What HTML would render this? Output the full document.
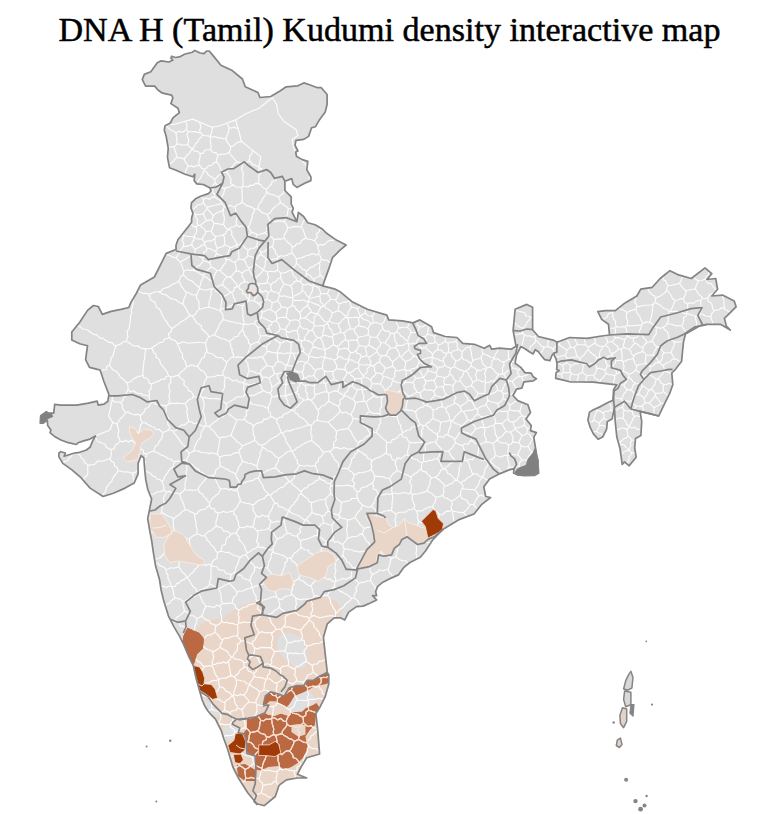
<!DOCTYPE html>
<html><head><meta charset="utf-8"><style>
html,body{margin:0;padding:0;background:#fff;width:770px;height:814px;overflow:hidden}
#t{position:absolute;left:4.5px;top:13.3px;width:770px;text-align:center;font-family:"Liberation Serif",serif;font-size:34.1px;line-height:1;color:#000;white-space:nowrap;-webkit-text-stroke:0.5px #000;transform:scaleY(1.0);transform-origin:50% 27px}
svg{position:absolute;left:0;top:0}
</style></head><body>
<svg width="770" height="814" viewBox="0 0 770 814">
<defs><clipPath id="c"><path d="M194.9 50.4L200.1 53L204 53.6L206.6 51L209.2 51L213.1 55.6L220.9 65.3L231.7 70.2L242.4 79L245.3 86.8L258 92.6L259.9 97.5L270.7 96.5L280.4 90.7L286.2 86.8L297.9 85.8L303.8 82.9L309.6 84.8L317.4 87.7L321.3 87.7L327.1 94.5L327.1 104.3L325.2 112.1L319.4 119.9L315.5 126.7L311.6 127.7L308.6 136.4L303.8 139.4L296 140.3L295 145.2L297.9 151L295.8 152.1L296.4 156.2L301.6 159.4L307.8 161.4L306.8 169.7L310.9 177L310.9 180.6L304.7 183.2L300 185.8L296.9 187.4L293.2 184.3L291.7 178.6L284.9 181.2L284.9 186.4L284.9 190.5L291.2 196.8L291.2 204L293.2 208.2L292.2 212.3L295.3 218.6L296.9 221.7L298.4 212.3L303.6 216.5L307.8 222.7L315.1 224.8L322.3 229L326.6 233.3L336.4 240.1L346.1 245L340.3 249.9L332.5 257.7L328.6 269.4L324.7 280.1L322.7 285.9L334.4 288.8L340 291.7L351.7 301.4L367.3 309.2L386.8 315.1L388.7 319.9L402.3 320.9L413.1 322.9L419.9 319.9L431.6 326.8L433.5 332.6L445.2 336.5L456.9 337.5L462.7 343.3L474.4 344.3L484.2 348.2L489.7 345.3L491.7 349.2L499.5 348.2L511.2 349.2L516 346.2L513.1 330.7L515.1 309.2L526.8 304.4L532.6 307.3L532.6 324.8L532.6 329.7L538.4 336.5L554 340.4L557 342.3L569.6 337.5L587.1 338.4L601.7 336L609.5 335L608.5 324.3L601.7 319.4L597.8 311.6L605.6 310.7L615.3 310.7L625.1 302.9L636.8 296L640.7 289.2L652.3 287.3L660.1 278.5L669.9 270.7L677.7 274.6L691.3 278.5L705 267.8L711.8 273.6L706.9 279.5L715.7 278.5L717.6 289.2L711.8 296L722.5 295.1L734.2 300.9L736.1 306.8L724.4 318.4L726.4 326.2L730.3 330.1L720.5 324.3L706.9 324.3L699.1 326.2L685.5 334L683.5 341.8L682.5 351.6L681.6 361.3L675.7 369.1L671.8 373L672.8 384.7L669.7 393.4L663.5 405.8L658.8 416L649.5 413.6L640.1 411.3L641.7 421.4L640.9 435.5L635.5 438.6L634.7 447.9L636.2 457.3L632.3 461.9L629.2 465.8L624.5 461.9L622.2 464.3L619.9 447.9L616.8 437L615.2 421.4L614.4 407.4L612.1 419.1L607.4 421.4L606.6 429.2L602.7 437L598.1 439.3L593.4 433.9L590.3 427.7L587.9 419.9L589.5 412.1L593.4 409.7L600.4 406.6L607.4 402.7L612.9 400.4L613.6 389.5L616.8 384.8L593.4 382.2L580 382L570.6 382L562.3 379.9L555.6 378.3L556.1 372.6L559.2 370.5L556.6 369.5L557.1 364.3L556.1 359.1L553.5 353.4L551.9 355.5L549.9 360.6L544.7 359.6L541.6 356L538.4 351.8L535.3 349.7L533.2 353.9L530.1 352.3L524.9 348.7L520.8 346.6L516.6 354.9L515.1 363.2L520.8 367.4L524.9 372.6L531.2 373.1L533.2 376.8L536.4 378.8L533.2 380.9L523.9 381.9L521.8 388.2L516.6 389.2L513 395.5L517.7 400.6L527.9 404.7L530.5 412.5L526 419L531.2 425.5L530.5 430.6L536.4 432.6L533.8 437.1L535 444.9L536.8 455.8L538.1 460.7L538.1 465.6L538.7 473L534.4 475.4L524.6 475.7L517.2 474.8L513.5 473L514.1 468.7L509.2 469.9L500 473.6L489.6 479L483.8 486.8L485.7 496.5L490.6 497.5L481.8 504.3L474 514L458.4 519.9L443.5 529L433.1 539.4L425.5 551L420.3 557.3L409.9 562.5L403.6 567.7L398.4 574.9L391.2 578.1L382.9 582.2L377.7 586.4L375.6 591.6L376.6 595.7L372.5 595.7L376.6 599.9L370.4 603L363.1 606.1L356.5 606.6L348.7 612.1L344.8 619.9L340.9 617.9L334.1 617.9L327.3 623.8L323.4 637.4L325.3 654.9L327.3 672.5L328.8 674.8L328.8 684L325.1 696.9L319.6 707.9L315.9 713.5L317.7 730.1L319.6 754L306.7 757.7L301.1 767L297.4 774.3L306.7 778L297.4 778L286.4 779.9L279 785.4L275.3 796.5L264.3 805.7L256.9 803.8L247.7 792.8L238.4 778L232.9 767L227.4 748.5L223.6 738.3L221.4 730.9L218.4 725L215.5 719.2L211 714.7L207.4 710.3L204.4 705.2L202.2 700L199.8 691.4L196.1 678.5L193.3 665.6L188.7 656.4L183.2 643.5L179.5 636.1L174 626.9L168.4 615.8L163.8 601.1L161.1 590L159.5 579.6L155.6 565.9L153.6 554.1L151.6 540.3L149.7 530.5L147.7 518.7L149.7 508.8L151.6 499L147.7 489.2L145.7 479.3L144.7 469.5L143.8 457.7L141 455.7L138.1 463.4L138.1 473.8L134.2 482.9L125.1 488.1L113.4 493.2L103.1 496.5L90.1 488.1L81 477.7L71.9 469.9L62.8 463.4L58.9 456.9L58.9 453L60.8 451.7L65.4 453L64.1 456.2L74.5 453L78.2 452.7L86.4 450L90 447.3L92.7 440.9L95.5 435.9L90 439.1L83.6 440.9L78.2 442.7L76.4 444.5L68.2 442.7L60.9 440L54.5 436.4L50 432.7L50.9 430L47.7 425.5L47.3 420L43.3 423.1L40.2 423.1L40.7 415.8L46.4 411.6L48 413.2L53.7 413.2L54.7 404.4L61.2 405.1L76.8 405.1L88.4 403.1L97.2 401.2L98.2 405.1L104 404.1L107.9 401.2L108.9 394.4L104 381.7L100.1 370L97.4 369.4L89.5 367.4L85.6 359.6L87.5 345.8L79.7 343.8L71.8 339.9L71.8 332L79.7 322.2L87.5 310.4L93.4 305.5L98.3 306.5L102.3 314.4L111.1 311.4L120.9 309.4L128.8 307.5L130.8 302.6L136.7 292.7L140.6 284.9L154.4 277L162.2 261.3L166.2 253.4L176 249.5L176 245.6L177.9 239.7L185.8 229.8L187.7 227.4L191.6 222.2L191.6 218.3L192.9 213.1L190.9 207.9L191.6 202.7L195.5 198.8L200.6 196.2L208.4 193.6L211 191L209.7 187.8L203.2 184.5L196.8 183.9L194.2 180.6L194.8 174.2L192.9 176.8L185.1 174.2L176 170.3L169.5 167.7L167.5 157.3L168.2 148.2L166.2 136.5L164.3 130L165.1 125.7L170.3 123.1L172.9 117.9L179.4 112.7L178 108.2L170.9 103.6L172.9 97.8L171.6 95.2L162.5 93.2L157.9 90L154.7 86.1L145.6 86.1L142.3 79.6L144.3 74.4L150.8 71.8L157.3 62.7L161.2 60.8L169 62L172.9 60.1L170.9 58.2L171.6 56.2L175.5 57.5L179.4 56.9L184.5 54.3L192.3 52.3Z"/></clipPath><clipPath id="cc"><path d="M187.2 627.8L199 632.7L203.9 638.6L202.9 648.4L197 654.3L194 664.1L190.1 662.2L185.2 648.4L182.2 642.5L183.2 636.6ZM262.3 707.4L263.3 705.3L265.4 696L270.6 691.8L277.9 693.9L284.1 696L289.3 687.7L296.6 685.6L303.8 685.6L307 680.4L313.2 680.4L319.4 676.2L323.6 674.2L327.7 672.1L329.8 680.6L327.7 683.5L319.4 685.6L315.3 685.6L309 689.7L301.8 692.9L294.5 696L289.3 704.3L286.2 707.4L275.8 701.2L269.5 701.2L265.4 705.3ZM247 718.1L257.5 716.3L265.1 713.4L273.9 716.3L280.9 713.4L289.1 716.3L290.3 712.2L301.9 711.8L306 708L313 705L316.5 703L319.5 707.5L316 715.7L314.8 725.1L310.1 729.7L305.5 736.8L309 741.4L306.6 750.8L303.1 757.8L298.4 762.5L291.4 767.1L284.4 769.5L278.6 766L268.1 767.1L261 770.6L255.2 769.5L255.2 760.1L252.9 755.5L247 751.9L243.5 746.1L241.2 741.4L242.3 734.4L247 728.6ZM236.6 764.9L245 764L255.5 770L255.5 781.1L245 781L238 776Z"/></clipPath></defs>
<path d="M194.9 50.4L200.1 53L204 53.6L206.6 51L209.2 51L213.1 55.6L220.9 65.3L231.7 70.2L242.4 79L245.3 86.8L258 92.6L259.9 97.5L270.7 96.5L280.4 90.7L286.2 86.8L297.9 85.8L303.8 82.9L309.6 84.8L317.4 87.7L321.3 87.7L327.1 94.5L327.1 104.3L325.2 112.1L319.4 119.9L315.5 126.7L311.6 127.7L308.6 136.4L303.8 139.4L296 140.3L295 145.2L297.9 151L295.8 152.1L296.4 156.2L301.6 159.4L307.8 161.4L306.8 169.7L310.9 177L310.9 180.6L304.7 183.2L300 185.8L296.9 187.4L293.2 184.3L291.7 178.6L284.9 181.2L284.9 186.4L284.9 190.5L291.2 196.8L291.2 204L293.2 208.2L292.2 212.3L295.3 218.6L296.9 221.7L298.4 212.3L303.6 216.5L307.8 222.7L315.1 224.8L322.3 229L326.6 233.3L336.4 240.1L346.1 245L340.3 249.9L332.5 257.7L328.6 269.4L324.7 280.1L322.7 285.9L334.4 288.8L340 291.7L351.7 301.4L367.3 309.2L386.8 315.1L388.7 319.9L402.3 320.9L413.1 322.9L419.9 319.9L431.6 326.8L433.5 332.6L445.2 336.5L456.9 337.5L462.7 343.3L474.4 344.3L484.2 348.2L489.7 345.3L491.7 349.2L499.5 348.2L511.2 349.2L516 346.2L513.1 330.7L515.1 309.2L526.8 304.4L532.6 307.3L532.6 324.8L532.6 329.7L538.4 336.5L554 340.4L557 342.3L569.6 337.5L587.1 338.4L601.7 336L609.5 335L608.5 324.3L601.7 319.4L597.8 311.6L605.6 310.7L615.3 310.7L625.1 302.9L636.8 296L640.7 289.2L652.3 287.3L660.1 278.5L669.9 270.7L677.7 274.6L691.3 278.5L705 267.8L711.8 273.6L706.9 279.5L715.7 278.5L717.6 289.2L711.8 296L722.5 295.1L734.2 300.9L736.1 306.8L724.4 318.4L726.4 326.2L730.3 330.1L720.5 324.3L706.9 324.3L699.1 326.2L685.5 334L683.5 341.8L682.5 351.6L681.6 361.3L675.7 369.1L671.8 373L672.8 384.7L669.7 393.4L663.5 405.8L658.8 416L649.5 413.6L640.1 411.3L641.7 421.4L640.9 435.5L635.5 438.6L634.7 447.9L636.2 457.3L632.3 461.9L629.2 465.8L624.5 461.9L622.2 464.3L619.9 447.9L616.8 437L615.2 421.4L614.4 407.4L612.1 419.1L607.4 421.4L606.6 429.2L602.7 437L598.1 439.3L593.4 433.9L590.3 427.7L587.9 419.9L589.5 412.1L593.4 409.7L600.4 406.6L607.4 402.7L612.9 400.4L613.6 389.5L616.8 384.8L593.4 382.2L580 382L570.6 382L562.3 379.9L555.6 378.3L556.1 372.6L559.2 370.5L556.6 369.5L557.1 364.3L556.1 359.1L553.5 353.4L551.9 355.5L549.9 360.6L544.7 359.6L541.6 356L538.4 351.8L535.3 349.7L533.2 353.9L530.1 352.3L524.9 348.7L520.8 346.6L516.6 354.9L515.1 363.2L520.8 367.4L524.9 372.6L531.2 373.1L533.2 376.8L536.4 378.8L533.2 380.9L523.9 381.9L521.8 388.2L516.6 389.2L513 395.5L517.7 400.6L527.9 404.7L530.5 412.5L526 419L531.2 425.5L530.5 430.6L536.4 432.6L533.8 437.1L535 444.9L536.8 455.8L538.1 460.7L538.1 465.6L538.7 473L534.4 475.4L524.6 475.7L517.2 474.8L513.5 473L514.1 468.7L509.2 469.9L500 473.6L489.6 479L483.8 486.8L485.7 496.5L490.6 497.5L481.8 504.3L474 514L458.4 519.9L443.5 529L433.1 539.4L425.5 551L420.3 557.3L409.9 562.5L403.6 567.7L398.4 574.9L391.2 578.1L382.9 582.2L377.7 586.4L375.6 591.6L376.6 595.7L372.5 595.7L376.6 599.9L370.4 603L363.1 606.1L356.5 606.6L348.7 612.1L344.8 619.9L340.9 617.9L334.1 617.9L327.3 623.8L323.4 637.4L325.3 654.9L327.3 672.5L328.8 674.8L328.8 684L325.1 696.9L319.6 707.9L315.9 713.5L317.7 730.1L319.6 754L306.7 757.7L301.1 767L297.4 774.3L306.7 778L297.4 778L286.4 779.9L279 785.4L275.3 796.5L264.3 805.7L256.9 803.8L247.7 792.8L238.4 778L232.9 767L227.4 748.5L223.6 738.3L221.4 730.9L218.4 725L215.5 719.2L211 714.7L207.4 710.3L204.4 705.2L202.2 700L199.8 691.4L196.1 678.5L193.3 665.6L188.7 656.4L183.2 643.5L179.5 636.1L174 626.9L168.4 615.8L163.8 601.1L161.1 590L159.5 579.6L155.6 565.9L153.6 554.1L151.6 540.3L149.7 530.5L147.7 518.7L149.7 508.8L151.6 499L147.7 489.2L145.7 479.3L144.7 469.5L143.8 457.7L141 455.7L138.1 463.4L138.1 473.8L134.2 482.9L125.1 488.1L113.4 493.2L103.1 496.5L90.1 488.1L81 477.7L71.9 469.9L62.8 463.4L58.9 456.9L58.9 453L60.8 451.7L65.4 453L64.1 456.2L74.5 453L78.2 452.7L86.4 450L90 447.3L92.7 440.9L95.5 435.9L90 439.1L83.6 440.9L78.2 442.7L76.4 444.5L68.2 442.7L60.9 440L54.5 436.4L50 432.7L50.9 430L47.7 425.5L47.3 420L43.3 423.1L40.2 423.1L40.7 415.8L46.4 411.6L48 413.2L53.7 413.2L54.7 404.4L61.2 405.1L76.8 405.1L88.4 403.1L97.2 401.2L98.2 405.1L104 404.1L107.9 401.2L108.9 394.4L104 381.7L100.1 370L97.4 369.4L89.5 367.4L85.6 359.6L87.5 345.8L79.7 343.8L71.8 339.9L71.8 332L79.7 322.2L87.5 310.4L93.4 305.5L98.3 306.5L102.3 314.4L111.1 311.4L120.9 309.4L128.8 307.5L130.8 302.6L136.7 292.7L140.6 284.9L154.4 277L162.2 261.3L166.2 253.4L176 249.5L176 245.6L177.9 239.7L185.8 229.8L187.7 227.4L191.6 222.2L191.6 218.3L192.9 213.1L190.9 207.9L191.6 202.7L195.5 198.8L200.6 196.2L208.4 193.6L211 191L209.7 187.8L203.2 184.5L196.8 183.9L194.2 180.6L194.8 174.2L192.9 176.8L185.1 174.2L176 170.3L169.5 167.7L167.5 157.3L168.2 148.2L166.2 136.5L164.3 130L165.1 125.7L170.3 123.1L172.9 117.9L179.4 112.7L178 108.2L170.9 103.6L172.9 97.8L171.6 95.2L162.5 93.2L157.9 90L154.7 86.1L145.6 86.1L142.3 79.6L144.3 74.4L150.8 71.8L157.3 62.7L161.2 60.8L169 62L172.9 60.1L170.9 58.2L171.6 56.2L175.5 57.5L179.4 56.9L184.5 54.3L192.3 52.3Z" fill="#dfdfdf"/>
<g clip-path="url(#c)">
<path d="M129.4 426.5L135.6 428.6L138 434L139.7 432.7L143.9 428.6L152.2 430.6L154.3 434.8L148 439L141.8 443.1L139.7 451.4L137.7 459.7L127.3 461.8L123.1 457.7L131.4 451.4L135.6 443.1L131.4 436.9L129.4 430.6ZM150 513.8L161.8 513.8L165.7 519.7L171.6 529.5L172.4 533.8L167.7 535.4L163.9 537.5L155.9 537.4L152.9 531.5L150 530.5ZM172.6 530.5L179.5 532.4L184.4 535.4L187.4 541.3L192.3 549.2L197.2 556L204.1 560L205.1 563.9L199.2 564.9L189.3 562.9L177.5 561L169.7 562.9L164.7 555.1L163.8 544.2L166.7 539.3L168.7 535.4ZM384.3 391L389.5 390.4L394.7 391.7L399.2 393L403.1 393.6L405.1 396.9L403.1 399.5L402.5 406L400.5 411.2L396 415.1L390.1 415.1L386.9 411.2L385.6 407.9L387.5 401.4L386.9 395.6ZM366.9 513.4L376 516L385.7 517.9L389 525.1L392.9 527.7L399.4 525.1L404.5 518.6L408.4 522.5L416.2 525.1L422.7 527.7L426.6 529L427.9 536.8L424 543.2L417.5 544.5L411 539.4L407.1 536.8L401.9 539.4L399.4 544.5L394.2 548.4L391.6 554.9L383.8 554.9L381.2 551L377.3 554.9L376 562.7L369.5 566.6L357.8 567.9L360.4 558.8L366.9 549.7L374.7 541.9L373.4 532.9L370.8 525.1L365.6 517.3ZM297 566.2L310.7 556.5L316.5 552.6L326.2 550.7L334 554.5L336 562.3L328.2 566.2L325.7 576L318.4 581.4L310.7 578L299 575ZM261.9 577.9L271.7 574L281.4 576L289.2 572.1L293.5 581.8L291.2 589.6L281.4 588.7L273.6 591.6L267.8 589.6L263.9 583.8ZM185.6 627L194.9 630.1L204.3 622.3L213.6 619.2L223 617.7L232.3 611.4L238.6 606.8L247.9 603.6L254.9 602.1L261.9 606.8L262.7 614.9L276.8 617.3L280 613.6L286.2 611.6L294.5 611.6L296.6 608.4L302.9 605.3L304.9 600.1L311.2 598.1L319.5 597L323.6 597L331.9 599.1L338.2 603.2L341.3 609.5L342.3 616.8L341.3 620.9L334.1 617.9L327.3 623.8L323.4 637.4L325.3 654.9L327.3 672.5L328.8 674.8L328.8 684L325.1 696.9L319.6 707.9L315.9 713.5L317.7 730.1L319.6 754L306.7 757.7L301.1 767L297.4 774.3L306.7 778L297.4 778L286.4 779.9L279 785.4L275.3 796.5L264.3 805.7L256.9 803.8L247.7 792.8L238.4 778L232.9 767L227.4 748.5L221.8 731.9L216.4 719.1L210.9 709.9L205.3 700.6L199.8 691.4L196.1 678.5L193.3 665.6L188.7 656.4L183.2 643.5ZM622 706L626 705L627 712L626 720L624 727L621 726L620.5 716ZM617 739L621 738.5L622.5 743L621 747L616 747.5L615.8 743Z" fill="#ead6c9"/>
<path d="M278 637L284 633L291 633L298 636L305 646L307.9 658L305 667.9L296 668L290 663L283 657L277 648ZM293.5 636.5L302.9 636.5L303 650L294 650ZM290.3 693L299 690L309 691L315.3 698L313 705L306 708L301.9 711.8L291.4 712.2L289.1 705.2ZM200.8 692.5L206.6 701.5L210.3 700L213.3 704.4L217.7 708.8L222.1 713.3L221.4 717.7L215 715L208 710ZM222.8 728L232.4 724.3L235.4 725.8L239.8 728L238.3 733L236 738L228 741.3L224 738ZM177 622L185.6 621L183 630L182.5 642.6L179.5 636.1L174 626.9Z" fill="#dfdfdf"/>
<path d="M187.2 627.8L199 632.7L203.9 638.6L202.9 648.4L197 654.3L194 664.1L190.1 662.2L185.2 648.4L182.2 642.5L183.2 636.6ZM262.3 707.4L263.3 705.3L265.4 696L270.6 691.8L277.9 693.9L284.1 696L289.3 687.7L296.6 685.6L303.8 685.6L307 680.4L313.2 680.4L319.4 676.2L323.6 674.2L327.7 672.1L329.8 680.6L327.7 683.5L319.4 685.6L315.3 685.6L309 689.7L301.8 692.9L294.5 696L289.3 704.3L286.2 707.4L275.8 701.2L269.5 701.2L265.4 705.3ZM247 718.1L257.5 716.3L265.1 713.4L273.9 716.3L280.9 713.4L289.1 716.3L290.3 712.2L301.9 711.8L306 708L313 705L316.5 703L319.5 707.5L316 715.7L314.8 725.1L310.1 729.7L305.5 736.8L309 741.4L306.6 750.8L303.1 757.8L298.4 762.5L291.4 767.1L284.4 769.5L278.6 766L268.1 767.1L261 770.6L255.2 769.5L255.2 760.1L252.9 755.5L247 751.9L243.5 746.1L241.2 741.4L242.3 734.4L247 728.6ZM236.6 764.9L245 764L255.5 770L255.5 781.1L245 781L238 776Z" fill="#ba6942"/>
<path d="M291.4 725.1L298.4 723.9L305.5 725.1L305.5 734.4L298.4 736.8L291.4 732.1ZM310.1 729.7L316 727.4L317.1 739.1L317.1 750.8L310.1 750.8L306.6 743.8L305.5 736.8ZM266.9 714.5L268 708L272 703.5L278 703.5L286.2 709L289.1 715.7L280.9 713.4L273.9 715.7ZM243.5 753.1L255.2 755.5L255.2 764L247 764L240 762Z" fill="#ead6c9"/>
<g stroke="#fdfcfb"><path id="dp" d="M63.3 462.7L65 461.2L67.9 460.7L69 458.2L70.9 456.6L72.5 454.5L72.6 454.4M77.5 453.6L77.7 454.1L80.2 455.3L81.2 457.9L83.4 459.5L84.3 462.1L86.4 463.7L88.2 465.5M77.9 325.7L78.3 326.2L80.7 327L82.5 329L85.2 329.3L87.7 329.8L89.5 331.8L91.8 332.9L93.6 334.7L96.6 334.5L98.3 336.6L100.3 338.1L103 338.4L105 339.9L107.2 341.1L109.4 342.4L112.1 342.6L113.8 344.8L115.9 346.1M84.1 480L84.1 477.6L86.9 475.7L87.8 473.3L87.8 470.7L87.6 468L88.2 465.5M110 458.6L107.5 459.3L105.2 460.3L102.8 461.3L100.1 461L97.4 461.1L95.6 463.7L93.3 464.7L90.7 464.9L88.2 465.5M111 449.5L108.5 448.5L106.2 447.3L105.1 444.3L102.5 443.5L100.3 442.2L97.7 441.3L96.2 439L95.1 438.2M109.5 365.3L106.9 366.4L106.2 369.6L102.8 369.7L101.3 371M118 470.6L116.8 472.8L115.2 474.8L113.7 476.9L112.3 479L111.8 481.7L109.4 483.2L108.3 485.4L106.4 487.3L105.9 490L104.9 492.4L103.2 494.3L102.6 495.2M109.5 365.3L111.2 367.5L112.8 369.8L115.5 370.9L117.6 372.8L119.3 374.9L120.6 377.5L123.1 378.9L125 381L127 382.8M115.9 346.1L114.8 348.4L114.4 350.9L113.4 353.3L113.1 355.8L111.1 357.9L111.1 360.5L109.7 362.7L109.5 365.3M118 470.6L117.2 467.6L114.5 466L114.1 462.8L111.3 461.2L110 458.6M110 458.6L111.3 455.7L111.1 452.6L111 449.5M120.2 441.1L118.2 443.5L115.3 444.9L114.4 448.6L111 449.5M112 400.7L113.1 400.6L115.4 402.2L118.2 401.7L120.7 402.7M117 423.6L114.5 423.3L112.6 422.1M115.9 346.1L118.3 344.7L121 343.9L123.2 341.8L126.1 341.5M117 423.6L117.6 426L118.2 428.5L118.9 431L118 433.7L117.9 436.3L119.5 438.6L120.2 441.1M125.3 412.5L124 415L122.2 417.1L120.1 419L118.8 421.5L117 423.6M132.6 473.4L129.8 472.2L126.8 471.9L123.8 472L120.9 471.3L118 470.6M133.9 441.7L131.2 440.2L128.4 442.1L125.8 440.2L122.9 441.9L120.2 441.1M125.3 412.5L123.9 410.2L122.4 407.9L122.4 404.9L120.7 402.7M128.1 389.9L126.4 392.3L126.6 395.8L123.4 397.5L122.8 400.5L120.7 402.7M125.3 412.5L128 411.9L130.3 413.4L132.7 414.2L135.1 414.9L137.9 414.1L140.2 415.7M126.1 341.5L128.5 342.4L130.6 343.7L132.6 345.4L135 346.2L137.9 345.8L139.9 347.5L142.1 348.6L144.8 348.6M133.2 300.1L133.4 302.8L132.4 305.3L132.2 307.9L131.3 310.5L131.8 313.2L130.5 315.6L130.4 318.3L130.2 320.9L129.9 323.5L129.4 326.1L129.2 328.7L127.2 331L127.3 333.7L127.9 336.5L127 339L126.1 341.5M127 382.8L128 386.3L128.1 389.9M127 382.8L129.5 382.2L131.7 381L133.4 378.7L135.9 377.9L137.9 376.2L140.8 376.3L142.9 374.9M148.8 396.2L146.3 395.2L143.4 395.2L141.1 393.5L138.3 393.5L135.8 392.5L133.5 390.8L130.3 391.8L128.1 389.9M132.6 473.4L133.2 476L133.7 478.5L133.8 481.1L134 481.4M132.6 473.4L135.2 472.4L137.2 470.3L137.3 470.3M133.9 441.7L135.3 443.9L137.3 445.5L139.3 447L140.9 449L143.3 450.2L143.7 453.4L146.7 454M133.9 441.7L134.6 439.1L135.9 436.8L136 434L138.5 432.3L139.6 429.9L140.1 427.2L140.6 424.6L142.6 422.6M138.7 290.5L140.1 292.3L142.6 293.3L145.5 293.3L148.2 293.9M142.6 422.6L140.5 419.4L140.2 415.7M151.4 402.8L149.7 405.1L148.1 407.5L145.2 408.8L144.3 411.7L142.3 413.8L140.2 415.7M163.1 432.5L160.9 431.2L159.1 429.2L156 429.8L154.4 427.3L151.9 426.7L149.6 425.6L147.5 424.2L145.4 422.7L142.6 422.6M142.9 374.9L143.8 377.6L146.7 378.3L148.5 380.1L149.1 383.1L151.8 384M142.9 374.9L142.8 372.3L143.2 369.6L143.3 367L143.7 364.4L143.8 361.8L144.5 359.2L144.8 356.5L144.8 353.9L145.6 351.3L144.8 348.6M144.6 458.1L146.1 456.8L146.7 454M144.8 348.6L148.2 349L151.5 348.3M145 462.9L145.6 462.6L144.9 461.3M161.7 481.5L159.9 479.4L156.9 479L155.2 476.7L152.5 475.9L150.8 473.7L148.5 472.2L145.8 471.3L145.7 471.1M153.7 451.1L151.3 451.8L148.9 452.7L146.7 454M171.8 328.4L169.9 326.5L168.2 324.6L167 322.2L165.5 320.1L163.8 318.1L162.6 315.7L161.5 313.3L160.6 310.8L159 308.7L156.3 307.3L155.8 304.5L154.7 302.1L152 300.8L150.1 298.9L149.9 295.9L148.2 293.9M158.5 291.7L155.8 291.7L153.3 292.7L150.8 293.6L148.2 293.9M148.6 518.3L149.9 517.9L152.5 517.4L154.7 516.2L156.8 514.8L159.4 514.4L161.3 512.6M148.8 396.2L149.6 399.7L151.4 402.8M151.8 384L151 386.4L151 389L148.8 391.1L149.9 393.9L148.8 396.2M150.7 494.6L151.4 494.3L154.1 494.1L156.2 492.1L158.9 492L161.5 491.3L163.8 489.9M150.8 532.2L153 531.6L155.4 532.9L158 533.4L160.7 533.4L163.6 532.2L165.7 534.9L168.2 535.9L171 535.3L173.4 536.6M151.4 402.8L154 402.6L156.1 404.5L158.7 404.8L161.2 405L163.7 405.4L166.1 405.9M168.9 376L167.6 373.8L166.9 371.3L165.1 369.4L163.7 367.4L162.1 365.4L160.3 363.6L160 360.8L158.5 358.7L156 357.3L156.2 354.2L153.8 352.8L153 350.3L151.5 348.3M169.6 337.5L167.2 338.5L164.4 339.1L163.1 342L160.3 342.4L158 343.6L155.9 345.3L153.6 346.6L151.5 348.3M151.8 384L154.2 382.8L156.5 381.4L159.3 381.1L161.3 379L164.6 379.5L166.1 376.5L168.9 376M175.2 461.8L172.6 461L170.6 459L167.9 458.6L165.8 456.7L163.3 455.7L160.7 454.9L158.5 453.3L156 452.3L153.7 451.1M163.1 432.5L162.2 435L162 437.8L160.4 439.9L158.9 442.1L158 444.6L155.5 446.2L154.4 448.5L153.7 451.1M167.8 551.7L166.4 554.2L163.3 554.1L161.7 556.3L159.7 557.8L157.2 558.8L155.3 559.2M156 563.2L158 563.3L159.5 565.6L162 566.5L164.3 567.6L166 569.7M158.5 291.7L160.9 293.1L163.3 294.4L166.2 294.8L168.3 296.7L170.5 298.4L173.2 299.2L176 299.6L178 301.8L180.5 303L183 304.1M158.5 291.7L161.2 290.9L163.2 288.7L165.9 287.8L168.6 287.1L170.8 285.2L173.3 284L175.9 283L178.2 281.4M161.3 512.6L163.9 513.6L166.3 515.1L168.7 516.5L171.5 517L173.5 519.2M166.3 492L165.3 494.5L163.8 496.8L163.4 499.5L164.4 502.4L163 504.8L162.2 507.3L162 510L161.3 512.6M161.4 587L163.5 586.1L166.2 587.8L168.6 586.2L171.2 586.3M163.8 489.9L163.8 486.9L163.1 484.1L161.7 481.5M175.2 461.8L173.7 464L173.3 466.9L170.7 468.3L168.8 470.3L167.6 472.7L166 474.8L164.4 476.9L163.8 479.7L161.7 481.5M163.1 432.5L166.1 431.3L168.9 429.7M166.3 492L163.8 489.9M165.9 126.2L168 127.5L169.8 129.3L172.1 130.4L174.4 131.5L176.2 133.3M165.9 605.3L166.7 604.3L169.3 603.3L170.8 601L173 599.5L175 597.8M171.2 586.3L170.6 583.4L169.2 580.8L167.9 578.2L168 575.1L166.4 572.6L166 569.7M166 569.7L168.4 568.8L170.9 567.7L173.7 568.2L176.2 567.5L178.7 566.8M168.9 429.7L169.9 426.9L167.8 424.4L167.8 421.7L168.5 419L167.5 416.4L165.6 414L166.2 411.2L166.3 408.5L166.1 405.9M168.8 404.1L166.1 405.9M166.3 492L169.1 491.2L171.6 492.9L174.3 493.2L177 493.2L179.7 493.7M166.4 254.7L168.8 255.3L171.3 256.2L173.6 257.4L176.2 257.7M167.8 551.7L170.7 552.6L173.2 554.3L174.9 557L178 557.9L180.1 560.1M167.8 551.7L168.8 549.2L169.6 546.6L170.4 544.1L171.4 541.6L172.4 539.1L173.4 536.6M168.8 146.8L169 146.8L171.5 146.8L174 146.9M171 376.8L170.7 379.5L170.9 382.3L168.8 384.9L168.9 387.6L170 390.4L169.7 393.2L168.8 395.8L169.6 398.6L169.2 401.4L168.8 404.1M185.3 403.4L182.6 403.5L179.8 403.5L177 403.1L174.3 403.5L171.5 403.1L168.8 404.1M173.4 431L168.9 429.7M171 376.8L168.9 376M177.3 157.4L175.1 158.8L173.6 160.9L171.7 162.5L169.6 163.9M177.1 343.1L175.2 340.4L171.8 339.8L169.6 337.5M171.8 328.4L171.3 331.5L168.4 334L169.6 337.5M171 376.8L173.6 376.6L176.1 375.6L178.7 375.4M172 586.7L171.2 586.3M191.1 316L188.4 316.5L186.5 318.3L184.5 319.9L182.3 321.1L180.1 322.4L178.3 324.3L176 325.5L174.2 327.3L171.8 328.4M172 586.7L172.9 589.5L173.5 592.3L173.8 595.2L175 597.8M172 586.7L175.2 586.4L176.7 583.6L179.4 582.6L181.4 580.4L184.2 579.6L186.3 577.6M172.4 621.9L173.8 621.4M173.4 536.6L174.5 536M189.2 453.5L187.6 451.3L185.3 449.5L185.1 446.3L182.8 444.6L181.1 442.4L179.6 440.1L178 437.8L176.4 435.6L174.4 433.7L173.4 431M188.7 421.7L186.6 423.1L184.8 425L181.7 424.9L179.7 426.6L177.8 428.4L176.1 430.5L173.4 431M173.5 519.2L173.2 522L173.4 524.8L173.4 527.6L174.6 530.4L174.8 533.2L174.5 536M185.4 509.7L183.3 511.1L181.1 512.4L179.6 514.6L177.3 515.7L175.3 517.3L173.5 519.2M190.3 631.3L187.7 630.3L185.8 628.1L183.6 626.4L180.5 626.2L179.1 623.3L176.6 622.1L173.8 621.4M173.8 621.4L175.6 619.7L176.7 617.3L179.1 616.1L181.1 614.6L182.9 612.8L184.5 610.8M177.3 157.4L176.3 154.9L175.7 152.1L174.7 149.6L174 146.9M176.7 144.3L174 146.9M174.5 536L177.1 536.3L179.9 535.4L182.3 536.7L184.5 539L187.2 538.7L189.8 538.6M175 597.8L177.8 598.5L180.5 599.4L182.8 601.3M186.4 459.5L183.7 460.3L180.9 461.2L178 460.9L175.2 461.8M176.2 257.7L178 260.2L180.4 262.1M176.2 257.7L177.6 255.4L179.4 253.4L179.9 250.5L181.9 248.6L183.3 246.4M176.2 133.3L176.3 136.1L176.8 138.8L176.9 141.5L176.7 144.3M176.2 133.3L178.3 131.3L181.5 132.1L184.1 131.4L186.2 129.3M176.7 144.3L179.5 144L182.3 145.2L185.1 144.9L187.9 144.6M177.1 343.1L179.7 343.5L182.3 341.9L184.9 342.3L187.5 343.1L190 343.2L192.6 342.5L195.2 342.7L197.8 342.2L200.4 342.5L203 342.7L205.6 342.9M186.9 366.5L185.8 364.2L185.4 361.6L183.8 359.5L182.4 357.4L182.5 354.6L181.5 352.3L179.7 350.3L179.4 347.6L178 345.5L177.1 343.1M184.4 159.1L181 157.9L177.3 157.4M178.2 281.4L180.2 283.2L181 286L183 287.9L184.3 290.3L186.2 292.3M178.2 281.4L179.8 279.3L180.7 276.7L182.9 275.1M178.7 566.8L180.4 568.8L181.5 571.2L183.4 573.1L185.8 574.7L186.3 577.6M180.1 560.1L179 563.3L178.7 566.8M178.7 375.4L180.2 377.6L182.2 379.3L184.3 380.9L183.8 384.5L185.6 386.3L187.8 387.9L188.5 390.6L191.2 391.8L192.7 394L193.6 396.5M178.7 375.4L180.3 372.7L182.7 370.9L185.1 368.9L186.9 366.5M185.4 509.7L184.3 507.1L183.8 504.3L182.6 501.7L181.2 499.2L180.5 496.4L179.7 493.7M179.7 493.7L182.4 491.9L184.6 489.7M180.1 560.1L183.3 559.6L185.1 556.8L187.3 554.5L190.4 553.9M184 271.1L182.8 268.1L181.6 265.1L180.4 262.1M180.4 262.1L182.8 260.6L185.2 259.2L187.6 257.7L190 256.2L192.2 254.4L194.7 253.2M182.1 639.6L183.4 638.8L184.5 636.3L186 634.2L189.3 633.8L190.3 631.3M183.3 246.4L183.7 243.3L182.2 240.5L183.7 237.3L182.6 235.1M182.8 601.3L182.9 604.6L183.7 607.7L184.5 610.8M198.7 593.5L196.7 595.1L194.7 596.8L191.3 595.6L189.7 598.1L187.4 599.3L185.4 601L182.8 601.3M182.9 275.1L185.2 276.3L186.8 278.4L188.8 279.9L191.5 280.7L193.5 282.3L195.3 284.2L197.1 286L199.2 287.5M184 271.1L182.9 275.1M182.9 234.7L185 235.7L187.9 236.5L191 236.5L194 236.9M183 304.1L184.7 306.4L186.3 308.8L187.3 311.6L189 314L191.1 316M183 304.1L183.5 301.1L184.3 298.1L185.9 295.4L186.2 292.3M183.3 246.4L186.2 246.4L189 245.5L191.8 244.9M184 271.1L186.9 269.8L189.9 270.4L192.9 270.1M184.4 159.1L185.2 161.8L187.1 163.9L188 166.5M184.4 159.1L185.9 156.8L187.5 154.7L189.7 153.1L190.9 150.7L192.5 148.6M197.5 618.7L195.4 617.4L193.4 615.7L190.4 615.7L188.6 613.9L186.6 612.2L184.5 610.8M184.6 489.7L187.4 490.3L190.1 489.9L192.8 490.5L195.6 490L198.3 490M187.4 461.7L186.6 464.2L186.8 466.8L187.1 469.4L186 471.9L186.4 474.5L186 477L186 479.6L185.4 482.1L184.9 484.6L185.1 487.2L184.6 489.7M184.9 173.3L185.7 171L186.8 168.8L188 166.5M188.7 421.7L188.2 419.1L187.4 416.5L187.4 413.8L186.6 411.3L187.4 408.4L186.2 406L185.3 403.4M193.6 396.5L191.8 398.5L189.1 399.5L187.3 401.5L185.3 403.4M185.4 509.7L188.2 510L190.1 511.9L192.7 512.4L194.7 514.3M186 121L185.6 121.7L186.7 124.3L187 126.8L186.2 129.3M186.2 292.3L188.9 292.7L191.2 294.4L193.8 295L196.6 295M186.2 129.3L188.5 131.6M186.3 577.6L186.8 577.6M186.4 459.5L187.4 461.7M189.2 453.5L188.3 456.7L186.4 459.5M186.8 577.6L188.7 579.6L190.4 581.9L191.6 584.4L193.1 586.7L195.6 588.3L196.7 591L198.9 592.8M186.8 577.6L189.1 576L190.8 573.8L193.1 572.3L194.5 569.7L196.6 567.9L198.3 565.7L200.9 564.4M186.9 366.5L189.5 365.9L192.1 364.7L194.8 366.2L197.4 365.9M187.4 461.7L189.5 463.5L192.2 464.4L193.9 466.5L196.1 468.1L198.6 469.2L200 471.8L202.5 472.9L204.8 474.4L206.9 476.1M187.9 144.6L189.6 147.3L192.5 148.6M187.9 144.6L188.3 142L188.9 139.4L187.3 136.7L187.1 134.1L188.5 131.6M188 166.5L190.9 165.9L194 166.9L196.8 165.4L199.8 165.7M188.5 131.6L191.5 131.7L194.5 131.6L197.5 132.4L200.5 132.6M204.7 426.4L202 425.8L199.3 424.9L197 423.1L193.9 423.7L191.6 421.8L188.7 421.7M189.2 453.5L192.7 451.5M189.5 656.3L191.8 655.7M189.8 538.6L189.4 541.1L189.9 543.7L190.2 546.2L190.7 548.8L189.8 551.4L190.4 553.9M189.8 538.6L191.9 536.8L194 535.2L196.5 534.2M190.3 631.3L193.4 630.7M196.5 226.3L193.8 226.9L191.7 224.6L190.4 225.2M190.4 553.9L192.4 556.1L194.4 558.3L197 559.8L199.4 561.6L200.9 564.4M192.6 315.9L191.1 316M195.3 249.5L193.3 247.3L191.8 244.9M191.8 244.9L192.1 242.1L193.9 239.8L194 236.9M204.9 666.5L202.3 665.3L200.7 662.8L198.1 661.4L196.2 659.3L194.3 657.2L191.8 655.7M201.6 644.8L199.5 646.9L197.4 649L195.1 650.8L193.3 653.1L191.8 655.7M203.4 202.5L201.1 204.3L197.8 204.7L195.8 207L193.5 208.9L192.4 209.6M192.6 148.6L194.4 151.1L197.7 151.4L199.9 153.4M192.6 148.6L194.4 146.3L195.4 143.6L197.9 141.9L199 139.1L201.1 137.1L202.7 134.8M192.6 315.9L193.7 318.4L195.3 320.5L196.6 322.8L199 324.2L201.4 325.7L201.5 329L203.7 330.5L205.5 332.5L207.7 334.1L208.7 336.7M199.6 309.1L196.9 311L195.6 314.3L192.6 315.9M192.7 451.5L194.4 449.5L194.6 446.8L195.9 444.6L196.7 442.2L198.1 440.1L200 438.2L200.9 435.8L201 433.1L201.8 430.6L203.7 428.7L204.7 426.4M192.7 451.5L195.5 451L198.3 450.8L200.9 452.5L203.6 452.7L206.3 452.8L209 453.6L211.8 452.9L214.5 453.5L217.2 454.1M203 275.2L200.3 274.3L198.2 272.3L195.5 271.2L192.9 270.1M192.9 270.1L195.1 268.4L197.2 266.5L199.8 265.2L201.7 263.1L203.4 260.7M201.1 638.6L199.5 636.3L197.6 634.3L195.4 632.5L193.4 630.7M193.4 630.7L194.9 628.5L194.7 625.8L196.2 623.6L196.5 621.1L197.5 618.7M193.5 212.5L195.6 214.2M200.3 396.2L197 397.2L193.6 396.5M202.5 239.5L199.7 238.8L196.6 238.9L194.1 236.9M196.5 226.3L196.3 229.1L196.8 232L195 234.3L194.1 236.9M194.7 514.3L194.7 517.2L195.5 520L196.1 522.8L195.9 525.6L197.1 528.4L197 531.3L196.5 534.2M194.7 514.3L197.4 513.2L199.2 510.6L202.1 509.8L205.1 509.3L207.1 507L209.5 505.4M202.3 258L199.7 256.6L197.5 254.4L194.7 253.2M194.7 253.2L195.3 249.5M195.3 249.5L197.5 248L199.8 247L201.8 245.2L204.5 244.6M195.6 214.2L198.1 214.8L200.6 214.4L203.1 213.9M195.6 214.2L195.8 217.1L197.6 219.6L197 222.6L198.1 225.3M204.9 666.5L203 668.3L201.9 670.7L200.4 672.8L197.9 674.1L196.4 676.1M198.1 225.3L196.5 226.3M196.5 182.3L198.4 180.7L200.1 178.5L201.6 176.1L202.7 173.4L204.2 171M196.5 534.2L199.3 534.2L201.7 536L204.5 535.6M199.6 309.1L198.9 306.3L199.2 303.3L198.4 300.5L196.4 298L196.6 295M196.6 295L198.1 291.8L199.6 288.5M197.4 365.9L199.1 368.2L200.9 370.4L203.9 371.5L205.5 373.9L206.8 376.5M206.8 351.5L205.1 353.8L204.6 356.9L201.8 358.5L200.5 361.1L199.1 363.5L197.4 365.9M201.4 616.1L197.5 618.7M200.3 225.4L198.1 225.3M198.3 490L199.7 492.5L202.4 493.9L203.7 496.6L206 498.4L207.4 500.8L209.5 502.8M198.3 490L198.9 487.2L200.6 485L202.2 482.8L204.4 480.9L205.8 478.6L206.9 476.1M198.7 593.5L200.3 596L201.2 598.9L202.3 601.6L204.5 603.8L205.8 606.5M198.7 593.5L198.9 592.8M198.9 592.8L200.1 589.8L203 589L205.7 587.9L208 586.3L209.8 584.1M199.6 288.5L199.2 287.5M203.6 276.5L202.5 279.3L200.9 281.9L200.5 284.9L199.2 287.5M199.3 686.8L200.8 684.7L203.5 684.3L205.9 683.4L208.6 683.1L210.8 681.4L213.1 680.2L216.2 680.8L218.4 679.1M199.6 309.1L202.5 308.7L205.3 307.5L208.3 307.3M199.6 288.5L202.1 289.6L204.6 289.8L207.1 290L209.7 289.1L212.2 289M199.7 122.1L199.6 122.6L200.5 125.1L201 127.6L199.5 130.1L200.5 132.6M199.8 165.7L201.6 168L204 169.6M199.9 153.4L200.3 156.4L199.4 159.5L198.7 162.6L199.8 165.7M199.9 153.4L202.9 153.4L204.8 150.3L207.7 149.8L210.6 149.7M200.3 225.4L202.1 227.6L204.5 229.3L205.9 231.8M200.3 225.4L202.2 223.7L204.2 222.2L206.3 220.7M202.7 398L200.3 396.2M206.8 376.5L206.3 379.1L204.6 381.3L204.1 383.8L203.1 386.2L203.8 389.2L201.7 391.2L200.9 393.7L200.3 396.2M200.5 132.6L202.7 134.8M200.9 564.4L203.4 564.8L206 565.4L208.7 564.2L211.2 565.3M201.1 638.6L203.9 638.7L205.8 636.6L207.9 635L210.6 634.9L212.8 633.6L215.1 632.4M201.6 644.8L201.1 641.7L201.1 638.6M216 625.8L213.5 624.3L210.5 623.6L209 620.5L205.9 619.9L203.8 617.8L201.4 616.1M205.8 606.5L204.5 608.8L203.6 611.3L202.9 613.9L201.4 616.1M203.4 199.5L201.7 197.3L201.5 196.7M201.6 644.8L203.6 646.5L205.6 648.2L207.7 649.8L210.6 650.2L212.7 651.8M201.7 695.3L203.8 695.9L206.3 696.8L208.8 697.7L211.3 698.3M203.4 260.7L202.3 258M202.3 258L204.6 256.1L203.5 252.6L206.5 250.9L206.7 248M204.5 242.8L202.5 239.5M202.5 239.5L203.1 236.7L205 234.4L205.9 231.8M210.2 136.3L207.7 135.9L205.1 135.8L202.7 134.8M205.8 425.9L206.2 423.3L205.1 420.8L205 418.3L204.7 415.7L203.7 413.3L202.6 410.8L203.8 408.1L204.2 405.5L203.9 403L203.2 400.5L202.7 398M202.7 398L205.5 397.4L208.1 398.5L210.8 398.6L213.5 398.8L216.3 398.5L218.9 398.9L221.6 399.4M203 275.2L203.6 276.5M203 275.2L205.2 273.3L206.9 270.8L209 268.7L211.5 267.1M203.1 213.9L204.9 217.2L206.3 220.7M203.1 213.9L205.1 211.3L207 208.7M203.4 202.5L204.9 205.2L207 207.4M203.4 199.5L203.4 202.5M203.4 260.7L206.4 261.5L209.3 262.6M203.4 199.5L206 198L209.3 199.4L211.7 197.6L214.5 196.9M203.6 276.5L206.8 277.4L209.1 279.8L212.1 281.3M204.2 171L204 169.6M216.3 161.5L213.8 163.1L211.7 165.2L208.6 165.8L206.5 168L204 169.6M204.2 171L206.9 172L208 174.8L210.4 176.2L212.6 177.8L214.7 179.6M204.5 244.6L206.7 248M204.5 244.6L204.5 242.8M204.5 242.8L206.8 241L209.9 241.1L212.6 240.1L215 238.5M204.5 535.6L206.3 537.6L207 540.3L209.5 541.8L210.6 544.3L212.5 546.2L214.5 547.9L215.4 550.6L217.5 552.4M204.5 535.6L206.1 533.5L208 531.9L210.4 530.9L212.6 529.5L214.3 527.6L216.4 526.3M204.7 426.4L205.8 425.9M204.9 666.5L208.4 665.9L211.9 665.7M206.8 351.5L206.6 348.6L205.9 345.8L205.6 342.9M208.7 336.7L207 339.7L205.6 342.9M205.8 606.5L208.6 606.4L211.3 606.7L214.1 607.7L216.8 605.2L219.6 606M209.2 426.3L205.8 425.9M205.9 231.8L208.5 231.3L211.2 231.1M206.3 220.7L209.2 219.9L212.1 220.7M206.7 248L209.9 248.7L212.8 250.3L215.9 251.4M223.2 374.7L220.5 375.7L217.7 375.1L215.1 376.4L212.3 377L209.6 376.9L206.8 376.5M206.8 351.5L209 353.2L211.9 353.6L214.1 355.4L216.3 357.2L219.3 357.6L222.3 357.7L224.1 360.3L226.6 361.7M212.6 475.5L209.8 475.9L206.9 476.1M213.2 215.5L211.2 213.2L209.3 210.8L207 208.7M207 207.4L207 208.7M207 207.4L209.4 206.6L211.9 206L214.2 205.2L216.7 204.7L219.2 204.3L221.5 203.5M208.3 307.3L211.3 307.8L214.2 308.5L216.9 309.8L219.8 310.4M212.2 289L211 291.5L211.4 294.3L210.5 296.8L210.2 299.5L208.9 302L209.1 304.7L208.3 307.3M214.3 334.6L211.6 336L208.7 336.7M209.1 711.1L209.6 710.3L212 709.3M209.2 426.3L210.5 428.7L212.8 430.2L214.7 432.1L216.1 434.3L217.6 436.7L220.1 437.9M209.2 426.3L211.4 424.5L213.4 422.6L216 421.3L218 419.4L220 417.3L223 416.6L224.5 414L227.1 412.8M211.5 267.1L209.3 262.6M209.3 262.6L210.7 260.1L213.4 258.5L215.2 256.2L216.5 253.6M218.4 512.9L215.4 511.9L214.3 508.7L210.7 508.4L209.5 505.4M209.5 502.8L209.5 505.4M220.9 489L219.4 491.1L218.5 493.7L216.1 495L214.3 496.8L212.2 498.4L211 500.7L209.5 502.8M218.7 588.7L215.6 587.4L212.9 585.5L209.8 584.1M209.8 584.1L209.5 581.5L210.9 579L211 576.3L211 573.7L211.2 571.1L210.7 568.4L211.5 565.9M210.1 187.1L212.1 186.6M210.2 136.3L210.4 139L210.5 141.7L210.7 144.4L211.1 147L210.6 149.7M210.2 136.2L212.8 137.2L215.5 136.5L218 137.9L220.7 137.7L223.2 138.7L225.9 138.5M213.3 127L212.4 128.3L211.9 131L211.2 133.7L210.2 136.2M210.6 149.7L212.7 152.2L216.2 152.9L218.2 155.6M211.2 231.1L213 234.4L215.9 236.7M214.1 223.2L213.3 225.9L212.2 228.5L211.2 231.1M211.5 565.9L211.2 565.3M211.2 565.3L212 562.5L213.7 560.1L217 558.5L217.1 555.4L217.5 552.4M212 709.3L211.9 706.6L211.5 703.8L211.7 701.1L211.3 698.3M211.3 698.3L213.8 697.3M217.2 270.5L214.4 268.7L211.5 267.1M211.5 565.9L214.1 566.5L216.9 566.8L218.6 569.6L221.3 570.1L224.1 570.3L225.7 573.3L228.4 573.7L231.1 574.4M211.9 665.7L213.4 668.3L214.2 671.2L215 674.2L217 676.5L218.4 679.1M211.9 665.7L212.6 664.5M220.9 713L218.2 711.1L214.8 710.8L212 709.3M212.1 220.7L214.1 223.2M213.2 215.5L212.4 218L212.1 220.7M212.1 281.3L213.5 284.3L213.9 287.7M212.1 281.3L213.2 278.5L214.3 275.7L215.4 272.9L217.2 270.5M214.5 196.9L214.5 194.2L212.4 191.9L213.4 189L212.1 186.6M212.1 186.6L215.1 183.2M212.2 289L213.9 287.7M212.7 651.8L213.1 654.3L213.7 656.9L213.2 659.4L211.9 662L212.6 664.5M212.6 664.5L215.3 664.4L217.8 663L220.7 663.4L223.1 661.9L226.2 663.1L228.5 661M212.6 475.5L213.8 477.9L215.8 479.7L216.6 482.4L218.2 484.5L219 487.1L220.9 489M212.6 475.5L215.2 473.6L215.7 470.1L218.3 468.2L220 465.7M212.7 651.8L215.4 650.6L217.9 649.1L220.3 647.4M223.5 208.6L221.6 211.3L218.4 212.1L215.7 213.6L213.2 215.5M224.9 702.6L221.9 701.7L219.5 699.5L216.4 698.9L213.8 697.3M219.8 686.7L218.4 689.3L216.7 691.9L215.7 694.8L213.8 697.3M214.8 287.8L213.9 287.7M214.1 223.2L217.3 223.6L220.4 224.3L223.6 224.3M214.3 334.6L216.6 336.3L219.3 337.4L221.8 338.7L224.8 339.1L227.3 340.5L229.8 342M214.3 334.6L215.9 332.2L217.1 329.6L218.6 327.1L219.6 324.4L221.3 322L222.9 319.6M214.5 196.9L217.6 198.8L220.7 200.9M214.7 179.6L215.1 183.2M214.7 179.6L216.5 177.6L218.4 175.6L220.7 174L222.4 171.9M214.8 287.8L215.5 291L218.5 292.5L220.8 294.5L222.2 297.3M214.8 287.8L217.5 286.7L220 285.4L222.8 284.6M217.4 248.4L216.3 246L215.3 243.7L215 241.1L215 238.5M215 238.5L215.9 236.7M215.1 632.4L217.1 634.1L219 636L220.2 638.5L222.6 639.7M215.1 632.4L215 629L216 625.8M215.1 183.2L217.6 184.9L220.6 185.2L222.5 188.3L225.8 187.9M216.5 253.6L215.9 251.4M215.9 251.4L217.4 248.4M223.4 234.7L220.9 235.6L218.4 236L215.9 236.7M221.7 621.3L219.3 624.1L216 625.8M216.3 161.5L218.3 163.8L219.7 166.5L220.8 169.3L222.4 171.9M218.2 155.6L216.9 158.4L216.3 161.5M216.4 526.3L219.1 527.1L221.8 527.8L223.3 530.9L226.2 531.2L228.7 532.3L230.8 534.3M216.4 526.3L215.8 523.5L216.2 520.8L217.2 518.2L217.7 515.5L218.4 512.9M225.7 258.7L223.7 257L221.2 255.9L218.9 254.6L216.5 253.6M217.2 454.1L219.8 457.3M217.2 454.1L217.9 451.5L218.4 448.7L219 446.1L219 443.3L219.7 440.6L220.1 437.9M217.2 270.5L220 270.3M224.3 245L222.3 246.7L219.7 247.3L217.4 248.4M217.5 552.4L220.8 551.2M229.1 152.2L226.6 153.7L223.9 154.5L220.7 154L218.2 155.6M218.4 679.1L218.8 679.4M233.7 511L231.2 511.4L228.6 512L226.1 512.5L223.4 511.3L220.9 512.5L218.4 512.9M218.7 588.7L219.6 591.1L220.7 593.4L221.2 595.9L221.2 598.5L221.2 601.2L223 603.3M218.7 588.7L221.4 587.4L224 585.7L226.8 584.5L229.6 583.3M219.8 686.7L218.6 683.1L218.8 679.4M218.8 679.4L221.1 678.2L223.9 678.3L226.4 677.9L228.7 676.4L231.3 675.9M219.2 724.7L219.2 721.7L220.9 719L220.7 716L220.9 713M219.2 724.7L221.8 723.9L224.5 724.9L227.2 724.5L229.9 724.4M219.6 606L221.3 608.4L220.5 611.1L220.6 613.7L221.6 616.1L221.5 618.7L221.7 621.3M223 603.3L219.6 606M220 465.7L220.2 462.9L219.6 460.1L219.8 457.3M238.9 452.6L236 452.6L233.4 453.5L230.9 455.2L227.9 455.1L225.1 455.5L222.4 456L219.8 457.3M219.8 686.7L222.6 687.2L224.6 689L226.1 691.4L228.9 692L230.7 693.9L232.7 695.7M222.9 319.6L223.1 316.1L221.8 313.2L219.8 310.4M219.8 310.4L220.6 309.6M220 270.3L222.1 272.7L224.8 274.7L227 277.1M220 270.3L221.9 267.9L223.4 265.2L225.5 262.9L226.3 259.9M235.5 473.9L233 472.4L230.1 471.5L227.9 469.5L225.1 468.6L222.6 467.1L220 465.7M220.1 437.9L222.8 436.9L225.7 437.3L228.3 435.8L231.1 435.7M220.3 647.4L222.8 648.9L225.4 650.3L227.9 652L229.3 654.8L231.3 656.9M222.6 639.7L221.8 642.3L220.2 644.6L220.3 647.4M222.2 297.3L221.6 300.3L221.5 303.5L220.8 306.5L220.6 309.6M235.8 303.4L233.2 304.3L230.8 305.6L228.6 307.5L225.7 307.6L223.1 308.6L220.6 309.6M221.5 203.5L220.7 200.9M220.7 200.9L221.5 198.2L222.4 195.6L223.8 193.1L224.4 190.3L225.8 187.9M220.8 551.2L223.4 551.7L225.9 552.5L228.7 552.2L231 553.7L233.3 555.3L235.8 555.8L238.3 556.6L240.9 557.1M230.8 534.3L229.3 536.7L226.6 538.3L225.9 541.2L225.5 544.3L222.2 545.5L221.5 548.4L220.8 551.2M220.9 713L224.5 710.4M236.8 489.9L234.1 490.9L231.6 489.1L228.8 489.9L226.2 488.6L223.6 488.7L220.9 489M221.5 203.5L224.4 206.7M221.6 399.4L223.1 401.8L225.6 403.1M225.2 377.7L224.8 380.4L224.2 383.1L224.7 386L224 388.7L222.3 391.2L222.6 394L221.5 396.6L221.6 399.4M221.7 621.3L224.1 622.7L227 622.2L229.5 623.4L232.3 623.3L234.9 624.2L237.5 624.6M222.2 297.3L225.1 295.8L228 294.4L230.5 292.2M222.4 171.9L226.6 172.4M222.6 639.7L225.2 637.9L228.5 638.3L231.1 636.8L234 636L237.1 635.7M222.8 284.6L224.4 286.8L226.7 288.4L228.4 290.4L230.5 292.2M222.8 284.6L223.1 281.6L224.9 279.2L227 277.1M222.9 319.6L225.5 320L228 321L230.6 321.6L233.2 322L235.7 323L238.5 323L241 323.8L243.5 324.8M223 603.3L226.1 603.6L229.2 603.1L232.2 603M223.2 374.7L225.2 377.7M223.2 374.7L222.5 371.7L224.4 369.4L225.2 366.9L226.3 364.4L226.6 361.7M223.4 234.7L224.3 237.2L224.6 239.8L224.7 242.3L224.3 245M229 229.4L226.7 230.7L225.6 233.4L223.4 234.7M223.5 208.6L223.4 211.2L222.7 213.8L224.2 216.4L224.4 219.1L224.1 221.7L223.6 224.3M223.5 208.6L224.4 206.7M223.6 224.3L225.5 227.7L229 229.4M223.8 736.3L225.8 735.6L228.6 735.6L231.3 735.4L233.8 734M230.3 247.6L227.5 245.8L224.3 245M224.4 206.7L227 207.1L229.8 205.3L232.4 206.6L235.1 206.9M230.2 712.4L227.3 711.6L224.5 710.4M224.9 702.6L225.1 705.2L224.8 707.8L224.5 710.4M232.7 695.8L230.5 697.3L228.9 699.3L226.3 700.3L224.9 702.6M225.2 377.7L228.2 377.5L230.5 379.4L232.9 381L236.1 380L238.4 381.9L241.1 382.3L243.7 383.2M227.1 412.8L225.5 409.7L227.1 406.2L225.6 403.1M244.8 394.1L243.1 396.7L240.2 396.7L237.3 396.9L235 398.2L232.9 400L230.5 401.1L228.3 402.7L225.6 403.1M226.3 259.9L225.7 258.7M225.7 258.7L226.7 255.9L227.9 253.1L228.9 250.3L230.3 247.6M225.8 187.9L228.5 187.4L230.9 185.9L233.6 185.3M225.9 138.5L227 141.6L228.8 144.3L230.6 146.9M229 127.6L228.7 130.5L228.2 133.3L226.7 135.8L225.9 138.5M226.3 259.9L229.5 259.4L232 261.5L234.8 262.4M233.1 356.8L230.6 358L228.8 360.1L226.6 361.7M233.6 185.3L230.7 183.5L231.1 180L229.9 177.3L228.8 174.6L226.6 172.4M226.6 172.4L228 170.4L230 168.8L232 167.2L233.4 165.1L235 163.2L237 161.6M226.8 123.2L227.8 125L229 127.6M227 277.1L230.1 276.9M236.7 419.7L234.1 418.3L231.9 416.2L229.5 414.6L227.1 412.8M227.6 746.6L229.9 746.6L232 744.8L234.1 743.1L236.8 742.8M231.3 675.9L230.6 673.5L230.1 671L229.7 668.5L229.2 666L228.8 663.5L228.5 661M228.5 661L230.5 659.4L231.3 656.9M229.4 229.4L229 229.4M229 127.6L231.7 128L234.4 127.2L237 128.4L238 128.2M229.1 152.2L230.8 154.8L232.8 157.1L234.8 159.4L237 161.6M230.6 146.9L230.4 149.7L229.1 152.2M229.4 229.4L231.9 231.4L231.6 234.7L233.1 237.2L234.5 239.7L235.9 242.2L237.1 244.8M229.4 229.4L231.2 227.1L234.3 226.7L236.5 225M237.1 592.6L235.5 590.1L233.7 587.7L231.4 585.7L229.6 583.3M229.6 583.3L230.1 580.3L230.6 577.4L231.1 574.4M233.1 356.8L233.7 354.1L232 351.9L232.2 349.2L230.6 347L230.6 344.4L229.8 342M229.8 342L231.3 339.9L233.5 338.5L235.1 336.6L238.1 336.2L239.1 333.5L240.9 331.9L242.5 329.9M234.5 732.4L233.8 729.2L230.8 727.4L229.9 724.4M233.2 720.1L231.4 722.1L229.9 724.4M237.6 286.7L236.5 283.7L234.2 281.5L232.4 279L230.1 276.9M236.5 270.9L234 272.6L232.5 275.2L230.1 276.9M230.2 712.4L229.9 715.5L232.3 717.5L233.2 720.1M230.2 712.4L232.5 710.7L235.6 710.5L237.6 708.2M237.1 244.8L233.8 246.6L230.3 247.6M230.5 292.2L231.7 292.4M230.5 756.2L230.8 756.2L233.3 756.1L235.7 757.9L238.3 757.4M230.6 146.9L233 146L235 144.4L236.9 142.6L239.2 141.8L242.1 141.9L242.1 141.9M230.8 534.3L233.5 533.4L236.3 532.5M231.1 574.4L234.3 572.8M242 445.6L240 443.4L237.2 442.1L235.6 439.6L233.2 437.8L231.1 435.7M236.7 419.7L236 422.4L235 425.1L234 427.7L232.7 430.2L231.9 433L231.1 435.7M234.4 676.9L231.3 675.9M232.7 656.5L231.3 656.9M235.8 303.4L235.3 300.5L233.7 297.9L233.1 295L231.7 292.4M237.6 286.7L234.5 287.4L233.8 290.7L231.7 292.4M232.2 603L234.9 604.7L235.8 608.1L238.5 609.8M232.2 603L232.7 600.1L233.5 597.3L236.2 595.4L237.1 592.6M237.6 708.2L236.9 705.6L235.1 703.5L234.8 700.7L234.1 698.1L232.7 695.8M232.7 695.7L234.1 694.7M243.9 662.8L242.2 660.6L239.7 659.8L237.1 659.2L234.3 658.9L232.7 656.5M240.9 640.6L239.7 642.9L237.3 644.5L237.5 647.5L237.3 650.2L235.6 652.2L234.1 654.3L232.7 656.5M233.1 356.8L235.7 357.4L238.3 356.9L240.9 357.2L243.5 357.9L246 358.3M233.2 720.1L235.9 720.4L238.7 719.9L241.3 720.8L244.1 720.2M233.6 185.3L236.1 187L238.9 187.2L241.8 187.1M233.7 511L233.8 514L236.6 516.1L236.7 519.2L238.5 521.6L238.4 524.7L239.6 527.3M240.1 501.7L238.5 504.1L237.5 506.8L235.4 508.8L233.7 511M233.8 734L234.5 737.1L235 740.2L236.8 742.8M233.8 734L234.5 732.4M234.1 694.7L237.3 695.8L240.7 694.4L243.9 695.4M236.2 679.7L236.4 682.3L236.4 684.9L235.2 687.2L234.9 689.7L233.6 692.1L234.1 694.7M234.3 572.8L236.9 573L238.8 574.9L241.3 575.5L242.8 578L245 579.1L247.6 579.7L249.8 580.8M234.3 572.8L235.5 570.2L235.8 567.3L237.2 564.8L238.4 562.2L238.9 559.3L240.9 557.1M236.2 679.7L234.4 676.9M234.4 676.9L236.5 675L238.6 673.2L239.7 670.4L242 668.8L244.2 667M234.4 768.2L235.1 767.8L237.5 766.8L239.5 765.4M234.5 732.4L237.1 731.1L239.8 729.8L242.3 728.3L245.3 727.7M234.8 262.4L235.8 265.1L236.2 268L236.5 270.9M238.3 259.5L234.8 262.4M236.5 225L236.1 222.5L236.3 219.8L237.4 217.1L236 214.6L235.6 212.1L235.5 209.5L235.1 206.9M235.1 206.9L236.9 204.8L239.7 204L241.8 202.2M239.6 484.5L239 481.7L237.8 479.1L236.3 476.6L235.5 473.9M242.6 460.9L241.3 463.6L239.5 465.9L238.1 468.6L237.3 471.5L235.5 473.9M243.2 305.6L240.6 305.5L238.2 304.4L235.8 303.4M236.2 679.7L239 680.3L241.8 681L244.6 681.3L246.8 683.8L249.7 684M247.2 552.6L245.8 550.5L245.1 548L244.3 545.5L242.6 543.5L241 541.5L239 539.7L239.1 536.7L237.1 535L236.3 532.5M239.6 527.3L237.8 529.8L236.3 532.5M236.5 270.9L239.5 271.4L242.2 273M236.5 225L239.2 226.7L242.4 225.8L245.2 226.9L248.2 227M236.7 419.7L239.3 419.7L241.9 420L244.4 419.4M236.8 742.8L239.1 744.6L242 745.5M236.8 489.9L238.2 492.7L238.7 495.8L240.1 498.5L240.1 501.7M239.6 484.5L238.1 487.2L236.8 489.9M237 161.6L239.4 162.6L242 163.3M237.1 592.6L239.2 590.8L242.2 591.3L244.6 590.2L247 589.1L249.5 588.3L252 587.6M237.1 635.7L238.9 638.2L240.9 640.6M237.5 624.6L237.8 627.4L237.8 630.2L238 633L237.1 635.7M237.2 244.9L237.2 247.8L238.6 250.7L238.5 253.6L239.1 256.5L238.3 259.5M237.2 244.9L239.8 244.5M237.5 624.6L239 622.7M237.6 708.2L241.7 709.5M237.6 286.7L238.7 286.7M238.3 259.5L243.1 259.5M239.5 765.4L238.4 762.8L238.5 760.1L238.3 757.4M238.3 757.4L240.1 755.3L241.9 753.1M238.5 609.8L238.8 612.4L238 615L239.3 617.5L238.6 620.1L239 622.7M238.5 609.8L241.2 609L243.5 607.3L246.4 607L248.6 604.8L251.4 604.2L254.2 603.8L256.9 602.8M238.7 286.7L239.9 289.1L242.6 290.3L242.7 293.6L245.6 294.7L246.5 297.4L248.7 299M244.4 281.8L240.8 283.3L238.7 286.7M242.6 460.9L241 458.3L240.3 455.3L238.9 452.6M242 445.6L241.5 448.2L239 449.9L238.9 452.6M239 622.7L241.6 622.9L244.2 621.8L246.9 622.5L249.5 622.5L252.1 622.8L254.7 622.2M239.5 765.4L242.5 767.2L245.1 769.5M239.6 484.5L242.3 483.7L244.9 482.7L247.5 481.5L250.3 480.9L253.1 480.4L255.5 478.6L258.3 478.3M239.6 527.3L242.3 527.6L244.9 527.6L247.4 526.1L250.1 527.1L252.6 526.6M239.8 244.5L242.6 245L244.2 247.2L246.3 248.7L248.2 250.4M239.8 244.5L241.8 242.4L244.1 240.6L245.5 238L248.2 236.6L249.6 233.9L251.9 232.2M240.1 501.7L243.2 502.3L246 503.5L249.2 503.5L252.1 504.9M252.5 644.5L249.8 642.9L246.9 642L244 641.1L240.9 640.6M240.9 557.1L243.2 555.3L246 554.9M241.7 709.5L242.9 712.6L243.1 716L244.6 719M241.7 709.5L243.7 707.7L245.1 705.4L247.1 703.6L249.2 702M241.8 202.2L242.3 199.7L242.3 197.2L242.2 194.7L241.8 192.2L242 189.6L241.8 187.1M242.5 186.5L241.8 187.1M254.4 209.4L252.2 207.4L249.4 206.4L246.6 205.6L244.2 203.8L241.8 202.2M252.4 757.5L250 756L247 755.8L244.4 754.7L241.9 753.1M241.9 753.1L241 750.6L242.1 748L242 745.5M242.5 186.5L243.1 183.9L243 181.3L242.8 178.7L242.8 176.2L243.4 173.6L242.3 171L241.6 168.5L242.4 165.9L242 163.3M248.8 160.9L245.6 162.7L242 163.3M254.3 440.5L251.9 441.7L249.5 442.9L247 443.8L244.7 445.1L242 445.6M242 745.5L245.1 743.8L247.9 741.6M242.2 273L242.1 276.1L244.1 278.7L244.4 281.8M242.2 273L245.1 270.6L248.7 269.5M242.3 782.7L242.7 782.3L245 780.8L245.7 778.1M258.1 183.6L255.4 183.4L253.1 185.5L250.3 185.1L248 187L245.2 186.5L242.5 186.5M242.5 329.9L244 332.3L244.4 335.3L246.6 337.3L248.3 339.6L248.5 342.7L250.7 344.7M242.5 329.9L242.9 327.4L243.5 324.8M256.8 465.6L253.9 464.9L251.2 463.5L248.2 463.2L245.4 462.3L242.6 460.9M243.1 259.5L245.2 261.2L246.1 263.8L247.1 266.4L249.2 268.1M243.1 259.5L246 258.1L247.9 255.7M243.2 305.6L242 308.4L243.2 311L243.1 313.7L242.8 316.3L243.3 319L243.8 321.6L244.1 324.3M243.2 305.6L244.8 303.5L247.2 302.2L249.1 300.5M243.5 324.8L244.1 324.3M243.7 383.2L244.2 384.2M249.2 370.8L248 373.3L247.7 376.1L245.9 378.2L244.7 380.7L243.7 383.2M244.2 667L243.9 662.8M243.9 662.8L246.9 662.1L247.7 658.9L249.7 657.2L252.5 656.2L253.7 653.5M243.9 695.4L245.9 697.4L247.9 699.4L249.2 702M243.9 695.4L245.7 692.8L247.4 690.2L248.1 687L249.8 684.4M245.3 727.7L245 725.2L245 722.6L244.1 720.2M244.1 720.2L244.6 719M254.2 323.7L251.7 323.7L249.2 324.2L246.6 324.4L244.1 324.3M244.8 394.1L243.9 390.9L243.6 387.5L244.2 384.2M244.2 384.2L246.8 383.9L249.4 385.1L252.1 384.5L254.7 383.6L257.4 384.3L260 383.9M253.6 673.6L251.3 671.9L248.4 671L247.2 667.6L244.2 667M244.4 281.8L247 281.9L249.3 283.6L252 283.1M253.3 426L251.4 423.9L248.7 422.9L246.5 421.3L244.4 419.4M244.4 419.4L245.1 416.9L246.8 414.8L246 411.8L248.2 409.9L248.8 407.5L248.8 404.7L250.5 402.7M255.8 715.1L253.2 716.5L250.5 717.9L247.4 717.9L244.6 719M244.8 394.1L248.2 397.2M245.7 778.1L245.4 775.3L244.9 772.4L245.1 769.5M245.1 769.5L248.1 768L250.6 765.9L253.4 764.1M250.4 732.6L248.2 729.7L245.3 727.7M245.7 778.1L248.3 778.5L251.1 777.4L253.7 778.3L256.4 778.3L259.1 778.5M254.6 567.4L253.7 564.9L251.6 563.3L250.2 561.2L248.7 559.2L247.4 557L246 554.9M246 554.9L247.2 552.6M246 358.3L245.6 361.1L248 363.1L247.8 365.8L248.6 368.3L249.2 370.8M246 358.3L247.1 357.4M262.4 357.4L259.8 356.6L257.3 358.1L254.7 357.6L252.2 358.2L249.6 357.7L247.1 357.4M247.1 357.4L247.8 354.9L248.2 352.2L249.5 349.8L250.3 347.3L250.7 344.7M247.2 552.6L250.2 551.7L252.4 549.4L255.4 548.5L257.7 546.5M260.2 749.5L257.2 748.7L254.6 747.4L253 744.5L250.7 742.5L247.9 741.6M247.9 741.6L249 738.7L249.2 735.5L250.4 732.6M255.5 259.8L253.4 257.6L250.8 256.3L247.9 255.7M248.2 250.4L247.5 253L247.9 255.7M250.5 402.7L249.5 399.9L248.2 397.2M248.2 397.2L250.4 395.3L253.6 395.6L256.1 394.3L258.6 392.9L261.2 391.9L263.8 390.8M256.6 246.3L254 248.2L250.6 248.3L248.2 250.4M248.2 227L249.7 229.9L251.9 232.2M254.4 209.4L254 212.1L252.5 214.4L252 217L251.7 219.8L250.2 222.1L249.9 224.8L248.2 227M255.8 278L254.2 275.7L251.4 274.4L250.2 271.8L248.7 269.5M248.7 269.5L249.2 268.1M249.1 300.5L248.7 299M248.7 299L249.5 296.4L249.6 293.7L250.9 291.2L250.4 288.3L250.4 285.6L252 283.1M248.8 160.9L251.3 162.3L252.9 164.9L255.9 165.4L258.4 166.8L260.6 168.6M252 149.8L252.3 151.2L251.7 153.8L249.7 155.8L249.8 158.6L248.8 160.9M249.1 300.5L253.8 300.8M249.2 370.8L251.9 371.3L254.6 372.1L257.2 373.5L260.1 373.2M255.2 264.1L252.4 266.4L249.2 268.1M255.9 703L252.6 702.5L249.2 702M249.7 684L249.8 684.4M254.2 676.1L252.9 678.8L251 681.2L249.7 684M259.6 692L257.5 689.6L254.8 688L252 686.5L249.8 684.4M252 587.6L251.6 583.9L249.8 580.8M249.8 580.8L250.6 578L251.4 575.3L253.2 572.9L254.6 570.4L254.6 567.4M250.4 732.6L252.9 732.1L255.3 731.6L257.8 730.9M268.3 408L265.6 407.6L263.3 406.1L260.7 405.8L258.1 405.1L255.5 404.7L252.8 404.5L250.5 402.7M250.7 344.7L253.2 343.7L255.5 342.5L258.2 342.1M251.9 232.2L254.6 233.2L257.1 234.5M252 283.1L255.3 281.6M252.1 504.9L253.2 507.6L253.1 510.7L254.9 513.2L256.3 515.8M252.1 504.9L254.8 504.1L256.7 501.7L259 500.2L261.7 499.3L264.4 498.4L266.2 495.9L268.8 494.8M257.1 601.7L256 599L256 595.8L254.1 593.4L253.2 590.5L252.2 587.7M252.2 587.7L254.6 586.4L257.2 585.9L259.5 584.3L262.4 584.3L264.8 583.2L267.5 582.7L269.9 581.4L272.4 580.6M253.4 764.1L253 760.8L252.4 757.5M260.2 749.5L258.1 751.4L256.1 753.3L254.6 755.7L252.4 757.5M252.5 644.5L254.3 647.5M252.5 644.5L252.7 641.5L255.2 639.8L256.2 637.2L257.4 634.8L259.2 632.7M252.6 526.6L254.7 528.7L256.8 530.7M256.3 515.8L255.1 518.4L254.2 521.1L254 524L252.6 526.6M253.2 798.2L254.7 797L256.4 795L259 794.1L261.1 792.6M254.3 440.5L254.9 437.6L253.3 434.7L253.2 431.8L252.9 428.9L253.3 426M253.3 426L255.3 424.4L257.5 423.1L260.1 422.6L262.5 421.9L263.8 419.1L266.9 419.4L268.8 417.8L270.9 416.4M253.4 764.1L256.1 765.7L258.9 767.1L261.9 768.3M253.6 673.6L254.2 676.1M253.6 673.6L255.7 672L257.1 669.8L258.4 667.7L259.4 665.2L261.3 663.5M261.3 663.5L259.1 662L258.7 659.2L257.2 657.2L254.7 656L253.7 653.5M254.3 647.5L254.6 650.6L253.7 653.5M253.8 300.8L257.8 303.2M260.5 290.9L259.5 293.9L256.9 295.7L255.3 298.2L253.8 300.8M254.2 676.1L257 677.5L260.1 677.4L263.1 678.3L266 679.4M254.2 323.7L257.2 326.7M261 317.2L259.2 319.8L255.9 320.9L254.2 323.7M254.3 647.5L257 648.9L259.9 647.9L262.7 647.4L265.5 647.6L268.3 647.6L271.1 647.9M261.6 445.2L258.5 444.6L256.8 442L254.3 440.5M254.4 209.4L257.8 208.8M267.2 567.8L264.7 567.6L262.2 567.2L259.6 568.4L257.1 566.9L254.6 567.4M259.2 632.7L257.9 630.1L256.2 627.8L255.3 625.1L254.7 622.2M254.7 622.2L255.9 619.9L257.9 618.1L260.1 616.5L260.9 613.9M263.6 270.2L261.6 268.5L259.4 267.1L257.3 265.5L255.2 264.1M255.5 259.8L255.2 264.1M258.9 284.1L255.3 281.6M255.3 281.6L255.8 278M261.1 254.5L258.7 255.7L257.6 258.3L255.5 259.8M263.6 270.2L261.7 272.2L259.9 274.3L257.7 276L255.8 278M260.8 720.3L258.9 717.2L255.8 715.1M257.1 704.5L256.7 707.1L257.1 709.9L256.4 712.5L255.8 715.1M257.1 704.5L255.9 703M255.9 703L256.1 700L257.7 697.4L258.9 694.8L259.6 692M256.3 515.8L259.4 517.2L262.5 515L265.6 516.4L268.6 515.9M261.1 252.1L258.6 249.5L256.6 246.3M257.1 234.5L255.9 237.4L257.2 240.4L257.4 243.4L256.6 246.3M257.7 546.5L258.8 543.8L256.3 541.3L257.4 538.6L257.6 536L258.1 533.3L256.8 530.7M268.3 528.5L265.6 529.7L262.6 530L259.7 530.4L256.8 530.7M256.8 465.6L257.4 468.3L259.3 470.4L260.2 473M262.2 447L262 449.8L260.1 452.1L260.2 455L259.4 457.7L258.1 460.2L257.8 463L256.8 465.6M260.9 613.9L260.5 610.9L257.4 608.9L258.1 605.5L256.9 602.8M256.9 602.8L257.1 601.7M265 232.6L262.4 233.6L259.8 234.2L257.1 234.5M257.1 704.5L259.8 705.3L262.5 705.6L265.3 705.2L268 706.3L270.7 706.6L273.5 706.4M257.1 601.7L259.6 599.6L262.6 600.2L265.4 599.5L268.2 598.7L270.8 597.4L273.6 596.8L276.6 597.1M257.2 326.7L260.1 327.2L263.3 326.7L265.9 328.8L269 328.9M257.2 326.7L258.6 329.7L258.6 333.3L260.9 336M272.6 550L270 550L267.6 549L265.1 548.4L262.8 547.1L260.1 547.6L257.7 546.5M266.3 736.6L264.7 734.4L262 733.8L259.7 732.7L257.8 730.9M257.8 730.9L259 728.4L259.7 725.7L259.9 722.9L260.8 720.3M262.2 312.1L260.2 309.4L260.6 305.5L257.8 303.2M267 299.5L263.9 300.6L261.1 302.7L257.8 303.2M267.1 214.5L264.6 213.3L261.9 212.6L260 210.5L257.8 208.8M257.8 208.8L258.5 206L259.4 203.4L261.8 201.5L262.6 198.7L264.3 196.5L265.9 194.2L266.7 191.4M258.1 183.6L261 184.8L262.8 187.7L265.7 189M260.6 168.6L261.6 171.3L260 173.6L258.5 175.9L259 178.6L258.8 181.1L258.1 183.6M266.3 347L263.2 346L260.6 344.2L258.2 342.1M260.9 336L259.6 339.1L258.2 342.1M258.3 478.3L259.7 480.8L261.1 483.2L262.8 485.4L263.5 488.3L265 490.6L267.1 492.6L268.8 494.8M260.2 473L259.6 475.8L258.3 478.3M258.9 284.1L258.8 287.7L260.5 290.9M267.5 282.4L264.8 283.6L261.8 283.5L258.9 284.1M262.8 785.8L262.5 782.9L260 781.1L259.1 778.5M259.1 778.5L260.2 775.4L260.8 772.2L262.3 769.3M259.2 632.7L262 631.6L264.9 633L267.7 632.5L270.6 632.8L273.4 631.8M263.6 690.2L259.6 692M263.8 390.8L261.8 388.9L261 386.3L260 383.9M260 383.9L261.5 380.7L262.7 377.4M260.1 373.2L262.7 377.4M267 365.2L264.9 367L262.9 368.7L261.1 370.7L260.1 373.2M261.5 749.3L260.2 749.5M276.1 468.3L273.2 468.3L270.7 469.5L268 470.2L265.6 471.7L263.1 473.1L260.2 473M268.2 292.6L266 290.6L263 291.9L260.5 290.9M260.6 168.6L262.4 168.4M271.5 718.4L268.9 719.4L266.1 719L263.7 720.9L260.8 720.3M260.9 613.9L264.1 614.9L267.4 615.7M260.9 336L263.7 335.7L266.4 335.5L269.2 336.8L271.9 336.1M261 317.2L263.8 318.3L266.6 319.5L269.3 320.9L272.2 321.9M261 317.2L261.8 314.7L262.2 312.1M271.6 798.6L270.3 797.1L267.7 796.7L265.7 794.8L263.2 794.1L261.1 792.6M261.1 792.6L262.3 789.3L262.8 785.8M266.4 259.1L263.9 256.7L261.1 254.5M261.1 252.1L261.1 254.5M272.4 246.4L269.9 247.1L268.1 249L265.9 250.3L263.9 252L261.1 252.1M261.3 663.5L264.4 664.2L267.6 663.8L270.5 665.1M261.5 749.3L263.2 751.3L265.1 753.3L267.6 754.3M261.5 749.3L263.3 747.1L262.3 743.8L263.1 741.2L266.5 739.5L266.3 736.6M261.6 445.2L262.2 447M281.3 432.5L279.2 433.9L277.4 436L274.9 436.9L272.6 438.2L270.2 439.3L268.4 441.3L266.5 443.1L264.1 444.4L261.6 445.2M262.3 769.3L261.9 768.3M261.9 768.3L262.5 765.9L263.1 763.4L264.1 761.1L265.3 758.9L265.9 756.3L267.6 754.3M262.2 447L264.8 448.2L266.8 450.3L269.6 451.3L272.2 452.5L274.1 454.9L276.1 457L278.8 458M270.3 309.7L267.4 309.8L264.9 311.3L262.2 312.1M262.3 769.3L265.1 770.7L268.2 770.2L271.2 770.8L274.1 771.5L277.1 771.5M262.4 357.4L264.3 359.8L265.6 362.6L267 365.2M262.4 357.4L264.8 354.7L267.2 351.9M269.1 378.5L266.1 377.1L262.7 377.4M262.8 785.8L265.5 784.9L268.2 784.1L271.3 784.3L273.5 781.9L276.2 781.3M266.4 259.1L265.2 261.7L265.2 264.7L264.2 267.4L263.6 270.2M267.7 272L263.6 270.2M275.8 695.6L272.9 695.5L271 693.3L268.9 691.5L266.5 690.3L263.6 690.2M263.6 690.2L264.2 687.5L264.4 684.7L265.1 682.1L266 679.4M270.2 393.1L266.8 392.4L263.8 390.8M265 232.6L267.3 234.3L269.1 236.6L272.1 237.4L273.8 239.8M270.1 221L269.7 223.6L268.9 226L266.5 227.7L267 230.7L265 232.6M265.7 189L266.7 191.4M278.1 177.2L276.6 178.7L275.2 180.8L272 181.1L271.6 184.3L269.4 185.7L268.1 188L265.7 189M267.5 678.5L266 679.4M267.2 351.9L266.3 347M273 338L270.7 339.8L270.1 342.9L267.9 344.7L266.3 347M266.3 736.6L269.2 737.3L271.4 735.6L273.9 734.6M277.3 258.7L274.6 258.7L271.9 259.5L269.2 260L266.4 259.1M266.7 191.4L268.6 193.6L271.1 194.3L273.8 194.9L276.2 196.1L278.6 197.2M267 365.2L269.6 366.3L272.3 366.7M272.1 302.8L269.9 300.6L267 299.5M268.2 292.6L267.2 296L267 299.5M267.1 214.5L268.7 217.7L270.1 221M267.1 214.5L269.3 213.3L271.2 211.6L272.3 209L274.4 207.6L276.2 205.9L278.3 204.4L280.3 202.8M267.2 351.9L270 351.4L272.4 352.9L275.1 352.5L277.6 353.6M273.5 578.4L272.2 575.6L271.1 572.7L268.8 570.5L267.2 567.8M267.2 567.8L268.5 565.2L268.6 562.1L270.3 559.6L271.1 556.9L271.3 553.9L273.3 551.5M267.4 615.7L269.6 617.5L270.6 620.1L271.2 622.9L273.1 624.9L274.9 627L276.2 629.4M267.4 615.7L269.7 614L272.5 612.9L274.3 610.4L276.8 608.9L279.2 607.3M267.5 678.5L270.1 679.1L272.1 680.7L274.1 682.6L276.8 682.9M267.5 678.5L267.4 675.8L269.5 673.7L270.1 671.2L270 668.4L271.2 666.1M270.9 284.9L267.5 282.4M267.7 272L267.3 274.6L268.8 277.2L267.4 279.8L267.5 282.4M267.6 754.3L270.2 754.3L272.8 754.5L275.4 754.5L277.9 754.9M277.5 270.1L274.5 271.9L271 271.2L267.7 272M271.6 290.2L268.2 292.6M270.9 416.4L270.4 413.5L268.6 411L268.3 408M272.1 396.7L270.6 399.4L270.5 402.4L268.9 405L268.3 408M277.7 538.9L275.7 537L274.3 534.4L272.5 532.3L270.7 530.1L268.3 528.5M268.3 528.5L269.8 526.4L270.1 523.8L271.2 521.5M271.2 521.5L269 519.1L268.6 515.9M274.7 503.3L272.9 505.5L272.3 508.3L270.9 510.8L269.4 513.2L268.6 515.9M268.8 494.8L270.3 495.3M269 328.9L270.6 331L271.4 333.5L271.9 336.1M269 328.9L268.9 326L271.6 324.4L272.2 321.9M271.9 387.3L271.3 384.3L270.1 381.4L269.1 378.5M274.6 373.2L273.1 375.3L270.8 376.7L269.1 378.5M270.1 221L272.9 221.7L275.8 221.6L278.6 220.9L281.5 221.1L284.3 221.7M272.1 396.7L270.2 393.1M270.2 393.1L271.8 390.4L271.9 387.3M275.6 313.1L273.2 311.1L270.3 309.7M272.1 302.8L271.8 306.4L270.3 309.7M270.3 495.3L271.7 498L273.4 500.6L274.7 503.3M289.3 481.5L287.2 483L285.1 484.7L283.6 487L280.8 487.6L278.5 488.9L276.7 490.9L274.3 492L272.2 493.6L270.3 495.3M271.2 666.1L270.5 665.1M270.5 665.1L271.9 662.5L271.4 659.4L272.5 656.7L273.7 654.1L274.6 651.4M270.9 284.9L270.9 287.6L271.6 290.2M280.7 278L277.7 279L275.8 281.6L272.9 282.6L270.9 284.9M276.8 419.6L274 417.7L270.9 416.4M271.1 647.9L274.6 651.4M271.1 647.9L272 645.3L271.5 642.5L272.3 639.8L272.9 637.2L271.4 634.2L273.4 631.8M284.3 521.7L281.6 521.2L279 521.3L276.4 521.3L273.8 522.5L271.2 521.5M271.2 666.1L274.4 666.4L277.2 668L280.2 668.9M273.9 734.6L273.2 732L273.8 729.1L273.1 726.5L272.2 723.8L271.9 721.1L271.5 718.4M271.5 718.4L271.8 718M271.6 290.2L273.6 292L276.4 292.1L278.5 293.6M273.5 706.4L273.4 709.4L272.9 712.2L272.6 715.2L271.8 718M286.3 721.3L283.3 721L280.9 718.4L277.5 719.9L274.9 718L271.8 718M271.9 387.3L274.5 385.9L276.9 384.1L279.4 382.5M272.6 336.5L271.9 336.1M277.5 300.7L274.9 302.1L272.1 302.8M272.1 396.7L274.8 396.6L277.5 395.6L280.2 395.9L282.9 396.2L285.6 395.6M272.2 321.9L275.8 320.8M274.6 373.2L273.2 370.1L272.3 366.7M278 361.4L275.9 362.9L274.9 365.7L272.3 366.7M276.6 597.1L276 594.3L275 591.6L273.9 589L274 586L273.7 583.2L272.4 580.6M273.5 578.4L272.4 580.6M277.9 257.7L277.5 255.1L275.6 253.3L275.3 250.6L273.6 248.7L272.4 246.4M273.8 239.8L273.5 243.2L272.4 246.4M273 338L272.6 336.5M280.3 328.8L279 331.3L276.6 332.9L274.2 334.3L272.6 336.5M273.3 551.5L272.6 550M277.7 538.9L275.9 541.4L274.9 544.3L273.5 547.1L272.6 550M279.8 342.6L277.3 341.5L275.3 339.5L273 338M287.5 558.4L285.3 556.9L283.1 555.4L280.5 554.8L278.1 553.8L275.3 553.4L273.3 551.5M273.4 631.8L276.2 629.4M273.5 578.4L275.9 577.8L278.2 576.5L280.8 576.5M277.2 702.9L276 705.3L273.5 706.4M273.8 239.8L276.3 239.1L278.9 238.9L281.6 239.1L284 237.9M273.9 734.6L275.4 735.2M274.6 373.2L277.1 374.2M284.8 650.6L282.3 651L279.7 651.1L277.2 651.4L274.6 651.4M288.5 510.2L285.9 509.7L283.9 508L281.5 506.9L278.6 506.9L277.6 503.3L274.7 503.3M279.3 753.4L279.4 750.7L278 748.2L279 745.3L277.2 743L276.8 740.4L276.4 737.7L275.4 735.2M275.4 735.2L278.6 734.6L281.7 733.6M275.6 313.1L276.5 315.8L277 318.6M275.6 313.1L277.2 310.8L279.5 309.3L281.2 307.1M277.5 698.3L275.8 695.6M275.8 695.6L277.1 693.2L276.4 690.6L276.4 688L277.1 685.5L276.8 682.9M280.3 328.8L279.3 325.8L278.3 322.9L275.8 320.8M275.8 320.8L277 318.6M276.1 468.3L278.1 470.1L279.9 472L282.4 473.3L283.9 475.5L285.9 477.3L287.5 479.5L289.3 481.5M278.8 458L278.4 460.7L277.2 463.1L275.6 465.5L276.1 468.3M281.2 629L276.2 629.4M278.6 784.7L277.2 783.8L276.2 781.3M276.2 781.3L276.1 778L277.1 774.8L277.1 771.5M276.6 597.1L278.7 598.6M281.3 432.5L280.5 429.9L279.3 427.4L278.6 424.8L276.9 422.4L276.8 419.6M276.8 419.6L279 417.6L282.1 417.1L283.7 414.3L286.6 413.4L289.2 412.1L291.3 410.1M276.8 682.9L279.4 681.6L281.8 679.8M277 318.6L280 317.5L283.2 317.4L286.4 317.3M277.1 374.2L277.3 377.1L278.9 379.7L279.4 382.5M284.5 372.6L281.9 372.7L279.4 373.1L277.1 374.2M277.1 771.5L279.8 768.8M277.2 702.9L279.8 704.1L282.4 705.3L285 706.5L287.1 708.6L289.8 709.6M277.5 698.3L277.2 702.9M277.3 258.7L277.3 261.6L277.2 264.4L277.9 267.2L277.5 270.1M277.9 257.7L277.3 258.7M277.5 698.3L279.7 696.8L281.4 694.4L284.2 694.1L286.7 693L288.7 691.2L291.2 690.2M277.5 270.1L280.7 273.1M281.2 307.1L280 303.5L277.5 300.7M277.5 300.7L278.5 298.2L279.5 295.8M277.6 353.6L277.2 356.2L277.7 358.8L278 361.4M277.6 353.6L277.4 350.7L279 348.2L280.2 345.5L279.8 342.6M277.6 353.6L280.1 352.9L282.7 353.5L285.2 353.7L287.7 352.7L290.3 353.4M277.7 538.9L280.4 537.9L283 536.8L285 534.7L287.5 533.4M279.8 768.8L279.4 766L279 763.2L278 760.5L278.1 757.7L277.9 754.9M277.9 754.9L279.3 753.4M292 253.2L289.1 253.9L286.5 255.4L283.7 256.3L280.4 255.8L277.9 257.7M278 361.4L281.1 362L283.6 364.2L286.5 365.3M279.5 295.8L278.5 293.6M284.2 283.8L282.8 286.3L281.1 288.5L280.4 291.4L278.5 293.6M278.6 197.2L279.9 199.9L280.3 202.8M284.4 191.1L284.2 191.3L282.8 193.8L280.5 195.4L278.6 197.2M278.7 598.6L281.9 599.7L284 597.2L286.6 596.1L289.4 595.8L291.9 594.6M279.2 607.3L280 604.3L278.8 601.5L278.7 598.6M291.2 450.7L288.3 451.5L285.8 453L283.6 454.9L281.3 456.7L278.8 458M279.2 607.3L281.3 609.2L283.7 610.7L285.1 613.3L287 615.3M279.3 753.4L282.2 754.6L284.3 752.4L286.6 750.7L289.4 751.1M279.4 382.5L282.5 384L285.8 384.5M292.4 297.8L289.8 297.4L287.2 296.9L284.8 295.7L282 296.4L279.5 295.8M279.8 768.8L282.5 769.9L285.7 768.8L288.4 770.1L291.3 770.4L294.1 771M279.8 342.6L282.5 342.7L284.8 341L287.4 340.7M281.8 679.8L281.9 677L280.5 674.4L280.9 671.6L280.2 668.9M280.2 668.9L282.3 666.4L285.4 666.3L288.2 665.2M285.5 329.8L282.9 329.1L280.3 328.8M280.3 202.8L282.8 203.8L284.5 205.8L286.9 207L288.4 209.2M280.7 278L282.1 281.1L284.2 283.8M280.7 273.1L280.7 278M291.7 270.2L288.9 270.7L286.4 272.3L283.6 272.9L280.7 273.1M280.8 576.5L283.5 577.4L286.1 578.4L288.7 579.4L291.1 580.8L293.8 581.7M287.5 558.4L287.2 561.2L284.8 563.3L285 566.3L283.6 568.7L282.9 571.4L281.6 573.8L280.8 576.5M287.6 642.4L286.4 639.7L285.1 637L283.7 634.4L282.2 631.8L281.2 629M283.8 626.7L281.2 629M281.2 307.1L284.5 307.1L287.6 308.5M281.3 432.5L282.5 433.2M294.1 741.4L292 739.4L289 738.6L286.7 736.7L284.1 735.4L281.7 733.6M281.7 733.6L282.5 731L284.1 728.8L286 726.8L287.1 724.3M281.8 679.8L285.1 679.3L287.4 681.9L290.1 683L293 683.7M282.5 433.2L283.7 435.7L285.4 438L285.9 440.9L287.2 443.3L288.8 445.6L290.5 447.9L291.2 450.7M282.5 433.2L284.9 431.8L287.4 430.6L290.4 431.1L292.8 429.5L295.5 429L298.1 428.2L300.8 427.7L303.4 426.7L305.9 425.7L308.5 424.7M283.8 626.7L286.3 627.1L288.9 626.5L291.2 628.1L293.7 628.3L296.1 629.1L298.5 629.8L301 629.8M283.8 626.7L285.3 624.1L285.4 621L284.9 617.8L287 615.3M292.4 247.1L290.8 244.4L288 242.7L286.1 240.3L284 237.9M284 237.9L284.3 235L285.9 232.4L287.1 229.7L287.5 226.8M284.2 283.8L287.4 284.7L290.5 285.7M287.5 533.4L286.2 530.6L285.6 527.6L284.9 524.7L284.3 521.7M284.3 521.7L284.6 518.6L286.2 515.9L287.8 513.3L288.5 510.2M284.3 221.7L286.2 224L287.5 226.8M288.4 209.2L287.6 211.7L287.6 214.5L285.6 216.6L285.2 219.2L284.3 221.7M284.5 372.6L286.3 374.8M286.5 365.3L285.3 367.6L285.2 370.2L284.5 372.6M287.7 653.9L284.8 650.6M284.8 650.6L285.9 648L286.5 645.1L287.6 642.4M285.5 329.8L286.6 331.3M289.8 320.8L289.1 324.1L286.7 326.7L285.5 329.8M285.6 395.6L286 395.9M285.6 395.6L285.1 392.8L285.3 390L285.8 387.3L285.8 384.5M286.3 374.8L287 378L285.9 381.2L285.9 384.4M296.8 382L294.1 383.1L291.3 383.2L288.6 383.9L285.9 384.4M291.3 410.1L290.3 407.7L288.7 405.6L287.8 403.3L287.7 400.6L286.1 398.5L286 395.9M286 395.9L288.3 394.4L291.1 394.7L293.2 392.5L296 392.7M292.6 375.1L289.4 375.7L286.3 374.8M287.1 724.3L286.3 721.3M290.5 711.4L290.1 714.2L288.2 716.3L287 718.7L286.3 721.3M289.8 320.8L286.4 317.3M286.4 317.3L286.5 314.4L287.2 311.5L287.6 308.5M287 365.1L286.5 365.3M286.6 331.3L289.4 332.5L292 330.8L294.7 330.6L297.4 330.4M286.6 331.3L286.2 334.5L288 337.5L287.4 340.7M294.5 612.5L291.8 612.9L289.4 614.3L287 615.3M287 365.1L289.9 365.9L293 366.2M290.3 353.4L290 356.5L289 359.3L288.2 362.3L287 365.1M298.6 728L295.8 726.9L292.9 726.2L289.7 726.1L287.1 724.3M290.8 342.7L287.4 340.7M287.5 533.4L290.1 533.4L292.3 535.3L294.7 535.9L297.3 536.2M287.5 558.4L291 557.9M301.2 226.9L298.4 226.9L295.7 226.4L293 226.6L290.2 228L287.5 226.8M287.6 308.5L289.9 306.9L292.2 305.4M301.6 639.7L299 641.1L296.1 641L293.2 641.4L290.6 642.9L287.6 642.4M288.2 665.2L288.8 662.4L288.1 659.6L287.4 656.8L287.7 653.9M287.7 653.9L290.4 652.8L293.2 653.6L295.9 653.1L298.7 653.7L301.4 653.6L304.1 653M288.2 665.2L290.1 667.1L292.5 668.1L294.8 669.1M292.3 208.4L291 208.6L288.4 209.2M288.9 510.1L288.5 510.2M288.9 510.1L290.7 512.3L292.9 513.8L295.6 514.5L298.2 515.5L300.5 516.8L302.5 518.7L304.8 520.1M301.3 493.5L298.9 494.9L298.2 497.6L297.1 500L295 501.7L293.9 504.1L291.8 505.7L290.3 507.9L288.9 510.1M290.5 481.5L289.3 481.5M301.3 764L299.2 762.4L297.7 760.4L296.2 758.5L293.3 757.7L292.7 754.9L291.2 752.8L289.4 751.1M289.4 751.1L291.1 748.9L292.3 746.5L293.5 744.1L294.1 741.4M289.8 709.6L290.5 711.4M297.9 700.1L295.9 701.6L294.8 704L294.1 706.7L291.8 708L289.8 709.6M289.8 320.8L292.8 320.1L295.8 319.7L298.8 320.7M290.3 353.4L291.4 352.6M301 491.5L298.7 489.7L296.6 487.7L294.3 485.9L292.1 484L290.5 481.5M300 465.3L298.1 467.3L296.9 469.7L294.7 471.5L294.6 474.5L294.5 477.7L292.6 479.7L290.5 481.5M290.5 711.4L292.7 713L295.4 713.7L298.1 714.3L300.2 716.1L302.8 717M292.8 296.5L292.5 293.8L292.3 291L291.9 288.2L290.5 285.7M296.7 280.9L294.2 281.9L292.6 284.2L290.5 285.7M291.4 352.6L290.5 349.4L291.3 346L290.8 342.7M290.8 342.7L293.2 341.5L295.6 340L298.4 339.9M291 557.9L291.8 560.7L294.4 562.1L296.3 564.1L297.5 566.7L299.7 568.4L300.9 571M291 557.9L292.9 555.6L294.4 552.9L297.1 551.4L299.5 549.5L301 546.8M292 451L291.2 450.7M297.9 700.1L296 697.7L294.9 694.9L293.5 692.3L291.2 690.2M291.2 690.2L292.6 687.1L293 683.7M294 410.5L291.3 410.1M291.4 352.6L292.9 353.3M291.7 270.2L292.7 273.1L293.5 275.9L296.2 277.9L296.7 280.9M296.4 263.4L295.3 266.1L293 267.8L291.7 270.2M295.8 598.1L294.1 596.1L291.9 594.6M293.8 581.7L294.2 584.4L292.3 586.8L292.7 589.5L291.2 591.9L291.9 594.6M292 253.2L294.4 255.8L296.3 258.8M292.4 247.1L291.8 250.1L292 253.2M292 451L293.2 453.5L294.6 455.8L295.7 458.3L297.4 460.5L297.3 463.6L300 465.3M292 451L294.7 450L296.7 448L299.2 446.8L301.5 445.1L303.9 443.8L306.3 442.5L308.9 441.3L311.6 440.5M299.6 312.6L297.9 310.7L295.9 309L294.8 306.4L292.2 305.4M292.2 305.4L292.5 302.6L293.1 299.8M293.1 299.8L292.4 297.8M292.4 297.8L292.8 296.5M292.4 247.1L295 246.1L296.7 243.7L299.9 243.6L301.4 240.9L303.5 239.2L306 238.1M296.8 382L295.4 379.7L293.7 377.6L292.6 375.1M295.1 370.5L293.9 372.8L292.6 375.1M302.4 290.4L300.7 293L298 294.1L295.5 295.5L292.8 296.5M292.9 353.3L294.4 356.3L295.3 359.6L297.7 362M292.9 353.3L295.5 353.2L298.2 353.2L300.5 351L303.3 351.6M295.1 370.5L293 366.2M293 366.2L295.4 364.2L297.7 362M293 683.7L296.6 681M293.1 299.8L295.6 300.7L298.3 300.2L300.8 300.8L303.5 299.7L306 301.6L308.6 301.1M293.8 581.7L296 580.3L298.4 579M308.5 424.7L307 422.6L305.4 420.6L303.5 418.9L301.3 417.5L299 416.2L297.6 414.1L295.4 412.7L294 410.5M294 410.5L295.4 407.9L298.1 406.5L299.6 404.1L301.6 402.1L303.8 400.3M295 777.6L295.4 776.2L294.6 773.6L294.1 771M294.1 771L296.9 770.2L297.2 767L299.6 765.8L301.3 764M294.1 741.4L298.4 739.5M309.2 618.9L307.4 616.5L304.3 616.8L301.8 615.8L299 615.6L297 613.5L294.5 612.5M294.5 612.5L295.9 609.8L295.4 606.8L296.6 604L295.9 601L295.8 598.1M294.8 669.1L295.4 672.1L294.5 675.2L296.4 678L296.6 681M294.8 669.1L296.4 666.6L299.4 666L301.6 664.3L303.9 662.7L306.2 661.2M302.3 371.8L298.6 371.9L295.1 370.5M312.3 598.7L309.5 598.8L306.8 599.4L304.1 598.8L301.3 599.9L298.6 599.1L295.8 598.1M303.8 400.3L302 398.3L299.3 397.2L298.4 394.2L296 392.7M296 392.7L297.8 390.7L297.6 387.8L299.4 385.8L300 383.3M296.3 258.8L296.4 263.4M318.3 253.9L316 255L313.1 253.5L310.7 254.4L308.4 255.3L305.9 255.7L303.6 256.9L301.2 257.9L298.8 258.4L296.3 258.8M296.4 263.4L298.4 264.9L300.2 266.6L301.8 268.7L304.2 269.7L306.4 270.9M302.4 682L299.5 681.6L296.6 681M300.4 281.6L296.7 280.9M300 383.3L296.8 382M300.6 540.8L298.9 538.6L297.3 536.2M297.3 536.2L298.2 533.8L300.8 532.2L299.5 528.8L301.2 526.8L303.2 524.9L303.9 522.5L304.8 520.1M297.4 330.4L297.7 333.6L299 336.6L298.4 339.9M299.8 326L298.1 328L297.4 330.4M297.7 362L300.7 361.3L303.6 361.8L306.5 362.7M297.9 700.1L301.2 700.2L304.4 700.6L307.7 700.3M311 586.1L308.1 585.3L305.8 583.5L303.7 581.4L300.9 580.3L298.4 579M298.4 579L299.7 576.5L300.6 573.8L300.9 571M307.1 742.6L303.9 742.4L301.2 740.8L298.4 739.5M298.6 728L298.1 730.8L299.4 733.7L299 736.6L298.4 739.5M298.4 339.9L301.7 340.9M298.6 728L300.9 725.2L303.5 722.7M298.8 320.7L300.1 323.2L299.8 326M298.8 320.7L300.6 318.1M300.6 318.1L300.6 315.3L299.6 312.6M299.6 312.6L301.6 310.5L303.3 308.3L305.8 306.8L307.8 304.7M299.8 326L301.8 327.8L304.1 329L307.1 328.9L308.9 331.1M315.3 465.8L312.7 465.9L310.2 466.3L307.6 465.3L305.1 466L302.5 465.7L300 465.3M300 383.3L301.3 382.9M300.4 281.6L303.1 284.8M306.5 272.9L306.1 275.8L303.6 277.3L301.3 279L300.4 281.6M301 546.8L300.7 543.8L300.6 540.8M300.6 540.8L302.9 539.6L305.5 539.4L308 538.8L310.3 537.8L312.7 536.8L314.9 535.6L317.5 535.4M300.6 318.1L305 318.1M315.2 564.8L312.8 565.8L310.8 567.7L307.8 567.4L305.3 568.1L303.1 569.5L300.9 571M301 491.5L301.3 493.5M319.6 478.3L317.8 480.2L315.4 481.1L313.6 483L311.4 484.3L308.6 484.7L307.5 487.6L304.7 488L302.9 489.8L301 491.5M316.2 557.5L313.4 556.8L312.2 554L309.6 553L308.4 550.1L305.4 549.7L302.8 548.8L301 546.8M301 629.8L301.2 633.1L302.6 636.3L301.6 639.7M301 629.8L302.7 627.8L304.2 625.8L306.1 624L307.9 622.2L309.1 619.9M306 238.1L304.9 235.2L304.1 232.3L302.9 229.5L301.2 226.9M304.7 219.5L304.4 219.8L303 222L302.2 224.6L301.2 226.9M302.1 763.8L301.3 764M301.3 382.9L305 385.5M303.8 377.5L302.6 380.2L301.3 382.9M311.9 502.5L309 501.6L308 498.6L305.4 497.3L303.2 495.5L301.3 493.5M301.6 639.7L304.4 640.8L304.5 644.2L306.9 645.8M303.3 351.6L304 348.8L301.6 346.4L301.1 343.8L301.7 340.9M301.7 340.9L304.4 340M303.8 377.5L303 374.7L302.3 371.8M302.3 371.8L303.8 368.8L303.8 365.2L306.5 362.7M307.8 687.7L305.9 685.9L304.4 683.7L302.4 682M302.4 682L305.2 680.6L306.5 677.6L307.9 674.8L311.3 674L313.1 671.5M309.2 297.6L306.6 295.5L305.1 292.4L302.4 290.4M303.1 284.8L302.2 287.5L302.4 290.4M308.8 746.3L307.4 748.6L307.4 751.4L306.4 753.9L304.5 756.1L304 758.7L303.2 761.2L302.7 762.8M302.8 717L303.4 719.8L303.5 722.7M302.8 717L305.7 715.5L306.1 712L308.7 710.3M313.4 284.8L310.8 285.4L308.2 283.7L305.7 284.7L303.1 284.8M303.3 351.6L305.7 353.6L308.2 355.4M303.5 722.7L305.6 724.7L307.8 726.5L311.2 725.8L313.3 727.7L316 728.3L316.7 728.6M303.8 377.5L306.5 377.9L308.6 375.7L311.3 376.3L313.7 375.3M303.8 400.3L308.5 399.4M304.1 653L304.7 655.8L306 658.4L306.2 661.2M306.9 645.8L306.4 648.4L304.1 650.3L304.1 653M312.7 343.2L310.1 341.8L307.4 340.5L304.4 340M308.9 331.1L307.2 333.9L305 336.5L304.4 340M306 519.6L304.8 520.1M313.3 322.9L310.3 321.7L307.9 319.4L305 318.1M311.6 312.3L308.9 313.6L306.9 315.8L305 318.1M308.5 399.4L306.9 396.8L307.5 393.7L305.5 391.3L306.1 388.2L305 385.5M305 385.5L308.1 384.6L311.3 385.5L314.4 385.3M317.3 528.1L315.3 526.1L312.6 524.9L309.8 524L308.3 521.2L306 519.6M311.9 512L310.3 514.8L308 517.2L306 519.6M314.6 241L311.9 239.8L308.8 239.3L306 238.1M306.2 661.2L309.1 663.4L312.3 665.2M306.4 270.9L306.5 272.9M306.4 270.9L308.6 269.5L310.4 267.4L313.2 266.9L315.1 265L317.4 263.8L319.7 262.6M314.1 279.5L312 278L310.6 275.8L308.3 274.7L306.5 272.9M306.5 362.7L307.1 362.4M323.1 641.7L321.8 641.6L319.6 643.3L317 643.5L314.3 643.7L311.9 644.8L309.5 645.7L306.9 645.8M307.1 362.4L309.4 364.1L311.5 366L313 368.5L315.6 370M307.1 362.4L308.3 360L308.8 357.4M308.8 746.3L307.1 742.6M307.1 742.6L308.3 740.3L310.2 738.6L311 736.1L313.2 734.7L315.1 733L316.8 731.1L317 730.9M307.8 687.7L307.4 690.2L308.2 692.8L308.4 695.3L307.2 697.8L307.7 700.3M307.7 700.3L308.7 702.8L308 705.3L308.4 707.8L308.7 710.3M323.5 698.3L321.3 698.9L318.4 698.2L315.8 699.2L313.1 699.4L310.3 699.4L307.7 700.3M307.8 687.7L310.4 686.7L313.2 686.1L316.4 687.3L318.9 685.4M311.6 312.3L310.5 309.7L308.5 307.5L307.8 304.7M307.8 304.7L308.6 301.3M308.2 355.4L308.8 357.4M313.4 347.2L311.3 349.7L310.3 352.8L308.2 355.4M308.5 424.7L310.6 425.4M311.2 400.1L308.5 399.4M309.4 298.5L308.6 301.1M321.1 307.3L318.9 305.4L316.3 304.4L313.7 303.4L311.2 302.2L308.6 301.3M308.7 710.3L311.1 711L313.5 711.8L315.6 712.5M308.8 357.4L311.5 356.3L314.1 357.4L316.8 357.6L319.5 357.2L322.2 356.7L324.9 357.5M318.5 750.3L318 750.4L316.1 748.3L313.3 748.8L311 747.7L308.8 746.3M311.8 330.2L308.9 331.1M322.8 639.5L321.3 637.5L319.7 635.4L319.2 632.4L317.3 630.5L315.8 628.3L313.8 626.4L313.5 623.4L311.2 621.6L309.1 619.9M309.2 618.9L309.1 619.9M309.2 297.6L309.4 298.5M314 285.7L312.4 287.8L312.5 290.6L311.4 292.9L310.1 295.2L309.2 297.6M311.5 616.4L309.2 618.9M309.4 298.5L311.9 297.7L314.5 297.3L317 296.6L319.6 296.1M311.6 440.5L311.8 437.9L311.9 435.4L310.5 433L311 430.4L311.4 427.8L310.6 425.4M310.6 425.4L313 423.8L314.6 421.3L317.3 420.3M314.2 596.5L313.7 593.8L312.4 591.4L312.1 588.6L311 586.1M319.2 575.2L317 576.9L315.9 579.5L314.4 581.8L312.3 583.7L311 586.1M311.2 400.1L312.7 402.6L314.8 404.7L315.9 407.5L317.8 409.8M311.2 400.1L314 398L315.2 394.6M311.5 616.4L310.7 613.9L312.3 611.4L312.7 608.9L311.9 606.3L312.4 603.8L311.2 601.2L312.3 598.7M311.5 616.4L314.2 615.4L316.8 616.7L319.5 617.6L322.1 617.5L324.8 616.5L327.5 616.1L330.1 615.7L332.8 615.9L335.4 616.7M323.7 452L321.4 450.3L320 447.8L318.1 445.7L315.7 444.2L313.7 442.2L311.6 440.5M317.8 313.6L314.6 313.4L311.6 312.3M311.8 330.2L314.1 332.4L315.1 335.7L317.8 337.6M311.8 330.2L313.5 328.1L314.2 325.5M322 516.1L319.6 514.8L316.8 514.4L314.2 513.6L311.9 512M311.9 512L312 508.8L311 505.7L311.9 502.5M325.7 498.9L322.9 499.7L320 499.8L317.3 500.8L314.6 501.7L311.9 502.5M312.3 598.7L314.2 596.5M313.1 671.5L312.4 668.4L312.3 665.2M325 659.2L324.3 659.6L322.2 661.4L319.1 661L317.6 663.9L314.7 664L312.3 665.2M312.7 343.2L313.4 347.2M312.7 343.2L314.1 341L316 339.3L317.8 337.6M321.1 678.3L318.8 677L317 675L314.8 673.6L313.1 671.5M314.2 325.5L313.3 322.9M317.8 313.8L315.9 315.7L313.7 317.4L314.5 320.7L313.3 322.9M313.4 284.8L314 285.7M313.4 284.8L313.8 282.1L314.1 279.5M325.1 350.2L322.3 349L319.2 348.9L316.5 347.4L313.4 347.2M317.2 382.4L317.4 379.4L315.1 377.6L313.7 375.3M313.7 375.3L314.8 372.7L315.6 370M318 287.2L314 285.7M314.1 279.5L315.8 277.5L318.5 276.8L320 274.6M327.6 595.5L324.9 595.1L322.3 596.2L319.6 597.2L316.8 595.6L314.2 596.5M323.6 325.7L320.5 325.5L317.3 326.3L314.2 325.5M314.4 385.3L314.5 388.4L314.1 391.6L315.2 394.6M314.4 385.3L317.2 382.4M314.6 241L316.6 243.4L318.1 246M314.6 241L315.7 238.7L317.5 236.7L316.3 233.4L319.1 231.9L319.7 229.4L320.2 228.7M319.2 575.2L317.8 572.7L316.4 570.3L316.9 567.1L315.2 564.8M317 560.1L316 562.4L315.2 564.8M315.2 394.6L318.2 393.9L321.1 392.8L324.1 391.9L327.2 391.9M315.3 465.8L316.4 468.2L317.6 470.6L317.3 473.5L319.3 475.6L319.6 478.3M323.7 452L322.7 454.5L321.1 456.7L318.5 458.3L318.3 461.3L315.8 463L315.3 465.8M315.6 370L318.7 368.9L321.9 368.3M317 560.1L316.2 557.5M326 541L325.4 543.9L323.1 545.7L321.8 548.1L321.1 550.9L319.3 552.9L317.8 555.2L316.2 557.5M335.3 561.8L332.7 561.5L330.1 560.8L327.4 561.3L324.9 560.1L322.2 560.9L319.7 560.2L317 560.1M324.2 382.9L320.7 383L317.2 382.4M317.3 528.1L317.4 531.8L317.5 535.4M323.6 522.7L321.3 524.2L319.5 526.4L317.3 528.1M328.5 422.3L325.7 421.7L322.8 421.8L320.1 421L317.3 420.3M317.3 420.3L317.3 417.6L318.3 415L318.6 412.4L317.8 409.8M326 541L323.6 540L321.9 538.1L319.6 536.9L317.5 535.4M317.8 313.6L318.9 310.1L321.1 307.3M317.8 409.8L320 408.2L321.7 406L324.6 405.3L326.4 403.2L328.5 401.4M320.5 337.6L317.8 337.6M317.8 313.8L319.7 315.6L321.4 317.6L323 319.7L324.9 321.5L327.7 322.2M320.9 293.8L319.8 290.3L318 287.2M322 285.4L320.8 286L318 287.2M318.1 246L317.8 248.7L319.4 251.2L318.3 253.9M318.1 246L320.3 244.6L323.2 245.1L325.3 243.7L327.3 241.8L329.5 240.4L332.2 240.4L334.4 239.7M318.3 253.9L320.4 256.2L321.4 259.2M318.9 685.4L319.8 688.3L322.1 690.4L322.4 693.7L324.9 694.7M321.1 678.3L321.3 682.2L318.9 685.4M334.8 582L332.1 581L330 578.9L326.7 579.3L324.5 577.2L322 576L319.2 575.2M319.6 296.1L320.4 298.6L320.2 301.5L322.4 303.6L323.1 306.1M320.9 293.8L319.6 296.1M319.6 478.3L322 479.9L324.9 480.9L327 483.3L330.1 483.7M319.7 262.6L319.8 265.6L319.4 268.6L319.9 271.6L320 274.6M321.4 259.2L319.7 262.6M324.3 278.8L324 278.6L322 276.6L320 274.6M320.5 337.6L321.7 339.9L322.6 342.3L323.4 344.7L324 347.2L325.7 349.3M322.4 336.2L320.5 337.6M327.2 293.6L324.1 293.6L320.9 293.8M323.1 306.1L321.1 307.3M321.1 678.3L323.5 677.3L326.3 677.6L328 676.3M321.4 259.2L323.9 260.1L326.6 260.1L328.9 261.8L330.3 261.8M324.6 370.9L321.9 368.3M324.9 357.5L323.8 360.1L322.7 362.7L322.9 365.7L321.9 368.3M323.6 522.7L323.1 519.3L322 516.1M328.1 511.2L326 512.8L324.7 515.3L322 516.1M322.4 336.2L322.9 333.6L323.1 330.9L324.5 328.4L323.6 325.7M322.4 336.2L324.9 335.3L327.5 336L330 337L332.6 336.4M324.2 306.1L323.1 306.1M323.6 325.7L327.3 323.1M323.6 522.7L326.4 523.7L329.2 524.8L332.1 525.6M323.7 452L326.6 451.6L329.5 451.3M324.2 306.1L326 308.1L328.4 309.3L330.5 310.9L332.1 313M330.5 299.4L328.4 301.6L326 303.6L324.2 306.1M325.2 383.6L324.2 382.9M324.2 382.9L323.3 379.9L323.9 376.9L324.4 373.9L324.6 370.9M333.7 371.3L330.7 371.3L327.6 371.7L324.6 370.9M334.2 360.2L331.3 358.9L328 358.4L324.9 357.4M325.1 350.2L325.2 353.8L324.9 357.4M325.7 349.3L325.1 350.2M325.2 383.6L325.9 386.4L326.4 389.2L327.2 391.9M325.2 383.6L328.1 382.2L330.8 380.5L334 379.7M333.5 344.9L330.8 346.2L328.5 348.3L325.7 349.3M325.7 498.9L326.1 501.4L325.6 504L326.9 506.3L327.9 508.7L328.1 511.2M325.7 498.9L328.2 496.2L330.6 493.5M333.1 539.8L329.6 540.9L326 541M328.4 393.2L327.2 391.9M330.5 299.4L329.4 296.1L327.2 293.6M327.2 293.6L328.5 291.4L329.4 289L329.5 288.4M333.7 334.6L332.2 332.5L331.6 329.8L329.1 328.1L328.6 325.4L327.3 323.1M327.3 323.1L327.7 322.2M335.7 613.1L335.2 610.2L333.3 608.1L332.3 605.5L330.6 603.2L330.4 600.3L329.4 597.7L327.6 595.5M334.4 586.5L332.5 588.5L330.9 590.9L328.7 592.8L327.6 595.5M329.1 321.1L327.7 322.2M328.1 511.2L330.6 511.9L332.8 513.4L335.3 514.1L337.8 514.9L340 516.4M328.5 401.4L328.8 398.7L328.8 395.9L328.4 393.2M328.4 393.2L331.4 392L334.4 390.9L337.7 391.1M338.3 406.1L335.7 405.1L333.3 404L331 402.5L328.5 401.4M336.3 431.3L334.5 428.9L332.4 426.8L330.2 424.8L328.5 422.3M328.5 422.3L330.1 420.2L332.9 419.2L334.3 416.9L336.6 415.4L338.4 413.4L340.1 411.3M329.1 321.1L332.1 322.8L335.3 323.3L338.6 323.7M332.1 313L331.8 316L330.1 318.4L329.1 321.1M340.5 468.7L338.7 466.8L338.5 463.8L337.1 461.7L335 460L333.7 457.8L332.6 455.5L331.1 453.3L329.5 451.3M329.5 451.3L332 450.2L333.6 448M330.1 483.7L331.1 485.9M340.5 468.7L338.8 470.7L337.4 472.9L336.7 475.6L334 476.9L332.6 479.1L331.6 481.5L330.1 483.7M335.7 299.6L333.1 299.5L330.5 299.4M341.6 502.5L339.4 500.7L337.1 499L335.4 496.6L332.7 495.5L330.6 493.5M330.6 493.5L330.5 490.9L329.8 488.3L331.1 485.9M353.2 486.7L350.5 485.9L347.7 485.1L345 485.5L342.2 486L339.4 485.5L336.6 485.9L333.9 485.6L331.1 485.9M333.1 539.8L333.3 536.9L333.2 534.1L332.5 531.3L332.3 528.4L332.1 525.6M332.1 525.6L333.2 522.6L335.4 520.5L338.4 519.2L340.1 516.7M332.1 313L335.1 311.9L338 310.7M332.6 336.4L332.9 339.2L333.4 342L333.5 344.9M332.6 336.4L333.7 334.6M333.1 539.8L334.8 542.4L338.2 541.5L340.2 543.5L342.8 544.4M333.5 344.9L336.9 346.4M333.6 448L333.7 445.1L333.8 442.3L336.4 439.9L335.7 436.9L336.5 434.2L336.3 431.3M357.1 448.4L354.5 448.8L351.9 448.8L349.3 449.1L346.6 448.7L344 447.4L341.4 448.9L338.8 448.1L336.2 447.4L333.6 448M334 379.7L334.1 376.9L332.5 374.2L333.7 371.3M333.7 371.3L336.6 368.5M333.7 334.6L337.2 333.8L340.5 332.2M334 379.7L336.9 380.8L339.3 382.7M334.2 360.2L335.3 362.9L336.8 365.5L336.6 368.5M338.3 357L336.5 359L334.2 360.2M351.7 598.2L349.5 596.9L347.7 594.9L345.3 593.7L343 592.4L340.6 591.4L338.4 589.9L336.6 588L334.4 586.5M334.4 586.5L334.8 582M335.2 581.5L334.8 582M335.2 581.5L335.8 578.7L334.6 575.9L335.4 573.1L336 570.2L334.8 567.4L335.7 564.6L335.3 561.8M350.9 577L348.4 578L345.9 579.3L342.8 578.5L340.4 579.8L337.7 580.5L335.2 581.5M335.3 561.8L337.5 559.3L340.4 557.6L342.9 555.3M335.6 617.1L335.4 616.7M335.4 616.7L335.7 613.1M335.7 299.6L336.7 302.3L339.1 303.8M335.7 299.6L337.5 297.4L338.3 294.7L339.1 292.1M351.7 598.2L350.2 600.5L348 602.2L345.6 603.7L344.2 606.1L342.3 608.1L339.6 609.2L338.2 611.7L335.7 613.1M336.3 431.3L339.2 430L342.2 429.4L345.3 429.1L348.3 428.5M345.8 370.4L342.8 369.1L339.6 369.4L336.6 368.5M336.9 346.4L338.4 348.6M345.6 339.5L343.3 341L341.2 342.8L339.4 345.1L336.9 346.4M337.7 391.1L339.6 393L342.2 394.2L344.1 396.2M337.7 391.1L338.7 388.3L339.6 385.6L339.3 382.7M338 310.7L341 312.1L343.5 314.2L345.8 316.5M338 310.7L338.6 307.3L339.1 303.8M338.4 348.6L338.6 351.4L336.9 354.2L338.3 357M348.5 358.8L345.8 359.2L343.2 358.8L341 356.8L338.3 357M340.1 411.3L339.4 408.6L338.3 406.1M338.3 406.1L340.4 404L339.6 400.2L342.5 398.6L344.1 396.2M348.4 349.9L346.1 348.1L343.5 348.6L340.9 348.9L338.4 348.6M340.5 332.2L340.5 329.2L338.8 326.6L338.6 323.7M338.6 323.7L340.7 322.3L342.1 320L344.1 318.5L345.9 316.8M339.1 303.8L341.6 303.1L343.9 302L346.6 302.1L348.9 300.8M339.3 382.7L342.4 381.4M340.1 516.7L340 516.4M341.6 502.5L340.9 505.3L340.9 508.1L340.9 510.9L339.1 513.5L340 516.4M351.1 414.8L348.4 413.7L345.9 412L342.5 413.1L340.1 411.3M347.4 519.9L345.1 518.7L342.4 518.2L340.1 516.7M340.5 468.7L343 468.5L345.5 468.2L348 468.7M343.7 333.2L340.5 332.2M357.4 498L354.7 498.5L351.8 498.5L349.7 500.8L346.9 501.1L344.2 501.8L341.6 502.5M342.4 381.4L344.9 382.8L347.3 384.4L349.3 386.5M342.4 381.4L343.5 379.1L344.9 376.9L346.4 374.7L346.9 372.1M342.8 544.4L343.4 547L344.3 549.5M347.2 538.8L345 541.6L342.8 544.4M342.9 555.3L344.3 557.4L346 559.3L346.8 561.9L349.4 563.1L351 565.1L352.4 567.3M342.9 555.3L343.2 552.3L344.3 549.5M343.7 333.2L345.2 336.2L345.6 339.5M343.7 333.2L345.7 331.5L347.7 329.9L350.1 328.7M344.9 396L344.1 396.2M344.3 549.5L346.9 548.8L349.3 549.7L351.9 549.8L354.2 551.4L356.8 551L359.2 552.1L361.8 551.6L364.3 551.2L366.8 551.9L369.2 552.9M353.1 399.3L350.2 398.4L348 396.3L344.9 396M344.9 396L344.9 393.1L347.4 391.3L348.4 388.9L349.3 386.5M348.1 341.2L345.6 339.5M345.8 370.4L346.9 372.1M348.8 359.7L347.9 362.3L346 364.7L345 367.3L345.8 370.4M345.8 316.5L345.9 316.8M345.8 316.5L348 314.7L348.2 311.7L350 309.6L351.2 307.2M346.4 317.2L345.9 316.8M358.8 317.6L355.7 317.3L352.6 317.5L349.5 317.6L346.4 317.2M350.1 328.7L349.9 325.6L348.4 322.9L348.6 319.6L346.4 317.2M346.9 372.1L348.4 372.6M347.4 519.9L347.1 522.6L347.5 525.3L346.7 528L346.5 530.7L347.4 533.4L347 536.1L347.2 538.8M347.2 538.8L349.6 537.7L352 536.6L354.8 536.8L357.4 536.2L359.5 534.1L362.3 534.4M354.8 517.7L352.4 518.8L350 519.7L347.4 519.9M353.9 474.3L352.3 472L349.6 471L348 468.7M357.7 449.8L357.1 452.5L354.9 454.3L354.3 457L351.7 458.7L351.6 461.6L350.4 463.9L349.7 466.6L348 468.7M348.4 349.9L348.6 347L348.6 344.1L348.1 341.2M357.2 339.9L354.1 340.1L351 339.9L348.1 341.2M358.6 443.3L356.8 441.4L355.1 439.4L354 437L352.4 435.1L351.6 432.4L349.9 430.5L348.3 428.5M348.3 428.5L349.3 425.8L351.2 423.6L352.4 421L353.1 418.2M350.6 352.6L348.4 349.9M348.4 372.6L350.6 374.7L352.9 376.7L355 378.9M358.4 368L355.6 368.5L353.5 370.6L351.2 372.1L348.4 372.6M348.8 359.7L348.5 358.8M350.6 352.6L349.6 355.7L348.5 358.8M358.3 362.7L355 362.2L352.2 359.9L348.8 359.7M348.9 300.8L350.6 303.8L351.2 307.2M349.1 300.3L348.9 300.8M352 385.8L349.3 386.5M354 329.4L350.1 328.7M350.6 352.6L353.5 352.5L355.9 350.8M358.8 583.3L357.1 581.4L355.2 579.7L352.4 579.3L350.9 577M350.9 577L351.4 573.8L351.8 570.5L352.4 567.3M353.1 418.2L351.1 414.8M351.1 414.8L351.9 412.3L353.4 410.2L354.3 407.8L355.1 405.3L355.5 402.7M351.2 307.2L354.4 307.4L357.3 308.8M353.8 598.1L351.7 598.2M357 389.9L354.4 388L352 385.8M355 378.9L354 382.5L352 385.8M352.4 567.3L355.2 568.2L357.3 566.1L359.7 565.7L362.2 565.1L364.8 565L367 563.7M353.1 399.3L355.5 402.7M357 389.9L356.4 392.4L355.4 394.8L354.1 397L353.1 399.3M359.8 419.2L356.4 418.9L353.1 418.2M357.3 492.2L355.1 489.6L353.2 486.7M353.9 474.3L353.9 477.4L352 480.4L354.9 483.7L353.2 486.7M353.8 598.1L356 599.4L358 601L358.9 603.8L360.9 605.4L361 605.5M353.8 598.1L354.2 595.5L355.4 593.1L356.8 590.9L355.8 587.8L357.7 585.7L358.8 583.3M353.9 474.3L356.5 474.3L358.7 472.5L361.4 472.8L363.8 472.1L366.4 471.7L368.8 471L371.1 469.7M354 329.4L354.9 332.4L356.9 334.8L358.2 337.5M358.5 325.4L355.9 327.1L354 329.4M364.5 528.5L362.3 526.5L360.1 524.6L358.5 522.1L356.8 519.8L354.8 517.7M354.8 517.7L356.1 515L357.7 512.5L359.8 510.3L361.5 507.9L362.3 504.9M361.5 378.3L358.2 378.5L355 378.9M364.6 401.5L361.5 401.4L358.5 401.8L355.5 402.7M361.2 356.4L360 354L356.9 353.4L355.9 350.8M359.1 345.6L357.8 348.4L355.9 350.8M357 389.9L361.5 389.2M357.7 449.8L357.1 448.4M357.1 448.4L357.3 445.7L358.6 443.3M357.2 339.9L358.1 342.7L359.1 345.6M357.2 339.9L358.2 337.5M357.3 308.8L358.3 311.3L359.2 313.8L360.2 316.3M359.9 306.4L359.4 307L357.3 308.8M357.4 498L356.9 495.1L357.3 492.2M372.4 482.9L370.3 484.3L368 485.4L366 487L363.1 487.1L360.9 488.4L359.7 491.3L357.3 492.2M357.4 498L358.5 500.7L360.2 503L362.3 504.9M372.1 460.5L369.9 459.2L367.4 458.3L366.3 455.4L363.9 454.4L362.1 452.5L359.6 451.5L357.7 449.8M358.2 337.5L360.6 336.7L363.2 336.3L365.8 335.8L368.1 334.4M359.3 364.5L358.3 362.7M358.3 362.7L359.7 359.5L361.2 356.4M358.4 368L359.6 370.8L361.4 373.4L363.2 376M359.3 364.5L358.4 368M368 328.7L365.7 327.7L363.4 326.6L360.8 326.4L358.5 325.4M358.8 317.6L358.5 320.2L359.4 322.9L358.5 325.4M370.5 433.4L369 435.6L366.5 436.6L364.7 438.4L362.9 440.3L360 440.9L358.6 443.3M358.8 317.6L360.2 316.3M358.8 583.3L361.7 582.4L364.7 582.3L367.3 580.7L370.4 580.6M365.8 347L362.5 346L359.1 345.6M359.3 364.5L362.1 364.8L364.9 365L367.7 364.5L370.5 364.9M370.5 433.4L368.8 431.4L367.7 429.1L366.1 427.2L363.6 425.8L363.3 422.9L361.5 421.1L359.8 419.2M369.9 411.7L367.6 412.8L366 414.9L364.2 416.7L361.9 417.7L359.8 419.2M371.1 324.1L369.4 321.9L367.3 320.3L364.4 319.7L362.1 318.3L360.3 316.2M365.4 313.1L362.6 314.2L360.3 316.2M366.5 355.5L364 356.6L361.2 356.4M361.5 389.2L362.3 386.5L361.8 383.7L361.7 381L361.5 378.3M361.5 378.3L363.1 377.1M362.4 389.7L361.5 389.2M362.3 534.4L364 536.4L365.3 538.8L366.5 541.1L368.7 542.8L369.7 545.3L372.1 546.8L372.5 549.7M364.5 528.5L363 531.3L362.3 534.4M362.3 504.9L365.1 506.3L368 507.2L371.1 506.6M364.6 401.5L363.3 398.7L364 395.5L362.3 392.8L362.4 389.7M370.5 388.1L367.9 389L365.2 389.4L362.4 389.7M370.9 380.4L368.6 378.7L366.1 377.3L363.1 377.1M363.1 377.1L363.2 376M370.9 365.4L368.8 367.1L366.9 368.9L367.2 372.4L364.9 374L363.2 376M364.5 528.5L367.1 527.4L370.1 527.1L372.4 525.2L375.1 524.3M366 402L364.6 401.5M365.4 313.1L368.1 315.8L372 316M365.7 309.3L365.3 310.3L365.4 313.1M365.8 347L365.5 349.9L366.8 352.6L366.5 355.5M368.8 345.2L365.8 347M369.9 411.7L368.7 409.4L367.8 406.9L367.1 404.4L366 402M374.3 396.3L372 397.4L369.8 398.7L367.9 400.4L366 402M368.9 357L366.5 355.5M372.3 574.4L370.3 572.1L369.9 568.9L369.3 565.9L367 563.7M367 563.7L368.5 561.2L368.1 558.3L368.9 555.7L369.2 552.9M368 328.7L368.5 331.5L368.1 334.4M371.1 324.1L369.1 326.1L368 328.7M370.5 336.7L368.1 334.4M376.8 349.8L374 348.5L371.6 346.5L368.8 345.2M368.8 345.2L369.4 342.4L369.5 339.5L370.5 336.7M368.9 357L369.5 359.6L371 362L370.5 364.9M377.1 351.5L374.5 353.6L371.9 355.6L368.9 357M372.5 549.7L369.2 552.9M379.9 414.6L377.6 413.3L374.8 413.5L372.3 412.9L369.9 411.7M375.4 590L375.1 589.7L375.2 586.5L373.1 584.9L372 582.6L370.4 580.6M370.4 580.6L371 577.4L372.3 574.4M370.9 365.4L370.5 364.9M376.8 337.1L373.6 337.3L370.5 336.7M376.4 432.7L373.3 431.9L370.5 433.4M374.3 396.3L372.1 394L371.1 391.1L370.5 388.1M370.5 388.1L372.3 383.5M372.3 383.5L370.9 380.4M376.2 372.9L374.7 375.6L372 377.5L370.9 380.4M372.2 365.8L370.9 365.4M371.1 469.7L373.4 472.7L374.7 476.3M372.1 460.5L370.9 463.5L371.8 466.7L371.1 469.7M376.3 512.3L375.3 509.7L373.5 507.9L371.1 506.6M371.1 506.6L372.8 504.3L374.6 502.2L375.1 499.1L376.3 496.6L378.9 494.9M371.1 324.1L373.2 323M373.2 323L372.9 319.4L372 316M374.7 312.3L373.9 314.2L372 316M372.1 460.5L374.5 459.3L376.7 457.8L379.4 457.2L381.7 455.8L384 454.5L386.1 452.8M376.2 372.9L374.4 370.8L374.7 367.5L372.2 365.8M379.5 362.1L376.8 362.9L374.9 365.1L372.2 365.8M380.1 384.2L377.5 383.6L374.9 383.9L372.3 383.5M388.3 569L385.6 569.8L383.1 571L379.7 569.7L377.5 572.1L374.9 573.3L372.3 574.4M378.9 494.9L377.3 492.7L376.5 490.1L373.2 488.7L373.4 485.5L372.4 482.9M372.4 482.9L374.1 479.8L374.7 476.3M375.1 549.2L372.5 549.7M373.2 323L376.1 322.2L378.7 323.7L381.5 323.9M382 397.5L379.4 396.8L376.7 397.4L374.3 396.3M374.7 476.3L377.7 476.3L380.7 476.6L383.6 477.1L386.5 478.3L389.5 478.1M375.1 524.3L376.3 527.5L379.9 528.3L381.2 531.4L384.1 532.9M375.1 524.3L375 521.3L374.3 518.2L376.1 515.3L376.3 512.3M375.1 549.2L378 549.7L380.4 550.8L382 553.5L385.3 553.2L387.3 555.1L389.2 557.3L391.7 558.4M384.1 532.9L382.7 535.2L382.5 538.1L380.6 540.1L378.4 541.9L378.4 544.9L376.6 546.9L375.1 549.2M376.2 372.9L379.1 373.3L381.9 374.1M391.4 510.8L388.8 510.4L386.4 511L383.9 511.3L381.5 513L378.9 512.2L376.3 512.3M376.4 432.7L378.7 434.4L380.7 436.5L382.7 438.6L385 440.3L387 442.3M376.4 432.7L377.1 430L379 427.8L378.9 424.8L381 422.6L380 419.3L382 417.1M377.1 351.5L376.8 349.8M380.8 342.7L380.5 345.6L378.5 347.6L376.8 349.8M376.8 337.1L378.9 339.8L380.8 342.7M376.8 337.1L378.3 334.9L379.4 332.5L380.9 330.4L383 328.7M382.1 355.9L378.8 354.7L377.1 351.5M378.9 494.9L381.6 495L384.3 494.6L386.9 493.8L389.7 494.4L392.3 493.6M379.5 362.1L381.5 364L383.6 365.8L385.2 368.1M382.1 355.9L379.7 358.6L379.5 362.1M382 417.1L379.9 414.6M379.9 414.6L380.2 411.7L380.1 408.8L381.9 406.2L381.4 403.2L381.2 400.3L382 397.5M385.9 391.8L384.3 389L382.5 386.4L380.1 384.2M380.1 384.2L381.3 381.6L382.5 379.1L383.3 376.5M380.8 342.7L385.1 342.7M383 328.7L382.3 326.2L381.5 323.9M386.5 316.4L385.6 317.3L384.8 319.9L383.7 322.3L381.5 323.9M383.3 376.5L381.9 374.1M385.2 368.1L384.2 371.4L381.9 374.1M382 397.5L383.7 395.6L386.2 394.8M382 417.1L384.5 417.2L387 416.5L389.5 415.5L392.1 416.2L394.7 416.6L397.2 416M382.1 355.9L386 355.4M390.6 333.4L388.5 331L385 331.1L383 328.7M383.3 376.5L386.5 376.8L389.4 378.6L392.6 378.9M384.1 532.9L387 532.8L389.8 531.8L392.7 531.5L395.7 531.3M385.1 342.7L386.9 344.6L389.2 346L390.6 348.2M385.1 342.7L386.6 340.4L388.2 338.3L389.6 336L390.6 333.4M392.6 366.1L390.2 367L387.8 368L385.2 368.1M385.9 391.8L386.2 394.8M393 380.1L391.8 382.5L391.3 385.4L389 387.2L386.8 389.1L385.9 391.8M392.5 361.9L390.4 359.7L388.8 356.9L386 355.4M386 355.4L387.3 352.9L388.2 350L390.6 348.2M395.8 460.8L393.1 460L391.4 458.2L390.9 454.9L387.8 454.7L386.1 452.8M387 442.3L386.2 444.9L386.3 447.5L386.8 450.2L386.1 452.8M390.5 396.4L386.2 394.8M401.9 434.3L399.1 435L397.4 437.8L394.8 439L392.1 439.9L390.4 442.7L387 442.3M388.3 569L388.7 571.7L390.5 573.6L392.2 575.6L392.6 576.6M388.3 569L389.1 566.4L390 563.7L390.3 560.9L391.7 558.4M392.7 493.2L391.6 490.8L392 488.1L391.3 485.6L391.4 483L390.4 480.6L389.5 478.1M397.1 470.5L395.1 472.3L392.8 473.8L391.4 476.3L389.5 478.1M400.1 411.8L399.1 409.4L397.5 407.4L396.4 405L393.4 403.8L393.8 400.5L391.6 398.8L390.5 396.4M390.5 396.4L393.1 395.7L395.6 394.8L397.3 392.4L399.6 391.1L402.1 390.3M390.6 333.4L394.4 333.3M390.6 348.2L395.3 347.5M391.4 510.8L393.6 512.4L395.5 514.2M391.4 510.8L391.8 508L392.1 505.1L392.1 502.2L392.8 499.4L392.7 496.5L392.3 493.6M391.7 558.4L395.6 556.8M392.3 493.6L392.7 493.2M392.5 361.9L392.6 366.1M399.6 356.1L397.2 357.9L394.9 360L392.5 361.9M396.1 370.2L394.5 368L392.6 366.1M393 380.1L392.6 378.9M392.6 378.9L395 376.5L394.5 372.9L396.1 370.2M410.8 492.9L408.2 493.8L405.6 492.8L403 492.5L400.5 493.2L397.9 494L395.3 493.3L392.7 493.2M393 380.1L395.1 381.6L397.6 382.5L400.4 383L402.1 385.2M396.4 346L397 343.3L394.8 341.1L394.9 338.4L394.2 335.9L394.4 333.3M396.3 332L394.4 333.3M399.6 356.1L399 352.8L397.5 349.9L395.3 347.5M396.4 346L395.3 347.5M395.5 514.2L396 517L394.7 519.9L395.9 522.7L395.6 525.6L394.9 528.4L395.7 531.3M395.5 514.2L398 512.8L400.7 512.2L403.6 512.1L406.3 511.8L408.6 509.7L411.4 509.6L413.9 508.3M407.6 563.3L405.9 560.7L402.9 560.8L400.2 560L397.9 558.2L395.6 556.8M402.7 536.3L401.5 538.8L401.1 541.5L399.8 543.9L398.9 546.4L397.4 548.8L397.3 551.6L396.5 554.2L395.6 556.8M395.7 531.3L398.2 532.7L400.2 534.9L402.7 536.3M397.1 470.5L396.6 467.3L395.3 464.2L395.8 460.8M407.8 454.9L405 455.3L403 457.2L400.8 458.9L397.4 457.9L395.8 460.8M405.1 369.8L402.1 369.5L399.2 371L396.1 370.2M398.5 328.1L398.2 325.6L396.5 323.5L396.2 321.3M407.8 341.1L405.3 339.6L403.4 337.3L400.7 335.9L399 333.3L396.3 332M398.5 328.1L396.3 332M408.2 343.5L405.2 343.8L402.4 345.5L399.3 345.4L396.4 346M410.5 476.8L407.9 475.5L405.2 474.2L402.4 473.3L399.9 471.5L397.1 470.5M402.2 432.8L402.1 430.2L400.6 428L400.8 425.4L399 423.3L398.4 420.9L397.4 418.5L397.2 416M397.2 416L398.4 413.7L400.1 411.8M407.1 327.1L404.2 327.2L401.4 327.6L398.5 328.1M400.7 356.3L399.6 356.1M405.8 409.4L403.1 410.8L400.1 411.8M400.7 356.3L402 358.6L404.1 360.2L405.6 362.3M400.7 356.3L403.1 355.2L404.7 353L406.8 351.3L409.1 350M401.9 434.3L402.9 437.1L406.5 437.3L407.6 440L409.4 442.1M401.9 434.3L402.2 432.8M408.4 396.2L406.3 394.1L404.3 392.1L402.1 390.3M402.1 390.3L402 387.7L402.1 385.2M405.3 382.3L402.1 385.2M402.2 432.8L404.8 431.8L407.1 430L410.2 429.9L411.9 427L414.9 426.6L417.9 426.3L419.9 424.1M402.7 536.3L405.7 536.8L408.4 535.6L411.2 535.5M405.1 369.8L405.5 370.2M405.6 362.3L405.6 364.8L404.7 367.3L405.1 369.8M412.8 383L410.4 382.2L407.8 382.5L405.3 382.3M405.3 382.3L406 379.3L406.3 376.3L406.2 373.2L405.5 370.2M405.5 370.2L409.6 370.4M405.6 362.3L407.7 360.5L410.5 359.7L412.3 357.6L414.7 356.3M405.8 409.4L408.9 410.4L412.3 410.4L415.3 411.8M408.4 396.2L407.9 398.8L407.5 401.5L406.3 404L406.2 406.7L405.8 409.4M410.9 332.7L409.8 329.4L407.1 327.1M407.1 327.1L408.8 325L409.3 323M422.1 462.8L419.4 462L417.5 459.8L414.8 459.2L412.2 458.3L410.3 456.1L407.8 454.9M409.4 442.1L409.1 444.6L409 447.2L407.9 449.7L407.6 452.3L407.8 454.9M408.2 343.5L407.8 341.1M407.8 341.1L408.4 338.1L409.7 335.4L410.9 332.7M416.6 343L413.8 343.4L411.1 343.9L408.3 343.6M408.3 343.6L408.9 346.8L409.1 350M408.4 396.2L411.4 395.2L414.3 393.8L417.1 392.3M414.7 356.3L412.6 354.5L410.8 352.3L409.1 350M409.4 442.1L412.5 442.9L415.6 442.6L418.6 442.5L421.7 441.9M416.2 378.5L414.5 376.6L412.8 374.6L411.4 372.4L409.6 370.4M409.6 370.4L411.8 368.6L414.9 368.4L417.1 366.4M410.8 492.9L411 490.2L411.2 487.6L411.6 484.9L409.2 482.2L411.2 479.5L410.5 476.8M410.5 476.8L412.8 475.5L414.7 473.5L417.3 472.4L419 470.2L421.4 469M410.8 492.9L412.6 494.8M417.1 332.3L414 332.4L410.9 332.7M411.2 535.5L414.9 536.8L416.6 540.4M411.2 535.5L412.2 533L413.9 530.8L413.4 527.6L417.1 526.5L418.1 524L418.6 521.2M412.6 494.8L412.1 497.6L412.5 500.3L413.5 502.9L414.8 505.5L413.9 508.3M427.3 490.7L425 491.9L422.6 492.6L420.1 493.3L417.7 494L415 493.8L412.6 494.8M412.8 383L414.4 385.1L414.2 388L416.1 390L417.1 392.3M412.8 383L414.1 380.4L416.2 378.5M413.9 508.3L416.6 511.1M416.6 356.8L414.7 356.3M415.3 411.8L416.3 414.3L416.4 417L418.1 419.2L418.7 421.8L419.9 424.1M424.9 405.3L422.6 407.1L419.7 408L417.3 409.6L415.3 411.8M416.2 378.5L419.7 377.9L423.2 377.2M416.6 511.1L417.5 513.5L417.7 516.1L417.7 518.8L418.6 521.2M432.8 507L429.9 506.9L427.3 507.8L424.7 509L422.3 510.9L419.3 510.7L416.6 511.1M422.3 348.1L419.9 347L418.4 344.8L416.6 343M420.4 336.2L419.1 338.4L417.1 340.3L416.6 343M416.6 540.4L419.2 540.8L421.6 542.6L424.3 541.9L426.8 542.5L429.5 542.5L430.2 542.4M416.7 558.2L416.9 555.7L415.9 553.2L416.7 550.6L416.4 548.1L416.3 545.5L415.9 542.9L416.6 540.4M416.6 356.8L419.1 360.5M422.3 348.1L420 349.8L418.9 352.1L418.3 354.9L416.6 356.8M419.6 326.5L417.1 324.9L416.7 322.2M417.1 366.4L418.4 369.2L420.5 371.6L421.8 374.4L423.2 377.1M417.1 366.4L419.2 362.4M417.1 332.3L418.2 334.7L420.4 336.2M419.6 326.5L418.6 329.5L417.1 332.3M419.9 392.8L417.1 392.3M418.6 521.2L421 522.7L423.8 522L426.1 523.8L428.8 523.8L431.5 523.8L434.1 524.2L436.5 525.4M419.1 360.5L419.2 362.4M432.4 356.9L429.7 357.6L427 358L424.4 359L421.8 360L419.1 360.5M419.2 362.4L421.8 363L423.3 365.3L425.7 366.3L427.7 368M427.6 325.3L425.3 324.9L422.6 327L419.6 326.5M424.9 405.3L423.1 403.1L422.1 400.6L421.6 397.9L420.5 395.5L419.9 392.8M419.9 392.8L422.2 391.1L424.3 389.1M419.9 424.1L422.8 425.6M420.4 336.2L425.3 336.5M421.4 469L422.7 471.4L425.8 471.9L427.4 474.1L429.3 475.9L431.3 477.7M421.4 469L421.4 465.9L422.1 462.8M425.1 444.4L421.7 441.9M422.8 425.6L423.1 428.4L421.4 431L422.2 433.7L421.5 436.4L421.9 439.2L421.7 441.9M422.1 462.8L423.6 461.2M422.3 348.1L425.4 347.5M422.8 425.6L425.6 425.2M425.2 380.4L423.2 377.2M423.2 377.1L425.2 375.4L426.5 373.2L428 371.2M437.4 459L434.5 458.8L432 460.5L429.1 460.2L426.5 461.8L423.6 461.2M423.6 461.2L423.6 458.4L423.2 455.5L424.4 452.8L425.6 450.1L425 447.2L425.1 444.4M424.3 389.1L427.3 390.3L430.7 389.9L433.8 391.1M425.2 380.4L425.8 383.4L423.8 386.1L424.3 389.1M424.9 405.3L426.9 405.6M425.1 444.4L427.7 443.9L430.2 442.6L432.9 442.2L435.6 441.8M425.2 380.4L428.2 381.1L431.2 380.1L434.2 380.4M425.3 336.5L425.7 339L426.5 341.4L427.2 343.8M427.7 334.2L425.3 336.5M425.4 347.5L427.1 349.4L429 351.1L431.2 352.4L432.5 354.6M425.4 347.5L427.2 343.8M425.6 425.2L427.6 426.7L429 429.1L431.4 430.2L433.1 432.2L435.5 433.2L437.3 435M433.2 418.4L431 419.7L429.7 422.1L427 422.9L425.6 425.2M426.9 405.6L430.5 406.9L432.9 409.8M426.9 405.6L428.1 403.1L430.4 401.5L431.4 398.9L433.6 397.1L435 394.8M435.3 342.1L432.8 343.5L430 343.4L427.2 343.8M436.1 497.3L433.9 495.6L432 493.6L429.5 492.4L427.3 490.7M431.3 477.7L430.1 480.2L430 482.9L429.5 485.6L428 488L427.3 490.7M427.7 334.2L431.2 335.3L434.7 336.4M428.2 325.7L428.1 328.4L427.8 331.3L427.7 334.2M428 371.2L427.7 368M432.2 362.8L429.6 365L427.7 368M436.1 372.8L433.4 372.4L430.8 371.3L428 371.2M431.3 477.7L435.3 477.3M432.2 362.8L434 364.8L436.4 366.3L437.9 368.7M432.4 356.9L432 359.8L432.2 362.8M443.3 360.9L440.2 360.8L437.9 358.9L434.8 358.8L432.4 356.9M432.4 356.9L432.5 354.6M437.4 349.9L434.6 351.8L432.5 354.6M439.4 514.5L437.2 512L434.5 509.9L432.8 507M432.8 507L433.3 504.4L435.1 502.4L435.5 499.8L436.1 497.3M433.2 418.4L432.9 415.6L433.3 412.7L432.9 409.8M432.9 409.8L436.2 409.5L438.8 407.3L442.1 406.8M440.9 422.2L438.4 420.8L435.7 419.9L433.2 418.4M435 394.8L433.8 391.1M433.8 391.1L435.5 389.1L436.8 386.9M434.2 380.4L435.3 383.7L436.8 386.9M437.2 375.9L435.8 378.2L434.2 380.4M434.7 336.4L434.7 339.3L435.3 342.1M436.7 334.5L434.7 336.4M441.8 398.1L439.7 396.6L437.1 396.2L435 394.8M444.6 485.7L443.3 483.4L441.2 482L439.5 480.1L437.4 478.7L435.3 477.3M443.9 468.8L440.9 470.1L439.5 473L437.8 475.5L435.3 477.3M435.3 342.1L438.2 344.6M442.2 451.2L441 448.5L439 446.5L436.9 444.4L435.6 441.8M435.6 441.8L437.2 439.5L437.9 436.7M442.6 495.5L439.4 496.6L436.1 497.3M437.2 375.9L436.1 372.8M436.1 372.8L437.9 368.7M436.5 525.4L437.7 528L438.4 530.8L439.6 531.8M439.4 514.5L439 517.3L436.8 519.7L438.7 523.1L436.5 525.4M443.3 386.4L440.1 387L436.8 386.9M437.2 375.9L439.7 376.5L442.3 377L444.9 377.7M437.9 436.7L437.3 435M440.9 422.2L440.4 424.8L439.9 427.4L440 430.2L438.1 432.5L437.3 435M437.4 459L439.3 461.3L440.6 463.9L441.8 466.7L443.9 468.8M442.2 451.2L439.8 453.3L438.9 456.3L437.4 459M438.2 344.6L437.9 347.3L437.4 349.9M446.4 353.5L443.3 352.4L440.9 349.8L437.4 349.9M444.9 365.1L442.9 366.9L439.8 366.7L437.9 368.7M447.9 435L445.3 434.5L443.2 437.5L440.4 436.3L437.9 436.7M445.3 341.6L442.9 342.5L440.9 344.3L438.2 344.6M439.4 514.5L442.3 514.7L444.4 512.8L446.5 511.1L449.4 511.4L451.8 510.2M440.9 422.2L443.9 421.5L447 421.1L449.9 420.2M442.1 406.8L442.1 403.9L441 401L441.8 398.1M441.8 398.1L444.2 396.5L446.2 394.5M445.9 408.6L442.1 406.8M442.2 451.2L445.4 451.3L448.6 451.2M451.7 501.1L449.3 499.9L447.1 498.3L444.4 497.7L442.6 495.5M442.6 495.5L443.9 492.4L443.5 488.9L444.6 485.7M446.2 394.5L444.7 392L443.6 389.3L443.3 386.4M443.3 386.4L444.7 384.5M444.9 365.1L443.3 360.9M446.4 353.5L445.7 356.1L443.6 358.1L443.3 360.9M444.5 468.8L443.9 468.8M455.8 480.3L454.2 478.1L452.3 476.3L450.5 474.3L447.5 473.4L446.7 470.5L444.5 468.8M454.9 460.8L452.9 462.5L450.3 463.4L448.7 465.7L446.3 466.8L444.5 468.8M455.8 480.3L453.6 481.5L451.9 483.6L449.3 484.1L447.4 485.8L444.6 485.7M453.1 385.8L450.4 384.8L447.6 384.6L444.7 384.5M444.7 384.5L443.6 381.1L444.9 377.7M449.8 373.7L447.9 376.3L444.9 377.7M450.9 368.4L447.7 367.1L444.9 365.1M445.3 341.6L448.1 343.3M445.5 337.3L445.4 338.9L445.3 341.6M445.9 408.6L446.6 411.6L448.6 414.2L449.3 417.1L449.9 420.2M445.9 408.6L447.6 406.4L450.3 405.7L452.7 404.4L454.9 402.9M454.2 395.2L451.4 395.7L448.8 395.5L446.2 394.5M448.3 352.4L446.4 353.5M447.9 435L450.3 436.4L453 437.5L454.7 439.9M447.9 435L448.3 432.1L448.9 429.3L450.9 426.7L450.7 423.6L450.8 420.7M448.3 352.4L448.8 349.3L448.2 346.3L448.1 343.3M455.6 341.4L453.2 342.3L450.4 342L448.1 343.3M451 353.3L448.3 352.4M454.9 460.8L453.5 458.3L451.2 456.4L450 453.7L448.6 451.2M448.6 451.2L450.5 449.2L452.7 447.6L453.7 444.9L455.6 443M456.1 381.3L453.7 379L452.3 375.9L449.8 373.7M450.9 368.4L449.9 370.9L449.8 373.7M449.9 420.2L450.8 420.7M450.8 420.7L451.3 420.7M450.9 368.4L454.2 366.7M451 353.3L451.9 356.5L454.1 358.8L456 361.3M458.2 349.1L455.8 350.5L452.8 350.9L451 353.3M451.3 420.7L453.6 422.3L455.9 423.8L458.9 424.3L460.9 426.3M461.4 410.7L459.6 412.8L457.3 414.6L455.2 416.5L453.9 419.2L451.3 420.7M451.7 501.1L452.2 504.1L451 507.2L451.8 510.2M451.7 501.1L453.9 499.7L456.3 498.4L458.3 496.6L460.5 495.1M452.8 511.2L451.8 510.2M463.5 512.8L460.8 512.4L458.1 512.2L455.5 511.5L452.8 511.2M452.8 511.2L452.5 513.8L453.4 516.4L453.4 518.9L454.2 521.5L454.2 521.5M454.6 394.7L453.3 391.9L452.9 388.9L453.1 385.8M456.1 381.3L454.5 383.5L453.1 385.8M454.2 395.2L456.2 397.6L454.2 400.4L454.9 402.9M454.2 395.2L454.6 394.7M454.2 366.7L456.7 368L459.1 369.4L461.8 370.4L464.5 371.2M454.2 366.7L454.7 363.9L456 361.3M463.8 392.2L460.6 392.5L457.4 392.9L454.6 394.7M455.6 443L454.7 439.9M454.7 439.9L456.2 437.9L457.6 435.8L458.8 433.6L461 432.1L461.9 429.7M454.9 402.9L458 404.5L460.5 406.8M460.6 462.3L457.7 461.7L454.9 460.8M455.6 443L458 443.8L460.3 444.9L462.7 445.7M455.6 341.4L457.3 343.7L457 346.6L458.2 349.1M457.4 339.2L457.2 339.4L455.6 341.4M455.8 480.3L457.1 480.4M456 361.3L459.3 359.9L461.9 357.4M460.1 381.2L456.1 381.3M457.1 480.4L460.7 483.1M457.1 480.4L457.4 477.8L458.8 475.4L458.6 472.6L459.6 470.2L459 467.3L461.3 465.1L460.6 462.3M458.2 349.1L460.1 350.8L462.7 351.4M466.3 387.3L463.8 385.8L462.1 383.3L460.1 381.2M460.1 381.2L460.2 378.2L462.5 376.3L463.3 373.6L464.5 371.2M460.5 495.1L461.4 498.1L464 499.3L466.8 500.3L468 502.9L470.1 504.5M460.5 495.1L460.6 491.5L462.5 488.4M461.4 410.7L460.5 406.8M468.3 400.3L466.6 402.2L464.6 403.7L462.3 404.9L460.5 406.8M460.6 462.3L463.4 461.3L466.3 460.3M460.7 483.1L463 485.3L462.5 488.4M473.1 474.2L471.2 475.9L468.9 477.1L466.7 478.4L465.1 480.4L462.6 481.3L460.7 483.1M460.9 426.3L461.9 429.7M467.9 420L465.7 422.2L463.4 424.4L460.9 426.3M461.4 410.7L463.4 411.8M461.9 357.4L463.7 359.7L466.6 360.3L468.8 362.1L471.3 363.2M461.9 357.4L461.8 354.3L462.7 351.4M471.1 434.5L468.8 433.2L466.3 432.5L463.7 431.9L461.9 429.7M462.5 488.4L465 489.3L467.5 489.2L470 489.5L472.5 489.5L475 490M462.7 351.4L464.8 349.2L467.1 347.2L470.3 346.9M462.7 445.7L463.4 448.1L464.7 450.4L464.2 453.1L464.8 455.5L464.5 458.2L466.3 460.3M462.7 445.7L464.7 443.7L468.1 444.2L469.6 441.4L472.1 440.4M463.4 411.8L465.1 414.5L466.6 417.2L467.9 420M463.4 411.8L465.9 410.7L468.5 410.4L471.2 410.3L473.7 409.5L476.2 408.5M463.5 512.8L465.5 514.5L465.7 516.3M463.5 512.8L465.5 511L467.2 509L468.8 506.8L470.1 504.5M463.8 392.2L465.2 395L467.1 397.4L468.3 400.3M466.3 387.3L465.7 390L463.8 392.2M464.5 371.2L465.5 371M465.5 371L468.1 372.6L468.8 375.3L470.5 377.5L471.8 379.9L472.9 382.4M465.5 371L467.8 369.8L469.6 368L471.3 366.1M466.9 460.5L466.3 460.3M466.3 387.3L471.1 385.7M466.9 460.5L468.6 462.5L469.4 464.9L469.6 467.5L471.2 469.5L471.6 472.1L473.1 474.2M477.4 456.2L474.5 456.6L472.7 459.6L469.4 459.2L466.9 460.5M471 420.2L467.9 420M471.6 401.1L468.3 400.3M473.7 504.5L470.1 504.5M470.3 346.9L470.4 349.8L471.4 352.5L471.6 355.3L472.2 358L473 360.7M471.9 344.9L470.3 346.9M475.6 428.9L474.5 425.8L471.9 423.4L471 420.2M471 420.2L473.6 418.5L475.3 415.7L478 414M478.3 393.5L476.5 391.5L474.8 389.5L473.3 387.2L471.1 385.7M471.1 385.7L472.9 382.4M471.1 434.5L470.9 437.6L472.1 440.4M475.6 428.9L473.4 431.8L471.1 434.5M471.3 366.1L474.2 367.7L476.9 369.6M471.3 363.2L471.3 366.1M473 360.7L471.3 363.2M471.6 401.1L473.1 403.6L474.3 406.3L476.2 408.5M471.6 401.1L473.5 399.4L475.3 397.6L477 395.7L478.3 393.5M479 444.8L476.7 443.4L473.9 442.7L472.1 440.4M476.8 380.2L472.9 382.4M480.8 357.7L478.2 358.7L475.5 359.4L473 360.7M473.1 474.2L476.6 473.6L479.2 476.2L482.4 476.7M477.5 508.4L477.2 508.1L475.1 506.6L473.7 504.5M473.7 504.5L474.9 502.3L476 500L477.3 497.9L479 496M479 496L477.2 492.9L475 490M482.5 476.9L480.9 478.9L479.5 481L479 483.6L477.8 485.8L476.2 487.8L475 490M475.6 428.9L478.3 428.2L480.9 427.1L483.8 427.6M477.5 409.4L476.2 408.5M476.9 369.6L476.8 372.3L475.5 374.9L476.4 377.5L476.8 380.2M484.8 381.3L482 381.9L479.5 380L476.8 380.2M486.2 368.6L483.1 368.9L480.2 370.9L476.9 369.6M488.2 463.1L486.4 461.2L484 460.1L481.2 459.9L479.5 457.7L477.4 456.2M477.4 456.2L478.4 453.5L478.3 450.5L478.7 447.7L479 444.8M478 414L477.5 409.4M486.2 403.9L484.5 405.9L481.7 406.3L479.3 407.4L477.5 409.4M481.1 416.6L478 414M478.3 393.5L481.3 393.4L484.4 393.7M484.9 496.4L484.1 496.8L481.5 495.1L479 496M485.9 441.9L482.4 443.2L479 444.8M480.8 357.7L481.9 360.5L482.6 363.6L484.8 365.8L487.2 367.8M482.9 353.4L480.8 357.7M481.1 416.6L484.1 417.1L486.9 415.9L489.9 415.8L492.7 415.1M481.1 416.6L481.9 419.3L482.3 422.1L483.5 424.7L483.8 427.6M482.1 348.2L482.1 348.2L482.1 350.9L482.9 353.4M488.2 463.1L487.4 466L485.3 468.3L484.6 471.2L484.2 474.2L482.4 476.7M487.6 480.4L487.1 479.9L484.6 478.6L482.5 476.9M482.9 353.4L485.6 354.8L488.5 355.8L491 357.5L494.2 357.7M485.9 441.9L486.3 438.9L484.7 436.3L484.2 433.4L485.4 430.4L483.9 427.6M483.9 427.6L487.3 427.4L490.4 426.2L493.7 425.3M487.1 396.3L484.4 393.7M485.5 382L485.3 384.9L484.7 387.8L485.1 390.9L484.4 393.7M485.5 382L484.8 381.3M484.8 381.3L485.5 378.8L485.6 376.3L484.5 373.6L485.6 371.1L486.2 368.6M493.9 381.5L491 380.9L488.3 382.7L485.5 382M485.9 441.9L489.5 442.2L492.9 443.4M492.7 415.1L490.9 413.1L490 410.6L488.5 408.5L487.1 406.4L486.2 403.9M486.2 403.9L487.8 400.5M486.2 368.6L487.2 367.8M487.8 400.5L487.1 396.3M497.7 390.3L495.2 392.2L492.5 393.4L489.5 394.4L487.1 396.3M490.6 367.1L487.2 367.8M487.8 400.5L490.9 401.7L494.1 402.5L497.3 403.5M490.4 462.4L488.2 463.1M490.4 462.4L492.8 463.5L494.4 465.7L496.6 466.9L499 468.1L500 471L502.4 471.8M490.4 462.4L491.2 459.5L493.7 457.9L495.2 455.5M499.1 374.1L496.4 373.1L494.5 371L492.9 368.7L490.6 367.1M494.4 358.7L492 361L491.9 364.3L490.6 367.1M493.5 415.5L492.7 415.1M495.2 455.5L495.2 452.4L494.1 449.4L494 446.3L492.9 443.4M492.9 443.4L495.2 441.8L497.3 440M493.5 415.5L494.4 418L495.5 420.5L495.4 423.2M493.5 415.5L495.4 413.7L497.4 412.1L499.2 410.3M497.4 439.8L497.1 436.8L495.3 434.2L495.2 431.1L494.5 428.2L493.7 425.3M495.4 423.2L493.7 425.3M497.7 390.3L497.2 387L495.3 384.4L493.9 381.5M493.9 381.5L495.6 379L497.2 376.4L499.1 374.1M494.2 357.7L494.4 358.7M497.5 349.3L497.9 351L496.2 353L494.9 355.2L494.2 357.7M503.6 362.1L500.5 361L497.8 358.9L494.4 358.7M495.2 455.5L498.3 456.2L501.3 457.2L504.3 455.3L507.4 455.6M495.4 423.2L498.7 423.4L502 423.6M497.3 403.5L498.9 406.7L499.2 410.3M497.3 403.5L499.8 402.4L501.7 400.6L503.2 398.4M497.3 440L499.6 442.3L502.5 443L505.8 443L508.3 444.7M497.4 439.8L499.4 437.5L502.3 436.2L504 433.6L506.2 431.5M497.7 390.3L501.7 391.4M502.5 373.9L499.1 374.1M499.2 410.3L502 411.7L504.9 411.3L507.8 411.6M501.7 391.4L503.2 393.6M508.4 380.5L507.9 383.2L504.5 384.1L503.9 386.7L502.8 389.1L501.7 391.4M502 423.6L503.2 426.3L504.8 428.9L506.2 431.5M508.1 418.9L505.7 420L504 422L502 423.6M504 374.4L502.5 373.9M502.5 373.9L502.6 370.9L502.3 367.9L504.1 365.1L503.6 362.1M503.2 398.4L506.1 399.9L507.5 403.1L510.1 405M503.2 393.6L503.2 398.4M503.2 393.6L505.8 393.4L508.4 392.7L511.1 394.4L513.6 392.6L513.7 392.6M508.8 358.6L506.4 360.7L503.6 362.1M508.4 380.5L506.9 378.5L505.1 376.7L504 374.4M504 374.4L505.8 372.5L507.7 370.6L510.6 370L512.5 368.2M506.2 431.5L510.6 432.3M507 469.9L507.5 469L508.9 466.9M508.9 466.9L509 464L508.5 461.2L507.6 458.5L507.4 455.6M507.4 455.6L507.9 455.1M507.8 411.6L507.8 415.2L508.1 418.9M507.8 411.6L509.4 409.8M507.9 455.1L507.9 452.5L508.1 449.9L508.5 447.3L508.3 444.7M517.9 454.9L515.4 455L512.9 454.2L510.4 455.1L507.9 455.1M508.1 418.9L509.8 421.9L513.2 421.9M508.3 444.7L511.1 444.2L512.6 441.9M508.3 349.8L508.3 350.4L508.3 353.2L508.4 355.9L508.8 358.6M508.4 380.5L512.2 381.5M512 361.4L508.8 358.6M518.8 465.8L515.6 466.9L512.3 467.2L508.9 466.9M519.9 412.4L517.6 410.5L514.7 410.9L512.1 410.4L509.4 409.8M510.1 405L509.4 409.8M516.8 400.8L516.8 400.9L514.4 402.2L512.3 403.7L510.1 405M512.6 441.9L513 438.5L512.2 435.3L510.6 432.3M514.9 428.9L512.8 430.6L510.6 432.3M512 361.4L514.5 362M512.5 368.2L511.2 364.9L512 361.4M512.2 381.5L513.6 383.7L514.8 386.1L516.7 388.1L516.8 388.3M512.2 381.5L514.4 379.3L516.8 377.4L519.6 376.2M517.9 370.3L515.6 368.3L512.5 368.2M518.7 442.7L515.7 442.4L512.6 441.9M513.2 421.9L513.6 425L515.2 427.7M513.2 421.9L515.9 421.1L517.9 419L519.7 416.9L522.2 415.7M514.1 348.3L515.9 348.5L518.5 348.6L518.9 348.7M514.7 322.4L515.9 324.3L517.8 326.1L520.2 327.3L522.8 328.2M514.7 334.9L515.4 334.5L518 334.5L520.4 333.6L523 333.4M521.9 435.4L519.7 433L517.2 431L514.9 428.9M514.9 428.9L515.2 427.7M515.2 427.7L518.4 427.6L521.4 426.7L524.1 425M516.2 309.6L517.1 311L519.8 311.4L522.3 312.1L524.8 312.7L525.9 316L528.6 316.3L530.9 317.5M522.1 460L520.1 457.3L517.9 454.9M517.9 454.9L518.9 451.8L520.3 448.9L521.3 445.8M519.6 376.2L517.8 373.5L517.9 370.3M517.9 370.3L519.9 368.7L520.3 368.1M521.3 445.8L518.7 442.7M518.7 442.7L519.8 440.3L521 437.9L521.9 435.4M523.1 474.7L522.1 473.5L521.6 470.6L520.6 468L518.8 465.8M518.8 465.8L519.7 462.5L522.1 460M519.6 376.2L521.5 376.7M519.9 412.4L522.2 415.7M519.9 412.4L520.3 409.5L521 406.7L522 404L522.2 403.3M527.8 446.5L524.5 446.9L521.3 445.8M521.5 376.7L522.3 379.4L523.7 381.1M521.5 376.7L524.2 375.9L526.9 374.9L529.2 373.7M526.6 433.3L524.7 435.2L521.9 435.4M521.9 346.3L522.2 343.4L523.1 340.6L523.7 337.8L524.5 335M527.5 459.7L524.8 459.9L522.1 460M524 416.4L522.2 415.7M522.8 328.2L522.3 330.8L523 333.4M530.9 317.5L529.5 319.8L527.4 321.6L526.4 324.2L524.9 326.4L522.8 328.2M523 333.4L524.5 335M526.8 416.4L524 416.4M524.1 425L524.8 422.2L523.2 419.3L524 416.4M527.5 428.6L524.1 425M524.5 335L526.9 336.1L529.7 335.8L532.1 336.9L534.8 336.8M532.9 439L530.9 437L529.4 434.4L526.6 433.3M527.5 428.6L526.6 433.3M527.4 474.8L528.5 473.3L528.4 470.7L529.4 468.3L530.4 466L530.9 463.5M530.9 463.5L529.3 461.5L527.5 459.7M531.5 452L530.2 454.6L528.2 456.8L527.5 459.7M530 428.1L527.5 428.6M531.5 452L529.7 449.2L527.8 446.5M527.8 446.5L529.7 444.1L531.2 441.5L532.9 439M528.8 350.4L529.6 349.6L530.3 346.8L532.5 344.9L534.7 343L535.8 340.4M530.9 317.5L531.8 317.2M537.3 463.5L536.1 463.3L533.4 465.5L530.9 463.5M535.4 452.4L534.1 452.5L531.5 452M533.3 438.9L532.9 439M535.8 340.4L534.8 336.8M536.1 335L534.8 336.8M535.8 340.4L538 342L539.7 344.2L541.5 346.3L544.1 347.4M544.1 347.4L543 349.6L541.7 351.9L540.5 353.2M544.1 347.4L547.7 346.5M553 348.9L550.4 347.6L547.7 346.5M548.9 340L548 341.3L547.8 343.9L547.7 346.5M555.5 355.9L555.3 353.8L553.5 351.5L553 348.9M559.1 344.6L555.7 346.3L553 348.9M565 355.3L561.8 355.8L558.8 357L555.8 356.6M561.6 374L559 373.7L556.8 374.3M562.6 365.5L559.7 364L557.7 363.4M559.1 344.6L561.5 346.5L564.1 348.2L566.7 349.9M560.1 342L559.1 344.6M561.9 379L561.9 376.7L561.6 374M561.6 374L563.1 372.8M562.6 365.5L563.4 369.1L563.1 372.8M567 362.9L564.8 364.1L562.6 365.5M570.6 372.6L566.8 372.6L563.1 372.8M567 357.8L565 355.3M565 355.3L566.6 352.9L566.7 349.9M566.6 339.5L567 340.4L569 342.4L569.8 344.9L570.8 347.3M570.8 347.3L566.7 349.9M570.9 365.9L567 362.9M567 362.9L566 360.3L567 357.8M577.5 356.8L574.8 357.1L572.2 357.3L569.7 358.2L567 357.8M571.8 373.7L570 375.8L569.9 378.5L570 381M570.6 372.6L571.8 373.7M570.9 365.9L569.7 369.2L570.6 372.6M573.9 347.6L570.8 347.3M570.9 365.9L573.3 364.8L575.6 363.6L578.5 363.7L580.4 361.4M578 374.6L574.8 374.7L571.8 373.7M577.5 356.8L576.2 353.8L575.4 350.6L573.9 347.6M577.6 344.3L573.9 347.6M577.6 344.3L576.2 342L575.1 339.5L575.4 338.6M577.5 356.8L579.8 358.6M577.6 344.3L580.2 344.7L582.8 344.8L585.3 344.8M578 374.6L578.4 377.2L577 379.8L577.8 381.2M582.3 372.2L578 374.6M579.8 358.6L580.4 361.4M579.8 358.6L582 356.5L584.5 354.6L586 351.8L588.2 349.6M580.4 361.4L583.1 364.8M582.3 372.2L584.7 374.1L587.1 375.9M582.3 372.2L582.9 368.5L583.1 364.8M583.1 364.8L585.9 364.2L588.8 364.5L591.5 363.3L594.3 363M585.3 344.8L585.2 342.1L584.6 339.5L584.8 339.1M588.1 347.2L585.3 344.8M586.3 381.3L586.1 380.9L586.1 378.3L587.1 375.9M587.1 375.9L590.5 375.2L593.9 375.3M588.1 347.2L588.2 349.6M588.1 347.2L590.4 346L592.6 344.5L594.9 343.1M588.2 349.6L590 352L592.4 353.9L594.9 355.6L596.7 358M589.3 421.7L592.1 422L594 420M593.2 431.8L593.7 431.5L596.4 431.5M593.9 375.3L595 378.4L598.2 379.9L599.4 382.1M593.9 375.3L596 372.1L596.7 368.4M594 420L596.4 421.5L598.9 423M596.6 410.2L596.4 412.8L594.9 415L594.2 417.4L594 420M594.3 363L595.9 365.5L596.7 368.4M594.3 363L595.9 360.8L596.7 358M594.9 343.1L595.5 340.5L594.4 338M594.9 343.1L597.2 345L599.9 346.1L602.8 346.6M596.2 409.3L596.6 410.2M602.7 435.1L601.1 433.6L598.6 433L596.4 431.5M596.4 431.5L598.2 428.6L599.6 425.5M596.6 410.2L600 411.1L603 413M596.7 368.4L599.4 368.4L602.1 369.1L604.7 370M596.7 358L599.6 356.9M598.9 423L599.6 425.5M603.8 418L601.4 420.6L598.9 423M606.1 426.7L605.5 426.5L602.7 425.4L599.6 425.5M599.6 356.9L604.3 358.5M602.8 346.6L602 349.2L600 351.4L599.5 354L599.6 356.9M599.9 382.1L600.6 379.9L602.8 377.9L604.5 375.6L606.2 373.3M602.8 346.6L605.4 345.4M602.9 319.3L605.2 318.3L607.2 316.7L608.3 313.9L610.7 312.9L612.7 311.5M603 413L604.1 415.4L603.8 418M610.7 409.9L608.3 411.2L605.3 411.4L603 413M607.7 420.3L605.7 419.5L603.8 418M607.3 365.6L606.2 363.3L605.6 360.8L604.3 358.5M604.3 358.5L606.7 357.4L609.1 356L611.8 355.5M604.7 370L606.2 373.3M607.3 365.6L606.5 368.1L604.7 370M607.6 342.3L607 339.4L605.4 336.9L604.8 336.4M605.4 345.4L607.7 347L609.4 349.1L610.1 352L612.2 353.8M607.6 342.3L605.4 345.4M614.6 376.1L611.9 374.8L608.8 374.7L606.2 373.3M607.3 365.6L610.2 366.1L613 365.1M607.6 342.3L612.3 341.5M610.7 409.9L611.3 406.9L609.9 404.3L609.4 402.7M609.7 328.2L612.3 328.2L615 327.7M610.7 409.9L611.5 410.3M611.5 410.3L612.7 411.8M611.5 410.3L613 410.3M615.9 360.8L614.2 357.9L611.8 355.5M611.8 355.5L612.2 353.8M618.6 348.9L616.7 350.8L614.6 352.5L612.2 353.8M612.3 341.5L614.4 344L617.1 345.9L618.6 348.9M615.3 337.9L612.3 341.5M616.3 326.6L615.5 324.1L615.6 321.4L613.8 319.2L613 316.7L612.7 314.1L612.8 311.5M616.6 373.7L615.9 370.6L614 368.1L613 365.1M615.9 360.8L615.1 363.4L613 365.1M614 396L614.4 396L616.2 398.2L618.9 398.2L621.3 399.1M614.2 383.7L613.4 381.8L614.6 378.9L614.6 376.1M616.6 373.7L614.6 376.1M615 327.7L615.5 330.2L615.4 332.8L614.2 335.4L615.3 337.9M615 327.7L616.3 326.6M615.3 337.9L618.6 337.4L621.5 338.8L624.4 339.8M615.3 409.9L617.1 409.5L619.6 407.8L622.5 407.6M615.9 419.1L617.1 418.7L619.8 418.1L622.7 417.9M615.9 360.8L619.1 360.3L622.2 360.8M616.3 326.6L619.3 327.2L622.3 326.8L625.3 326.8M623.7 371.5L620.1 372.4L616.6 373.7M616.8 429.6L617.7 429.6L620.2 428.5L622.8 427.7L625.7 429.1L628.2 428M623.7 385.2L620.7 384.7L617.7 384.2L617.4 384.3M618.6 348.9L621.4 349.1M619 441.8L619.7 442M626.9 312.4L624.7 310.7L622.2 309.5L619.5 308.7L619.2 308.6M629 450.4L627.4 448.4L625.4 446.9L623.9 444.8L620.9 444.4L619.7 442M619.7 442L622 440.8L623.5 438.6L626.3 438.1L627.9 436M621.3 399.1L623.3 401.9M621.3 399.1L622.7 396.7L623.8 394.1L625.7 392L626.7 389.4M621.4 349.1L621.5 352L622.1 354.9L622.1 357.9L622.2 360.8M621.4 349.1L624.1 347.5M629 450.4L626.3 450.8L623.8 451.7L622 454L621.6 454.3M623.1 361.5L622.2 360.8M622.5 407.6L624.1 410.5M623.3 401.9L623.2 404.8L622.5 407.6M622.7 417.9L624.3 419.9L626.1 421.8L626.6 424.7L629.3 425.9M622.7 417.9L623.8 415.5L623.1 412.8L624.1 410.5M623.7 371.5L623.6 369L624 366.4L623.5 364L623.1 361.5M633 358.6L630.5 359.3L627.9 359.5L625.7 361.1L623.1 361.5M632.1 400.4L629.3 401.8L626.1 400.6L623.3 401.9M623.7 385.2L625 387.4L626.7 389.4M628.8 377L627.4 380L625.8 382.7L623.7 385.2M623.7 371.5L626.4 372.5L628.7 374.3M629.1 349.3L626.6 348.5L624.1 347.5M624.4 339.8L624.5 342.4L623 344.9L624.1 347.5M632.5 411.7L629.8 410.7L626.9 411L624.1 410.5M627.6 336L624.4 339.8M627.6 336L626.8 333L626.4 329.8L625.3 326.8M625.3 326.8L626.8 325.4M630.7 390.1L626.7 389.4M641.6 324.7L638.7 325.4L635.7 325.4L632.7 325.7L629.7 325.6L626.8 325.4M626.8 325.4L627.9 322.8L627.5 320.2L626.2 317.6L626.6 315L626.9 312.4M635.7 309.1L632.7 310.1L629.7 310.9L626.9 312.4M631.8 452.6L630.8 454.9L629 456.9L629.1 459.7L627.8 461.9L627.1 463M627.6 336L630.3 337.6L633.3 337.9M627.9 436L630.1 437.9L632 440M628.2 428L626.9 430.6L627.6 433.3L627.9 436M628.2 428L629.4 426.5M628.7 374.3L628.8 377M628.7 374.3L631.3 373.2L633.8 371.9L636 370M628.8 377L631 379.2L633.1 381.6L635.6 383.6M629 450.4L631.8 452.6M629 450.4L630 447.9L630.7 445.3L630.5 442.4L632 440M629.1 349.3L631.1 351.3L631.9 354.1L633.8 356.1M634.7 343.3L632.8 345.3L631.1 347.4L629.1 349.3M629.3 425.9L629.4 426.5M634.5 416.4L632.9 418.6L632 421.2L630.7 423.6L629.3 425.9M629.4 426.5L631.7 428.2L634.7 427L636.8 429.4L639.6 429L640.5 429.1M634.5 395.1L633.3 392L630.7 390.1M635.6 383.6L633.2 385.1L632.3 387.9L630.7 390.1M634.7 452.8L634.4 452.9L631.8 452.6M632 440L634.5 440.3L634.5 440.3M632.1 400.4L633.5 403.8L636.4 406M634.5 395.1L632.7 397.4L632.1 400.4M632.5 411.7L632.7 414.4L634.5 416.4M636.4 406L634.1 408.6L632.5 411.7M636.7 365.6L635 363.5L634.2 361L633 358.6M633.8 356.1L633 358.6M633.3 337.9L633.3 340.8L634.7 343.3M640 334.1L638.2 336.1L636 337.4L633.3 337.9M642.6 351.5L639.5 352.6L636.2 353.6L633.8 356.1M634.5 416.4L637.2 415.8L639.8 416.6L640.1 416.7M634.5 395.1L638.2 394.4M643.1 347.4L639.9 346.7L637.7 344.3L634.7 343.3M635 298L635.9 298.8L634.5 302L636.4 304.1L636.9 306.6M641 383.5L638.3 383.8L635.6 383.6M635.7 309.1L636.6 311.7L637.7 314.1L639.7 316.1L640.5 318.7L641.7 321L643.1 323.4M636.9 306.6L635.7 309.1M643.9 376.2L642.1 374.4L640.3 372.7L637.9 371.6L636 370M636 370L636.7 365.6M636.4 406L639.1 406.4L641.9 406.1M636.7 365.6L639.7 364.5L642.8 364L645.8 362.9M653.6 303.9L650.9 305L648.1 305.2L645.2 305.3L642.5 305.7L639.7 306.4L636.9 306.6M638.2 394.4L641.4 395.7L643.8 398.1M638.2 394.4L639.6 391.6L640.9 388.7L642.3 386M640 334.1L642.3 335.6L643.8 337.9L645.6 340L647 342.3M640 334.1L639.4 330.8L641 327.8L641.6 324.7M641 383.5L642.3 386M643.9 376.2L642.7 378.5L641.6 380.9L641 383.5M641.6 324.7L643.1 323.4M641.9 406.1L643.2 408.6L643.3 411.2M641.9 406.1L645.1 402.6M642.3 386L645 387.2L647.3 389.3L650.3 389.8M642.6 351.5L644.8 353L646.3 355M643.1 347.4L642.6 351.5M650.2 322.8L646.6 321.9L643.1 323.4M643.1 347.4L644.7 344.5L647 342.3M643.8 398.1L645.1 402.6M643.8 398.1L645.8 396.3L647.3 394.2L648.1 391.5L650.3 389.8M648.7 374.8L643.9 376.2M649 403L645.1 402.6M650.2 366.6L647.8 364.9L645.8 362.9M645.8 362.9L645.6 360.2L645.6 357.6L646.3 355M653.3 354.9L649.8 355.2L646.3 355M647 342.3L649.5 342.1L651.9 341.1M648 288.8L648.7 291.1L650.4 293L652.2 294.9L654.7 296.1L655.5 298.9M648.7 374.8L651.5 375.8L654 377.5L656.4 379.2M648.7 374.8L650.1 372.2L650.1 369.4L650.2 366.6M649 403L651.5 405.4L654.2 407.8M655.4 395.6L653.4 398.2L651.4 400.8L649 403M659 362.4L655.7 362.9L653.2 365.5L650.2 366.6M657.9 327.5L654.8 326.9L653 324L650.2 322.8M653.6 303.9L652.7 306.6L652.7 309.3L652.2 312L651.7 314.7L651.4 317.4L650.1 320L650.2 322.8M651.8 389.7L650.3 389.8M651.8 389.7L653.8 391.5L655.4 393.5M656.4 379.2L655.3 381.9L654.9 384.8L652.5 386.9L651.8 389.7M657.2 346.6L654.9 345.3L653.7 342.9L651.9 341.1M657.9 327.5L656 330L656.4 333.4L654.7 335.8L653.1 338.4L651.9 341.1M654.2 407.8L654 410.4L653.5 412.9L653.2 413.7M659 362.4L657.5 359.6L655.5 357.2L653.3 354.9M657.2 346.6L655.6 349.2L654.2 351.9L653.3 354.9M655.2 302.3L653.6 303.9M661.3 403.5L659 405.1L656.4 406.2L654.2 407.8M655.2 302.3L657.6 303.9L660.2 305L662.2 307.1L664.5 308.7L667.4 309.5L669.2 311.9M655.5 298.9L655.2 302.3M655.4 393.5L655.4 395.6M663.2 391.6L660.9 393.4L658 393L655.4 393.5M661.3 403.5L659.2 401L657.4 398.3L655.4 395.6M666.6 290.3L664.9 292.7L662.7 294.4L660.3 296L657.5 296.9L655.5 298.9M657.8 378.9L656.4 379.2M657.2 346.6L659.7 346.9M657.8 378.9L660 380.5L661.1 383.2L663.7 384.2M657.8 378.9L659.6 377.1L661.3 375.2L663 373.2L664.2 371M663.4 327.1L660.7 328.4L657.9 327.5M659.3 362.5L662.8 365.5M659.3 362.5L661.3 360.4L662.3 357.9L662.3 354.9L664.1 352.8M659.7 346.9L661.7 350L664.1 352.8M659.7 346.9L661 344.4L664.1 344.3L665.6 342.2L666.9 339.7L669.9 339.4M663.9 403.2L661.3 403.5M664.2 371L664.1 368.1L662.8 365.5M662.8 365.5L665.2 364.3L667.1 362.2L670 362L671.7 359.7L674.3 358.7M663.1 277.1L663 279.7L665.7 280.9L666.6 283.4L668.2 285.3M668 395L667.1 394.8L665.3 393L663.2 391.6M663.7 384.2L663.2 387.9L663.2 391.6M663.4 327.1L664.4 329.7L667.1 331.4L668.2 334L668.6 336.9L669.9 339.4M663.4 327.1L665.6 325.8L667 323.6M663.7 384.2L666.4 384.6L669 383.3L671.8 384.2L672 384.2M671 352.8L667.6 352.7L664.1 352.8M664.2 371L666.7 371.6L669 372.6L671 373.6M666.6 290.3L668.6 292L670.3 294L671.6 296.4L672.6 299L675.3 300.2M668.2 285.3L666.9 287.7L666.6 290.3M667 323.6L669.9 324L672.9 324.5L675.6 325.9L678.7 325.5L681.6 326M667 323.6L668.4 320.8L667.9 317.7L668.4 314.7L669.2 311.9M679.4 283.3L676.7 284.2L673.9 284.8L671.1 285.5L668.2 285.3M669.2 311.9L670.5 311.1M669.9 339.4L672.2 340.6L674.4 341.9M670.5 311.1L673.2 311.5L676 311.1L678.6 312L681.3 312L683.9 313.5L686.6 313.3M675.3 300.2L674 302.9L673.1 305.7L671.8 308.4L670.5 311.1M674.3 358.7L673 355.6L671 352.8M671 352.8L671.9 350.2L673.2 347.5L674.2 344.9L674.4 341.9M674.3 358.7L676.8 359.4L678.8 361.2L680.6 361.3M682.7 341.5L682.6 341.5L679.9 341.8L677.2 342.1L674.4 341.9M683.5 298.6L680.7 298.6L678.1 300L675.3 300.2M685.7 290.6L683.3 288.4L681.4 285.8L679.4 283.3M682.7 276.9L681.5 278.5L681 281.1L679.4 283.3M681.6 326L683.4 328.3L684.9 330.7L686.7 332.4M681.6 326L682.8 323.6L683.7 321L683.5 318L686 316.1L686.8 313.5M683.5 298.6L684.4 302.2L687.6 304.1M685.7 290.6L685.9 293.5L684.6 296L683.5 298.6M695.3 289L692.1 289.3L688.9 290.3L685.7 290.6M686.6 313.3L687.2 310.3L687.7 307.2L687.6 304.1M686.8 313.5L689.7 314.4L692.7 315.2L695.5 316.5M687.6 304.1L690.1 302.7L693.2 303.4L695.6 301.7L698.2 300.5L701 300.2M694.1 277.4L695.7 279.2L698.2 280.7M695.3 289L696.9 291.4L698.4 294L700.8 295.9L702.6 298.2M695.3 289L696 286.1L697.2 283.4L698.2 280.7M695.5 316.5L695.6 319L696.3 321.5L696.7 324L697.2 326.4M700.1 314L698.1 315.7L695.5 316.5M705.2 278.8L701.9 280.5L698.2 280.7M710.9 316.6L708.2 316.2L705.4 316L702.9 314.2L700.1 314M701 300.2L700.6 302.9L701.2 305.7L699.4 308.4L701.2 311.3L700.1 314M702.6 298.2L701 300.2M708 297.7L705.4 298.8L702.6 298.2M715.3 290.6L714.7 288.1L712.7 286.3L711.5 283.8L708 283.4L706.6 281.1L705.2 278.8M708.8 272.1L708.8 272.2L708.3 274.8L706.4 276.6L705.2 278.8M714.4 310.7L712.5 308.4L712.2 305.3L710.9 302.7L707.9 301L708 297.7M713.9 292.3L713.6 292.6L711.6 294.1L709 295.1L708 297.7M710.9 316.6L711.3 319.1L712.5 321.4L712.9 323.5M714.4 310.7L712 313.2L710.9 316.6M724.4 308.7L721.6 307.6L719.4 309.7L716.8 309.9L714.4 310.7M724.4 308.7L724.4 306L723.8 303.3L724 300.6L722.7 298L722.7 296.1M729.6 312.2L728.6 311.4L726.4 310.1L724.4 308.7M272.6 97.5L259 108.2L245.3 114L235.6 119.9L220 125.7L211.8 127.3L192.7 119.1L173.6 124.5L167 124M272.6 97.5L276.5 104.3L278.4 114L284.3 121.8L296 129.6L297.9 135.5L292.1 139.4L294 149.1L299.9 158.8L305.7 164.7L309.6 174.4L309 179M235.6 119.9L239.5 133.5L241.4 141.3L251.2 149.1L260.9 156.9L259 166.6L259 171M108.9 394.4L112.7 397.4L108.6 416.1L112.7 422.3L110 430L95.5 435.9" fill="none" stroke-width="1.15" stroke-linejoin="round"/></g>
<g clip-path="url(#cc)"><use href="#dp" stroke="#f4dccc"/></g>
<path d="M248.8 284.3L252.7 283.3L255.7 284.3L257.7 287.7L257.7 292.1L255.7 294.6L253.2 295.6L250.8 292.6L247.3 292.6L246.4 290.6L248.3 288.7Z" fill="#ebe3e0"/>
<path d="M129.4 426.5L135.6 428.6L138 434L139.7 432.7L143.9 428.6L152.2 430.6L154.3 434.8L148 439L141.8 443.1L139.7 451.4L137.7 459.7L127.3 461.8L123.1 457.7L131.4 451.4L135.6 443.1L131.4 436.9L129.4 430.6ZM150 513.8L161.8 513.8L165.7 519.7L171.6 529.5L172.4 533.8L167.7 535.4L163.9 537.5L155.9 537.4L152.9 531.5L150 530.5ZM172.6 530.5L179.5 532.4L184.4 535.4L187.4 541.3L192.3 549.2L197.2 556L204.1 560L205.1 563.9L199.2 564.9L189.3 562.9L177.5 561L169.7 562.9L164.7 555.1L163.8 544.2L166.7 539.3L168.7 535.4ZM384.3 391L389.5 390.4L394.7 391.7L399.2 393L403.1 393.6L405.1 396.9L403.1 399.5L402.5 406L400.5 411.2L396 415.1L390.1 415.1L386.9 411.2L385.6 407.9L387.5 401.4L386.9 395.6ZM366.9 513.4L376 516L385.7 517.9L389 525.1L392.9 527.7L399.4 525.1L404.5 518.6L408.4 522.5L416.2 525.1L422.7 527.7L426.6 529L427.9 536.8L424 543.2L417.5 544.5L411 539.4L407.1 536.8L401.9 539.4L399.4 544.5L394.2 548.4L391.6 554.9L383.8 554.9L381.2 551L377.3 554.9L376 562.7L369.5 566.6L357.8 567.9L360.4 558.8L366.9 549.7L374.7 541.9L373.4 532.9L370.8 525.1L365.6 517.3ZM297 566.2L310.7 556.5L316.5 552.6L326.2 550.7L334 554.5L336 562.3L328.2 566.2L325.7 576L318.4 581.4L310.7 578L299 575ZM261.9 577.9L271.7 574L281.4 576L289.2 572.1L293.5 581.8L291.2 589.6L281.4 588.7L273.6 591.6L267.8 589.6L263.9 583.8Z" fill="#ead6c9" stroke="#f7ede7" stroke-width="0.9"/>
<path d="M152.5 528L158.9 527.7L166.3 525.2M377 530L384 533L392.9 527.7M404.5 518.6L406 530L407.1 536.8" fill="none" stroke="#f7ede7" stroke-width="1"/>
<path d="M187.2 627.8L199 632.7L203.9 638.6L202.9 648.4L197 654.3L194 664.1L190.1 662.2L185.2 648.4L182.2 642.5L183.2 636.6Z" fill="#ba6942"/>
<path d="M422.7 519.9L427.9 514.7L433.1 509.5L435.7 510.8L438.3 518.6L443.5 523.8L442.2 530.3L435.7 534.2L427.9 538.1L425.3 526.4L421.4 521.2ZM193.6 665.6L199.5 666.9L202.7 672.1L204.7 678.6L204 683.8L211.2 684.4L215.1 689L217.7 698.1L212.5 699.4L206 694.2L199.5 690.3L198.2 685.1L195.6 676L193 668.2ZM235.3 733.8L242 732.4L246 742L245 750L240 754L230 752.5L227.8 745.5L233.9 740.5ZM233.2 754.5L241 754L243.4 760L240 763.5L235 762.7ZM258.7 744.9L269.2 744.9L275.1 741.4L278.6 743.8L280.9 753.1L275.1 756.6L265.7 755.5L258.7 755.5Z" fill="#a03b08" stroke="#f4dccc" stroke-width="0.8"/>
<path d="M198 684L202 686L204.5 683.5M236 745L240 748L245.5 749" fill="none" stroke="#f3dccf" stroke-width="1"/>
</g>
<path d="M535.6 446L532.5 453.3L527.6 458.9L525.8 465L519 467.4L516.6 469.3L514.1 473L517.8 475.4L525.8 475.7L534.4 475.4L538.7 473L538.1 460.7L536.5 451.5ZM46.4 411.6L40.7 415.8L40.2 423.1L43.3 423.1L47 419.4L53.2 416.8L52.1 414.2ZM286 373L292 371.5L298 374L300.3 380L296 382.7L290 380Z" fill="#808080"/>
<path d="M209.7 187.8L216.2 187.1L222.7 183.2L224 176.8L221.4 172.2L227.9 169L233.6 168.6L244.4 161.8L247.3 164.7L258 172.5L266.8 169.6L270.7 172.5L274.5 178.3L282.3 176.4L284.9 181.2M222.7 183.2L216.9 194.3L225.3 202.7L230.5 215.7L235.7 213.1L240.9 220.9L246.1 227.4L247.4 236.2M247.4 236.2L239.6 247.9L231.8 251.8L229.9 255.7L218.2 257.7L208.4 259.6L204.5 255.7L190.9 253.8L176 251M190.9 253.8L191.9 265.5L196.8 269.4L210.4 273.3L214.3 286.9L222.1 294.7L226 302.5L225.5 309.7L232.3 308.8L234.3 303.9L246 301.2L247.6 314L250.8 315.6L257.2 312.4M247.4 236.2L259.1 240.1L264.9 241.1L268.8 236.2L267.9 224.5L274.7 218.7L286.4 217.7L296.9 221.7M264.9 241.1L259.1 247.9L255.2 255.7L253.3 271.3L254.2 277.4L255.7 281.3L255.7 284.3M257.7 292.1L258.6 293.1L262.1 296.5L263.6 301.5L262.6 307.4L257.2 312.4L258.8 321.9L265.1 328.3L266.7 333.1L277.9 335.5L281.1 337.9L293.9 340.3L298.7 344.3L300.3 352.3L297.1 358.7L293.9 366.7L292.3 371.5M248.8 284.3L252.7 283.3L255.7 284.3L257.7 287.7L257.7 292.1L255.7 294.6L253.2 295.6L250.8 292.6L247.3 292.6L246.4 290.6L248.3 288.7L248.8 284.3M268.2 242.1L267.9 257.7L272.1 263.5L281.8 259.6L293.5 269.4L309.1 281L322.7 285.9M277.9 335.5L261.9 344.3L246 357.1L238 365.1L239.6 374.7L247.6 378.7L258.8 376.3L260.4 382.7L247.6 387.4L246 392.2L249.2 398.6L247.6 408.2L234.3 405.2L228.4 409.1L226.5 413L218.7 416.9L214.8 413L220.7 409.1L222.6 393.5L210.9 391.6L209 385.7L201.2 387.7L197.3 399.4L199.2 409.1L201.2 416.9L195.3 430.5L189.2 437M108.1 395.8L117.6 395.8L132.4 394.5L140.5 397.8L147.3 401.9L156.8 400.5L159.5 405.9L163.5 410L167.6 419.5L175.7 427.6L183.8 430.3L189.2 437M189.2 437L187.8 446.5L181.1 451.9L181.7 461.2L189.5 464.1L181.7 463.1L173.9 469L177.8 476.8L185.6 475.8L170 484.5L175.8 488.4L170 498.2L166 503L160 506L155 510L150 511M292.3 371.5L284.3 371.5L281.1 377.9L282.7 382.7L277.9 389L279.5 398.6L284.3 405L290.7 408.2L297.1 401.8L293.9 393.8L289.1 382.7L287.5 377.1L293.9 373.1L297.1 381.1L305.1 381.1L309.9 382.7L317.9 382.7L325.8 376.3L331.2 384.6L342.9 381.7L342.9 387.5L352.6 381.7L358.4 383.6L366.2 387.5L370 390.4L373.9 392.3L378.4 395L385.6 394.3M412.7 323.1L415.8 329.4L418.2 335.6L423.6 338.7L426.8 343.4L419 343.4L414.3 346.5L415.1 348.8L420.5 350.4L420.5 353.5L417.4 354.3L419.7 359L424.4 363.6L431.4 366.8L426.8 366.8L420.5 367.5L412.7 374.5L404.9 379.2L402.5 380M514.1 468.7L516.6 464.4L514.7 458.9L511 455.8L509.2 452.7M420 399.5L426.6 402.1L436 400.7L444 399.1L456.8 392.7L464.7 391.1L469.5 394.3L474.3 400.7L483.9 395.9L488.7 394.3L491.9 386.3L499.9 378.4L506.3 380M506.3 380L511.1 373.6L509.5 364L515.9 352.8L517.5 344.8L516 346.2M506.3 380L508.7 387.9L509.5 395.9L504.7 405.5L496.7 410.3L493.5 415.1L483.9 418.3L474.3 421.5L467.9 424.7L461.5 427.9L461.5 432.7L467.9 435.9L475.9 439.1L480.7 448.7L485.5 458.2L493.5 469.2L499.4 474.1M418.8 452.8L432.5 451.8L442.9 451.7L440.9 461.4L462.3 461.4L464.3 451.7L474 455.6L483.8 459.5M388.8 414.4L383 416.4L374 416.8L360.4 415.8L360.4 422.6L372.1 428.4L372.1 436.2L364.3 444L350.7 451.8L342.9 461.6L339 471.3L334.3 481.6M385.6 394.3L386.9 395.6L387.5 401.4L385.6 407.9L386.9 411.2L390.1 415.1L396 415.1L400.5 411.2L402.5 406L403.1 399.5L405.1 396.9L403.1 393.6L402.5 391.7L401.2 385.2L402.5 380M405.1 398.8L415.5 398.2L420 399.5M401.2 409.9L406.4 415.1L410.3 419L415.5 422.9L418.8 436.2L424.7 442.1L418.8 451.8L411 455.7L405.2 463.5L401.3 479.1L389.6 486.9L382.5 490L377.9 497.8L377.3 513.4L383.8 516L385.7 517.9M377.3 513.4L370.8 513.4L366.9 513.4L370.8 522.5L373.4 532.9L374.7 541.9L366.9 549.7L357.8 566.6L356.5 569.2M334.3 481.6L334.1 494.7L334.8 499.4L331.3 509.9L332.5 518L341.8 527.4L334.8 532.1L327.8 541.4L327.8 547.3L336 553.1L341.8 560.1L346.5 570M189.5 464.1L195.3 470.9L209 477.7L225 479L229.2 480.3L229.9 483.2L230.2 487.1L236.4 487.1L238 484.5L241.2 483.8L241.9 481.6L244.5 478L245.1 474.4L250 472.1L255.7 470.9L261.6 470.9L263.5 477.7L275.2 476.8L284.9 474.8L296.6 473.8L304.4 470.9L311.7 473.3L323.4 475.2L333.1 479.1M282.2 516.9L295.1 521.6L303.2 525.1L314.9 525.1L319.6 529.7L318.4 539.1L321.9 546.1L327.8 547.3M282.2 516.9L281 525.1L271.7 532.1L271.3 540L272.3 543.9L267.4 548.9L263.4 554.8L262.5 556.7M356.5 569.2L369.5 566.6L377.3 562.7L378.6 554.9L383.8 556.2L391.6 554.9L394.2 548.4L399.4 544.5L401.9 539.4L407.1 536.8L412.3 540.6L417.5 544.5L424 543.2L427.9 539.4L434.4 536.8L443.5 529M345.7 569.2L357.4 570.1L355.5 577.9L343.8 585.7L334 589.6L324.3 591.6L320.4 597.4L306.8 601.3L304.8 604L297 610.3L283 613.4L276.8 617.3L262.7 614.9L262.7 605.6L259.6 602.5M262.5 556.7L258.5 552.8L249.7 560.7L243.8 568.5L235.9 574.4L233.9 580.3L230 581.3L218.3 578.7L216.8 588L201.2 591.2L193.4 595.8L185.6 602.1L190.3 611.4L185.6 620.8L177.8 622.3L170 619.2M185.6 620.8L186 627L183.2 633M262.5 556.7L264.4 565.6L261.5 573.4L266.4 577.4L259.5 584.3L261.5 589.2L260.5 601L256.6 603L264.4 606.9L261.5 614.8L252.6 616.1M261.9 614.5L252.6 616.1L251 625.5L254.2 634.8L244.8 637.9L246.4 650L248.8 655.2L252.7 655.2L260.5 656.5L263.1 663L257.9 666.9L252.7 669.5L248.8 665.6L250.1 661.7L247.5 659.1L248.8 655.2M263.1 663L263.1 666.9L270.9 668.2L276 671L280 674.7L283.1 676.2L287.2 680.4L285.1 686.6L281 691.8M263.3 705.3L265.4 696L270.6 691.8L277.9 693.9L284.1 696L289.3 687.7L296.6 685.6L303.8 685.6L307 680.4L313.2 680.4L319.4 676.2L323.6 674.2L327.7 672.1M199.8 691.4L204 694L207.8 696.5L210.3 700L213.3 704.4L217.7 708.8L222.1 713.3L228 714.7L231.7 716.9L236.8 719.2L240 719.9L246 719L250 718M237.7 719.4L248.1 718.1L255.8 716.8L264.9 712.9L268.8 705.1L263.3 705.3M236.8 719.2L233.1 722.1L232.4 724.3L235.4 725.8L239.8 728L238.2 732.8L244.7 734L246.5 742L247 753.4L255.2 756L256 768.6L255.2 783.8L252.9 790.8L256.4 795.5L254 801.3L257.5 805M513.1 330.7L520 331L527 329L532.6 329.7M556.9 341L556.9 352.1L553.5 353.4M556.9 362.5L560.8 361.2L571.2 359.9L579 361.8L586.8 363.8L589.4 367L594.5 363.8L598.4 359.9L603.6 357.3L607.5 359.2L615.3 357.9L611.4 361.2L611.4 367.7L620.5 370.3L623.1 375.5L626.4 379.4L620.5 383.2M620.5 383.2L617.9 388.4L614 391L613.6 400.4L614.4 407.4M614.4 407.4L624.5 401.2L630.8 409M630.8 409L640.1 411.3L649.5 413.6L658.8 416M609.5 335L626.9 333.9L648.8 334.7L652.2 328.8L660.7 317L677.5 312.8L691 308.6L702 307.7L697.8 315.3L701.2 322.1L702.9 325.5L706.9 324.3M701.2 325.5L694.4 327.1L684.3 333.9L677.5 337.3L667.4 340.7L660.7 345.7L657.3 354.2L650.5 362.6L642.1 371L640.4 374.4L643.8 379.5M643.8 379.5L650.5 372.7L660.7 371L669.1 369.4L672.5 369.4M643.8 379.5L638.6 385.6L633.9 398L630.8 409" fill="none" stroke="#848484" stroke-width="1.7" stroke-linejoin="round"/>
<path d="M194.9 50.4L200.1 53L204 53.6L206.6 51L209.2 51L213.1 55.6L220.9 65.3L231.7 70.2L242.4 79L245.3 86.8L258 92.6L259.9 97.5L270.7 96.5L280.4 90.7L286.2 86.8L297.9 85.8L303.8 82.9L309.6 84.8L317.4 87.7L321.3 87.7L327.1 94.5L327.1 104.3L325.2 112.1L319.4 119.9L315.5 126.7L311.6 127.7L308.6 136.4L303.8 139.4L296 140.3L295 145.2L297.9 151L295.8 152.1L296.4 156.2L301.6 159.4L307.8 161.4L306.8 169.7L310.9 177L310.9 180.6L304.7 183.2L300 185.8L296.9 187.4L293.2 184.3L291.7 178.6L284.9 181.2L284.9 186.4L284.9 190.5L291.2 196.8L291.2 204L293.2 208.2L292.2 212.3L295.3 218.6L296.9 221.7L298.4 212.3L303.6 216.5L307.8 222.7L315.1 224.8L322.3 229L326.6 233.3L336.4 240.1L346.1 245L340.3 249.9L332.5 257.7L328.6 269.4L324.7 280.1L322.7 285.9L334.4 288.8L340 291.7L351.7 301.4L367.3 309.2L386.8 315.1L388.7 319.9L402.3 320.9L413.1 322.9L419.9 319.9L431.6 326.8L433.5 332.6L445.2 336.5L456.9 337.5L462.7 343.3L474.4 344.3L484.2 348.2L489.7 345.3L491.7 349.2L499.5 348.2L511.2 349.2L516 346.2L513.1 330.7L515.1 309.2L526.8 304.4L532.6 307.3L532.6 324.8L532.6 329.7L538.4 336.5L554 340.4L557 342.3L569.6 337.5L587.1 338.4L601.7 336L609.5 335L608.5 324.3L601.7 319.4L597.8 311.6L605.6 310.7L615.3 310.7L625.1 302.9L636.8 296L640.7 289.2L652.3 287.3L660.1 278.5L669.9 270.7L677.7 274.6L691.3 278.5L705 267.8L711.8 273.6L706.9 279.5L715.7 278.5L717.6 289.2L711.8 296L722.5 295.1L734.2 300.9L736.1 306.8L724.4 318.4L726.4 326.2L730.3 330.1L720.5 324.3L706.9 324.3L699.1 326.2L685.5 334L683.5 341.8L682.5 351.6L681.6 361.3L675.7 369.1L671.8 373L672.8 384.7L669.7 393.4L663.5 405.8L658.8 416L649.5 413.6L640.1 411.3L641.7 421.4L640.9 435.5L635.5 438.6L634.7 447.9L636.2 457.3L632.3 461.9L629.2 465.8L624.5 461.9L622.2 464.3L619.9 447.9L616.8 437L615.2 421.4L614.4 407.4L612.1 419.1L607.4 421.4L606.6 429.2L602.7 437L598.1 439.3L593.4 433.9L590.3 427.7L587.9 419.9L589.5 412.1L593.4 409.7L600.4 406.6L607.4 402.7L612.9 400.4L613.6 389.5L616.8 384.8L593.4 382.2L580 382L570.6 382L562.3 379.9L555.6 378.3L556.1 372.6L559.2 370.5L556.6 369.5L557.1 364.3L556.1 359.1L553.5 353.4L551.9 355.5L549.9 360.6L544.7 359.6L541.6 356L538.4 351.8L535.3 349.7L533.2 353.9L530.1 352.3L524.9 348.7L520.8 346.6L516.6 354.9L515.1 363.2L520.8 367.4L524.9 372.6L531.2 373.1L533.2 376.8L536.4 378.8L533.2 380.9L523.9 381.9L521.8 388.2L516.6 389.2L513 395.5L517.7 400.6L527.9 404.7L530.5 412.5L526 419L531.2 425.5L530.5 430.6L536.4 432.6L533.8 437.1L535 444.9L536.8 455.8L538.1 460.7L538.1 465.6L538.7 473L534.4 475.4L524.6 475.7L517.2 474.8L513.5 473L514.1 468.7L509.2 469.9L500 473.6L489.6 479L483.8 486.8L485.7 496.5L490.6 497.5L481.8 504.3L474 514L458.4 519.9L443.5 529L433.1 539.4L425.5 551L420.3 557.3L409.9 562.5L403.6 567.7L398.4 574.9L391.2 578.1L382.9 582.2L377.7 586.4L375.6 591.6L376.6 595.7L372.5 595.7L376.6 599.9L370.4 603L363.1 606.1L356.5 606.6L348.7 612.1L344.8 619.9L340.9 617.9L334.1 617.9L327.3 623.8L323.4 637.4L325.3 654.9L327.3 672.5L328.8 674.8L328.8 684L325.1 696.9L319.6 707.9L315.9 713.5L317.7 730.1L319.6 754L306.7 757.7L301.1 767L297.4 774.3L306.7 778L297.4 778L286.4 779.9L279 785.4L275.3 796.5L264.3 805.7L256.9 803.8L247.7 792.8L238.4 778L232.9 767L227.4 748.5L223.6 738.3L221.4 730.9L218.4 725L215.5 719.2L211 714.7L207.4 710.3L204.4 705.2L202.2 700L199.8 691.4L196.1 678.5L193.3 665.6L188.7 656.4L183.2 643.5L179.5 636.1L174 626.9L168.4 615.8L163.8 601.1L161.1 590L159.5 579.6L155.6 565.9L153.6 554.1L151.6 540.3L149.7 530.5L147.7 518.7L149.7 508.8L151.6 499L147.7 489.2L145.7 479.3L144.7 469.5L143.8 457.7L141 455.7L138.1 463.4L138.1 473.8L134.2 482.9L125.1 488.1L113.4 493.2L103.1 496.5L90.1 488.1L81 477.7L71.9 469.9L62.8 463.4L58.9 456.9L58.9 453L60.8 451.7L65.4 453L64.1 456.2L74.5 453L78.2 452.7L86.4 450L90 447.3L92.7 440.9L95.5 435.9L90 439.1L83.6 440.9L78.2 442.7L76.4 444.5L68.2 442.7L60.9 440L54.5 436.4L50 432.7L50.9 430L47.7 425.5L47.3 420L43.3 423.1L40.2 423.1L40.7 415.8L46.4 411.6L48 413.2L53.7 413.2L54.7 404.4L61.2 405.1L76.8 405.1L88.4 403.1L97.2 401.2L98.2 405.1L104 404.1L107.9 401.2L108.9 394.4L104 381.7L100.1 370L97.4 369.4L89.5 367.4L85.6 359.6L87.5 345.8L79.7 343.8L71.8 339.9L71.8 332L79.7 322.2L87.5 310.4L93.4 305.5L98.3 306.5L102.3 314.4L111.1 311.4L120.9 309.4L128.8 307.5L130.8 302.6L136.7 292.7L140.6 284.9L154.4 277L162.2 261.3L166.2 253.4L176 249.5L176 245.6L177.9 239.7L185.8 229.8L187.7 227.4L191.6 222.2L191.6 218.3L192.9 213.1L190.9 207.9L191.6 202.7L195.5 198.8L200.6 196.2L208.4 193.6L211 191L209.7 187.8L203.2 184.5L196.8 183.9L194.2 180.6L194.8 174.2L192.9 176.8L185.1 174.2L176 170.3L169.5 167.7L167.5 157.3L168.2 148.2L166.2 136.5L164.3 130L165.1 125.7L170.3 123.1L172.9 117.9L179.4 112.7L178 108.2L170.9 103.6L172.9 97.8L171.6 95.2L162.5 93.2L157.9 90L154.7 86.1L145.6 86.1L142.3 79.6L144.3 74.4L150.8 71.8L157.3 62.7L161.2 60.8L169 62L172.9 60.1L170.9 58.2L171.6 56.2L175.5 57.5L179.4 56.9L184.5 54.3L192.3 52.3Z" fill="none" stroke="#848484" stroke-width="1.7" stroke-linejoin="round"/>
<path d="M630.9 671.3L633 677.5L631.9 688L627.8 690.1L623.6 689L625.7 680.7L628.8 674.4ZM624.6 691.1L630.9 692.2L630.9 704.7L625.7 706.8L623.6 699.5Z" fill="#d8d8d8" stroke="#858585" stroke-width="1.5" stroke-linejoin="round"/>
<path d="M622.5 707.8L626.7 708.9L626.7 721.4L623.6 727.7L620.4 723.5L619.9 715.2ZM617.3 740.2L620.4 738.1L622 744.4L619.4 747.5L616.3 745.5Z" fill="#e2d2ca" stroke="#858585" stroke-width="1.5" stroke-linejoin="round"/>
<path d="M630.9 704.7L634 704.7L633 716.2L629.9 713.1Z" fill="#858585" stroke="#858585" stroke-width="1.2" stroke-linejoin="round"/>
<g fill="#858585"><circle cx="646.3" cy="641.3" r="0.9"/><circle cx="652" cy="704.6" r="1.1"/><circle cx="613.7" cy="722.5" r="1.2"/><circle cx="626.1" cy="779.7" r="2"/><circle cx="646.6" cy="796" r="1.2"/><circle cx="635.5" cy="801.1" r="2.2"/><circle cx="644.5" cy="805.5" r="2"/><circle cx="640.6" cy="809.2" r="2.4"/><circle cx="146.6" cy="746.6" r="1"/><circle cx="170.2" cy="740.8" r="1.2"/><circle cx="156.4" cy="801.4" r="1"/></g>
</svg>
<div id="t">DNA H (Tamil) Kudumi density interactive map</div>
</body></html>
